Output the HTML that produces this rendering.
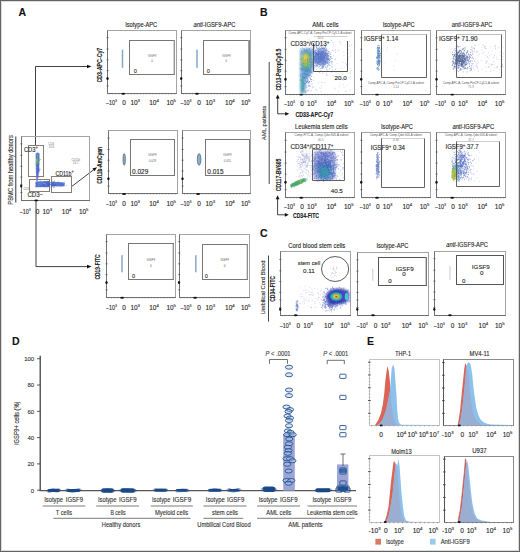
<!DOCTYPE html>
<html><head><meta charset="utf-8"><style>
html,body{margin:0;padding:0;background:#fff;}
svg{display:block;font-family:"Liberation Sans", sans-serif;}
text{stroke:#333;stroke-width:0.12px;}
text.t{stroke:none;}
</style></head><body>
<svg width="520" height="552" viewBox="0 0 520 552">
<defs><filter id="b1" x="-20%" y="-20%" width="140%" height="140%"><feGaussianBlur stdDeviation="0.9"/></filter>
<filter id="b2" x="-20%" y="-20%" width="140%" height="140%"><feGaussianBlur stdDeviation="0.5"/></filter></defs>
<rect x="1.5" y="1.5" width="517" height="549" fill="none" stroke="#dcdcdc" stroke-width="1"/>
<rect x="0.5" y="0.5" width="519" height="551" fill="none" stroke="#646464" stroke-width="1"/>
<text x="18.4" y="15.6" font-size="10.5" text-anchor="start" font-weight="bold" fill="#111">A</text>
<rect x="107.5" y="30.5" width="69.0" height="63.0" stroke="#a4a4a4" stroke-width="1.0" fill="none"/>
<line x1="107.5" y1="30.5" x2="107.5" y2="94.0" stroke="#707070" stroke-width="1.0"/>
<line x1="107.0" y1="93.5" x2="177.0" y2="93.5" stroke="#707070" stroke-width="1.0"/>
<line x1="106.5" y1="37.62" x2="108.7" y2="37.62" stroke="#444" stroke-width="0.6"/>
<line x1="106.5" y1="49.05" x2="108.7" y2="49.05" stroke="#444" stroke-width="0.6"/>
<line x1="106.5" y1="59.845" x2="108.7" y2="59.845" stroke="#444" stroke-width="0.6"/>
<line x1="106.5" y1="70.64" x2="108.7" y2="70.64" stroke="#444" stroke-width="0.6"/>
<line x1="106.5" y1="78.25999999999999" x2="108.7" y2="78.25999999999999" stroke="#444" stroke-width="0.6"/>
<line x1="106.5" y1="85.88" x2="108.7" y2="85.88" stroke="#444" stroke-width="0.6"/>
<line x1="109.5" y1="93.5" x2="109.5" y2="94.5" stroke="#555" stroke-width="0.4"/>
<line x1="112.6" y1="93.5" x2="112.6" y2="94.5" stroke="#555" stroke-width="0.4"/>
<line x1="115.7" y1="93.5" x2="115.7" y2="94.5" stroke="#555" stroke-width="0.4"/>
<line x1="118.8" y1="93.5" x2="118.8" y2="94.5" stroke="#555" stroke-width="0.4"/>
<line x1="121.9" y1="93.5" x2="121.9" y2="94.5" stroke="#555" stroke-width="0.4"/>
<line x1="125.0" y1="93.5" x2="125.0" y2="94.5" stroke="#555" stroke-width="0.4"/>
<line x1="128.1" y1="93.5" x2="128.1" y2="94.5" stroke="#555" stroke-width="0.4"/>
<line x1="131.2" y1="93.5" x2="131.2" y2="94.5" stroke="#555" stroke-width="0.4"/>
<line x1="134.3" y1="93.5" x2="134.3" y2="94.5" stroke="#555" stroke-width="0.4"/>
<line x1="137.4" y1="93.5" x2="137.4" y2="94.5" stroke="#555" stroke-width="0.4"/>
<line x1="140.5" y1="93.5" x2="140.5" y2="94.5" stroke="#555" stroke-width="0.4"/>
<line x1="143.6" y1="93.5" x2="143.6" y2="94.5" stroke="#555" stroke-width="0.4"/>
<line x1="146.7" y1="93.5" x2="146.7" y2="94.5" stroke="#555" stroke-width="0.4"/>
<line x1="149.8" y1="93.5" x2="149.8" y2="94.5" stroke="#555" stroke-width="0.4"/>
<line x1="152.89999999999998" y1="93.5" x2="152.89999999999998" y2="94.5" stroke="#555" stroke-width="0.4"/>
<line x1="156.0" y1="93.5" x2="156.0" y2="94.5" stroke="#555" stroke-width="0.4"/>
<line x1="159.1" y1="93.5" x2="159.1" y2="94.5" stroke="#555" stroke-width="0.4"/>
<line x1="162.2" y1="93.5" x2="162.2" y2="94.5" stroke="#555" stroke-width="0.4"/>
<line x1="165.3" y1="93.5" x2="165.3" y2="94.5" stroke="#555" stroke-width="0.4"/>
<line x1="168.39999999999998" y1="93.5" x2="168.39999999999998" y2="94.5" stroke="#555" stroke-width="0.4"/>
<line x1="171.5" y1="93.5" x2="171.5" y2="94.5" stroke="#555" stroke-width="0.4"/>
<line x1="174.6" y1="93.5" x2="174.6" y2="94.5" stroke="#555" stroke-width="0.4"/>
<ellipse cx="107.50" cy="78.51" rx="1.1" ry="1.5" fill="#111"/>
<ellipse cx="123.25" cy="93.80" rx="1.9" ry="0.95" fill="#111"/>
<text x="111.60" y="105.0" font-size="6.5" text-anchor="middle" fill="#222" textLength="11" lengthAdjust="spacingAndGlyphs">–10<tspan font-size="4.29" baseline-shift="2.73">3</tspan></text>
<text x="124.00" y="105.0" font-size="6.5" text-anchor="middle" font-weight="normal" fill="#222">0</text>
<text x="135.20" y="105.0" font-size="6.5" text-anchor="middle" fill="#222">10<tspan font-size="4.29" baseline-shift="2.73">3</tspan></text>
<text x="154.00" y="105.0" font-size="6.5" text-anchor="middle" fill="#222">10<tspan font-size="4.29" baseline-shift="2.73">4</tspan></text>
<text x="171.20" y="105.0" font-size="6.5" text-anchor="middle" fill="#222">10<tspan font-size="4.29" baseline-shift="2.73">5</tspan></text>
<rect x="181.5" y="30.5" width="69.0" height="63.0" stroke="#a4a4a4" stroke-width="1.0" fill="none"/>
<line x1="181.5" y1="30.5" x2="181.5" y2="94.0" stroke="#707070" stroke-width="1.0"/>
<line x1="181.0" y1="93.5" x2="251.0" y2="93.5" stroke="#707070" stroke-width="1.0"/>
<line x1="180.2" y1="37.62" x2="182.39999999999998" y2="37.62" stroke="#444" stroke-width="0.6"/>
<line x1="180.2" y1="49.05" x2="182.39999999999998" y2="49.05" stroke="#444" stroke-width="0.6"/>
<line x1="180.2" y1="59.845" x2="182.39999999999998" y2="59.845" stroke="#444" stroke-width="0.6"/>
<line x1="180.2" y1="70.64" x2="182.39999999999998" y2="70.64" stroke="#444" stroke-width="0.6"/>
<line x1="180.2" y1="78.25999999999999" x2="182.39999999999998" y2="78.25999999999999" stroke="#444" stroke-width="0.6"/>
<line x1="180.2" y1="85.88" x2="182.39999999999998" y2="85.88" stroke="#444" stroke-width="0.6"/>
<line x1="183.2" y1="93.5" x2="183.2" y2="94.5" stroke="#555" stroke-width="0.4"/>
<line x1="186.3047619047619" y1="93.5" x2="186.3047619047619" y2="94.5" stroke="#555" stroke-width="0.4"/>
<line x1="189.4095238095238" y1="93.5" x2="189.4095238095238" y2="94.5" stroke="#555" stroke-width="0.4"/>
<line x1="192.5142857142857" y1="93.5" x2="192.5142857142857" y2="94.5" stroke="#555" stroke-width="0.4"/>
<line x1="195.61904761904762" y1="93.5" x2="195.61904761904762" y2="94.5" stroke="#555" stroke-width="0.4"/>
<line x1="198.7238095238095" y1="93.5" x2="198.7238095238095" y2="94.5" stroke="#555" stroke-width="0.4"/>
<line x1="201.82857142857142" y1="93.5" x2="201.82857142857142" y2="94.5" stroke="#555" stroke-width="0.4"/>
<line x1="204.93333333333334" y1="93.5" x2="204.93333333333334" y2="94.5" stroke="#555" stroke-width="0.4"/>
<line x1="208.03809523809522" y1="93.5" x2="208.03809523809522" y2="94.5" stroke="#555" stroke-width="0.4"/>
<line x1="211.14285714285714" y1="93.5" x2="211.14285714285714" y2="94.5" stroke="#555" stroke-width="0.4"/>
<line x1="214.24761904761905" y1="93.5" x2="214.24761904761905" y2="94.5" stroke="#555" stroke-width="0.4"/>
<line x1="217.35238095238094" y1="93.5" x2="217.35238095238094" y2="94.5" stroke="#555" stroke-width="0.4"/>
<line x1="220.45714285714286" y1="93.5" x2="220.45714285714286" y2="94.5" stroke="#555" stroke-width="0.4"/>
<line x1="223.56190476190477" y1="93.5" x2="223.56190476190477" y2="94.5" stroke="#555" stroke-width="0.4"/>
<line x1="226.66666666666666" y1="93.5" x2="226.66666666666666" y2="94.5" stroke="#555" stroke-width="0.4"/>
<line x1="229.77142857142857" y1="93.5" x2="229.77142857142857" y2="94.5" stroke="#555" stroke-width="0.4"/>
<line x1="232.8761904761905" y1="93.5" x2="232.8761904761905" y2="94.5" stroke="#555" stroke-width="0.4"/>
<line x1="235.98095238095237" y1="93.5" x2="235.98095238095237" y2="94.5" stroke="#555" stroke-width="0.4"/>
<line x1="239.0857142857143" y1="93.5" x2="239.0857142857143" y2="94.5" stroke="#555" stroke-width="0.4"/>
<line x1="242.1904761904762" y1="93.5" x2="242.1904761904762" y2="94.5" stroke="#555" stroke-width="0.4"/>
<line x1="245.29523809523812" y1="93.5" x2="245.29523809523812" y2="94.5" stroke="#555" stroke-width="0.4"/>
<line x1="248.4" y1="93.5" x2="248.4" y2="94.5" stroke="#555" stroke-width="0.4"/>
<ellipse cx="181.20" cy="78.51" rx="1.1" ry="1.5" fill="#111"/>
<ellipse cx="196.98" cy="93.80" rx="1.9" ry="0.95" fill="#111"/>
<text x="185.90" y="105.0" font-size="6.5" text-anchor="middle" fill="#222" textLength="11" lengthAdjust="spacingAndGlyphs">–10<tspan font-size="4.29" baseline-shift="2.73">3</tspan></text>
<text x="199.00" y="105.0" font-size="6.5" text-anchor="middle" font-weight="normal" fill="#222">0</text>
<text x="210.30" y="105.0" font-size="6.5" text-anchor="middle" fill="#222">10<tspan font-size="4.29" baseline-shift="2.73">3</tspan></text>
<text x="229.90" y="105.0" font-size="6.5" text-anchor="middle" fill="#222">10<tspan font-size="4.29" baseline-shift="2.73">4</tspan></text>
<text x="245.70" y="105.0" font-size="6.5" text-anchor="middle" fill="#222">10<tspan font-size="4.29" baseline-shift="2.73">5</tspan></text>
<rect x="108.5" y="130.5" width="69.0" height="63.0" stroke="#a4a4a4" stroke-width="1.0" fill="none"/>
<line x1="108.5" y1="130.5" x2="108.5" y2="194.0" stroke="#707070" stroke-width="1.0"/>
<line x1="108.0" y1="193.5" x2="178.0" y2="193.5" stroke="#707070" stroke-width="1.0"/>
<line x1="107.4" y1="138.084" x2="109.60000000000001" y2="138.084" stroke="#444" stroke-width="0.6"/>
<line x1="107.4" y1="149.46" x2="109.60000000000001" y2="149.46" stroke="#444" stroke-width="0.6"/>
<line x1="107.4" y1="160.204" x2="109.60000000000001" y2="160.204" stroke="#444" stroke-width="0.6"/>
<line x1="107.4" y1="170.94799999999998" x2="109.60000000000001" y2="170.94799999999998" stroke="#444" stroke-width="0.6"/>
<line x1="107.4" y1="178.53199999999998" x2="109.60000000000001" y2="178.53199999999998" stroke="#444" stroke-width="0.6"/>
<line x1="107.4" y1="186.11599999999999" x2="109.60000000000001" y2="186.11599999999999" stroke="#444" stroke-width="0.6"/>
<line x1="110.4" y1="193.7" x2="110.4" y2="194.7" stroke="#555" stroke-width="0.4"/>
<line x1="113.47619047619048" y1="193.7" x2="113.47619047619048" y2="194.7" stroke="#555" stroke-width="0.4"/>
<line x1="116.55238095238096" y1="193.7" x2="116.55238095238096" y2="194.7" stroke="#555" stroke-width="0.4"/>
<line x1="119.62857142857143" y1="193.7" x2="119.62857142857143" y2="194.7" stroke="#555" stroke-width="0.4"/>
<line x1="122.70476190476191" y1="193.7" x2="122.70476190476191" y2="194.7" stroke="#555" stroke-width="0.4"/>
<line x1="125.78095238095239" y1="193.7" x2="125.78095238095239" y2="194.7" stroke="#555" stroke-width="0.4"/>
<line x1="128.85714285714286" y1="193.7" x2="128.85714285714286" y2="194.7" stroke="#555" stroke-width="0.4"/>
<line x1="131.93333333333334" y1="193.7" x2="131.93333333333334" y2="194.7" stroke="#555" stroke-width="0.4"/>
<line x1="135.0095238095238" y1="193.7" x2="135.0095238095238" y2="194.7" stroke="#555" stroke-width="0.4"/>
<line x1="138.0857142857143" y1="193.7" x2="138.0857142857143" y2="194.7" stroke="#555" stroke-width="0.4"/>
<line x1="141.16190476190476" y1="193.7" x2="141.16190476190476" y2="194.7" stroke="#555" stroke-width="0.4"/>
<line x1="144.23809523809524" y1="193.7" x2="144.23809523809524" y2="194.7" stroke="#555" stroke-width="0.4"/>
<line x1="147.31428571428572" y1="193.7" x2="147.31428571428572" y2="194.7" stroke="#555" stroke-width="0.4"/>
<line x1="150.3904761904762" y1="193.7" x2="150.3904761904762" y2="194.7" stroke="#555" stroke-width="0.4"/>
<line x1="153.46666666666667" y1="193.7" x2="153.46666666666667" y2="194.7" stroke="#555" stroke-width="0.4"/>
<line x1="156.54285714285714" y1="193.7" x2="156.54285714285714" y2="194.7" stroke="#555" stroke-width="0.4"/>
<line x1="159.61904761904762" y1="193.7" x2="159.61904761904762" y2="194.7" stroke="#555" stroke-width="0.4"/>
<line x1="162.6952380952381" y1="193.7" x2="162.6952380952381" y2="194.7" stroke="#555" stroke-width="0.4"/>
<line x1="165.77142857142857" y1="193.7" x2="165.77142857142857" y2="194.7" stroke="#555" stroke-width="0.4"/>
<line x1="168.84761904761905" y1="193.7" x2="168.84761904761905" y2="194.7" stroke="#555" stroke-width="0.4"/>
<line x1="171.92380952380952" y1="193.7" x2="171.92380952380952" y2="194.7" stroke="#555" stroke-width="0.4"/>
<line x1="175.0" y1="193.7" x2="175.0" y2="194.7" stroke="#555" stroke-width="0.4"/>
<ellipse cx="108.40" cy="178.78" rx="1.1" ry="1.5" fill="#111"/>
<ellipse cx="124.04" cy="194.00" rx="1.9" ry="0.95" fill="#111"/>
<text x="111.60" y="205.5" font-size="6.5" text-anchor="middle" fill="#222" textLength="11" lengthAdjust="spacingAndGlyphs">–10<tspan font-size="4.29" baseline-shift="2.73">3</tspan></text>
<text x="124.00" y="205.5" font-size="6.5" text-anchor="middle" font-weight="normal" fill="#222">0</text>
<text x="135.20" y="205.5" font-size="6.5" text-anchor="middle" fill="#222">10<tspan font-size="4.29" baseline-shift="2.73">3</tspan></text>
<text x="154.00" y="205.5" font-size="6.5" text-anchor="middle" fill="#222">10<tspan font-size="4.29" baseline-shift="2.73">4</tspan></text>
<text x="171.20" y="205.5" font-size="6.5" text-anchor="middle" fill="#222">10<tspan font-size="4.29" baseline-shift="2.73">5</tspan></text>
<rect x="182.5" y="130.5" width="68.0" height="63.0" stroke="#a4a4a4" stroke-width="1.0" fill="none"/>
<line x1="182.5" y1="130.5" x2="182.5" y2="194.0" stroke="#707070" stroke-width="1.0"/>
<line x1="182.0" y1="193.5" x2="251.0" y2="193.5" stroke="#707070" stroke-width="1.0"/>
<line x1="181.5" y1="138.084" x2="183.7" y2="138.084" stroke="#444" stroke-width="0.6"/>
<line x1="181.5" y1="149.46" x2="183.7" y2="149.46" stroke="#444" stroke-width="0.6"/>
<line x1="181.5" y1="160.204" x2="183.7" y2="160.204" stroke="#444" stroke-width="0.6"/>
<line x1="181.5" y1="170.94799999999998" x2="183.7" y2="170.94799999999998" stroke="#444" stroke-width="0.6"/>
<line x1="181.5" y1="178.53199999999998" x2="183.7" y2="178.53199999999998" stroke="#444" stroke-width="0.6"/>
<line x1="181.5" y1="186.11599999999999" x2="183.7" y2="186.11599999999999" stroke="#444" stroke-width="0.6"/>
<line x1="184.5" y1="193.7" x2="184.5" y2="194.7" stroke="#555" stroke-width="0.4"/>
<line x1="187.56190476190477" y1="193.7" x2="187.56190476190477" y2="194.7" stroke="#555" stroke-width="0.4"/>
<line x1="190.6238095238095" y1="193.7" x2="190.6238095238095" y2="194.7" stroke="#555" stroke-width="0.4"/>
<line x1="193.68571428571428" y1="193.7" x2="193.68571428571428" y2="194.7" stroke="#555" stroke-width="0.4"/>
<line x1="196.74761904761905" y1="193.7" x2="196.74761904761905" y2="194.7" stroke="#555" stroke-width="0.4"/>
<line x1="199.80952380952382" y1="193.7" x2="199.80952380952382" y2="194.7" stroke="#555" stroke-width="0.4"/>
<line x1="202.87142857142857" y1="193.7" x2="202.87142857142857" y2="194.7" stroke="#555" stroke-width="0.4"/>
<line x1="205.93333333333334" y1="193.7" x2="205.93333333333334" y2="194.7" stroke="#555" stroke-width="0.4"/>
<line x1="208.9952380952381" y1="193.7" x2="208.9952380952381" y2="194.7" stroke="#555" stroke-width="0.4"/>
<line x1="212.05714285714285" y1="193.7" x2="212.05714285714285" y2="194.7" stroke="#555" stroke-width="0.4"/>
<line x1="215.11904761904762" y1="193.7" x2="215.11904761904762" y2="194.7" stroke="#555" stroke-width="0.4"/>
<line x1="218.1809523809524" y1="193.7" x2="218.1809523809524" y2="194.7" stroke="#555" stroke-width="0.4"/>
<line x1="221.24285714285713" y1="193.7" x2="221.24285714285713" y2="194.7" stroke="#555" stroke-width="0.4"/>
<line x1="224.3047619047619" y1="193.7" x2="224.3047619047619" y2="194.7" stroke="#555" stroke-width="0.4"/>
<line x1="227.36666666666667" y1="193.7" x2="227.36666666666667" y2="194.7" stroke="#555" stroke-width="0.4"/>
<line x1="230.42857142857144" y1="193.7" x2="230.42857142857144" y2="194.7" stroke="#555" stroke-width="0.4"/>
<line x1="233.49047619047622" y1="193.7" x2="233.49047619047622" y2="194.7" stroke="#555" stroke-width="0.4"/>
<line x1="236.55238095238096" y1="193.7" x2="236.55238095238096" y2="194.7" stroke="#555" stroke-width="0.4"/>
<line x1="239.61428571428573" y1="193.7" x2="239.61428571428573" y2="194.7" stroke="#555" stroke-width="0.4"/>
<line x1="242.6761904761905" y1="193.7" x2="242.6761904761905" y2="194.7" stroke="#555" stroke-width="0.4"/>
<line x1="245.73809523809524" y1="193.7" x2="245.73809523809524" y2="194.7" stroke="#555" stroke-width="0.4"/>
<line x1="248.8" y1="193.7" x2="248.8" y2="194.7" stroke="#555" stroke-width="0.4"/>
<ellipse cx="182.50" cy="178.78" rx="1.1" ry="1.5" fill="#111"/>
<ellipse cx="198.07" cy="194.00" rx="1.9" ry="0.95" fill="#111"/>
<text x="185.90" y="205.5" font-size="6.5" text-anchor="middle" fill="#222" textLength="11" lengthAdjust="spacingAndGlyphs">–10<tspan font-size="4.29" baseline-shift="2.73">3</tspan></text>
<text x="199.00" y="205.5" font-size="6.5" text-anchor="middle" font-weight="normal" fill="#222">0</text>
<text x="210.30" y="205.5" font-size="6.5" text-anchor="middle" fill="#222">10<tspan font-size="4.29" baseline-shift="2.73">3</tspan></text>
<text x="229.90" y="205.5" font-size="6.5" text-anchor="middle" fill="#222">10<tspan font-size="4.29" baseline-shift="2.73">4</tspan></text>
<text x="245.70" y="205.5" font-size="6.5" text-anchor="middle" fill="#222">10<tspan font-size="4.29" baseline-shift="2.73">5</tspan></text>
<rect x="106.5" y="234.5" width="69.0" height="63.0" stroke="#a4a4a4" stroke-width="1.0" fill="none"/>
<line x1="106.5" y1="234.5" x2="106.5" y2="298.0" stroke="#707070" stroke-width="1.0"/>
<line x1="106.0" y1="297.5" x2="176.0" y2="297.5" stroke="#707070" stroke-width="1.0"/>
<line x1="105.5" y1="241.62" x2="107.7" y2="241.62" stroke="#444" stroke-width="0.6"/>
<line x1="105.5" y1="253.05" x2="107.7" y2="253.05" stroke="#444" stroke-width="0.6"/>
<line x1="105.5" y1="263.845" x2="107.7" y2="263.845" stroke="#444" stroke-width="0.6"/>
<line x1="105.5" y1="274.64" x2="107.7" y2="274.64" stroke="#444" stroke-width="0.6"/>
<line x1="105.5" y1="282.26" x2="107.7" y2="282.26" stroke="#444" stroke-width="0.6"/>
<line x1="105.5" y1="289.88" x2="107.7" y2="289.88" stroke="#444" stroke-width="0.6"/>
<line x1="108.5" y1="297.5" x2="108.5" y2="298.5" stroke="#555" stroke-width="0.4"/>
<line x1="111.57142857142857" y1="297.5" x2="111.57142857142857" y2="298.5" stroke="#555" stroke-width="0.4"/>
<line x1="114.64285714285714" y1="297.5" x2="114.64285714285714" y2="298.5" stroke="#555" stroke-width="0.4"/>
<line x1="117.71428571428571" y1="297.5" x2="117.71428571428571" y2="298.5" stroke="#555" stroke-width="0.4"/>
<line x1="120.78571428571429" y1="297.5" x2="120.78571428571429" y2="298.5" stroke="#555" stroke-width="0.4"/>
<line x1="123.85714285714286" y1="297.5" x2="123.85714285714286" y2="298.5" stroke="#555" stroke-width="0.4"/>
<line x1="126.92857142857143" y1="297.5" x2="126.92857142857143" y2="298.5" stroke="#555" stroke-width="0.4"/>
<line x1="130.0" y1="297.5" x2="130.0" y2="298.5" stroke="#555" stroke-width="0.4"/>
<line x1="133.07142857142858" y1="297.5" x2="133.07142857142858" y2="298.5" stroke="#555" stroke-width="0.4"/>
<line x1="136.14285714285714" y1="297.5" x2="136.14285714285714" y2="298.5" stroke="#555" stroke-width="0.4"/>
<line x1="139.21428571428572" y1="297.5" x2="139.21428571428572" y2="298.5" stroke="#555" stroke-width="0.4"/>
<line x1="142.28571428571428" y1="297.5" x2="142.28571428571428" y2="298.5" stroke="#555" stroke-width="0.4"/>
<line x1="145.35714285714286" y1="297.5" x2="145.35714285714286" y2="298.5" stroke="#555" stroke-width="0.4"/>
<line x1="148.42857142857144" y1="297.5" x2="148.42857142857144" y2="298.5" stroke="#555" stroke-width="0.4"/>
<line x1="151.5" y1="297.5" x2="151.5" y2="298.5" stroke="#555" stroke-width="0.4"/>
<line x1="154.57142857142856" y1="297.5" x2="154.57142857142856" y2="298.5" stroke="#555" stroke-width="0.4"/>
<line x1="157.64285714285714" y1="297.5" x2="157.64285714285714" y2="298.5" stroke="#555" stroke-width="0.4"/>
<line x1="160.71428571428572" y1="297.5" x2="160.71428571428572" y2="298.5" stroke="#555" stroke-width="0.4"/>
<line x1="163.78571428571428" y1="297.5" x2="163.78571428571428" y2="298.5" stroke="#555" stroke-width="0.4"/>
<line x1="166.85714285714286" y1="297.5" x2="166.85714285714286" y2="298.5" stroke="#555" stroke-width="0.4"/>
<line x1="169.92857142857144" y1="297.5" x2="169.92857142857144" y2="298.5" stroke="#555" stroke-width="0.4"/>
<line x1="173.0" y1="297.5" x2="173.0" y2="298.5" stroke="#555" stroke-width="0.4"/>
<ellipse cx="106.50" cy="282.51" rx="1.1" ry="1.5" fill="#111"/>
<ellipse cx="122.12" cy="297.80" rx="1.9" ry="0.95" fill="#111"/>
<text x="111.60" y="310.1" font-size="6.5" text-anchor="middle" fill="#222" textLength="11" lengthAdjust="spacingAndGlyphs">–10<tspan font-size="4.29" baseline-shift="2.73">3</tspan></text>
<text x="124.00" y="310.1" font-size="6.5" text-anchor="middle" font-weight="normal" fill="#222">0</text>
<text x="135.20" y="310.1" font-size="6.5" text-anchor="middle" fill="#222">10<tspan font-size="4.29" baseline-shift="2.73">3</tspan></text>
<text x="154.00" y="310.1" font-size="6.5" text-anchor="middle" fill="#222">10<tspan font-size="4.29" baseline-shift="2.73">4</tspan></text>
<text x="171.20" y="310.1" font-size="6.5" text-anchor="middle" fill="#222">10<tspan font-size="4.29" baseline-shift="2.73">5</tspan></text>
<rect x="179.5" y="234.5" width="70.0" height="63.0" stroke="#a4a4a4" stroke-width="1.0" fill="none"/>
<line x1="179.5" y1="234.5" x2="179.5" y2="298.0" stroke="#707070" stroke-width="1.0"/>
<line x1="179.0" y1="297.5" x2="250.0" y2="297.5" stroke="#707070" stroke-width="1.0"/>
<line x1="178.0" y1="241.62" x2="180.2" y2="241.62" stroke="#444" stroke-width="0.6"/>
<line x1="178.0" y1="253.05" x2="180.2" y2="253.05" stroke="#444" stroke-width="0.6"/>
<line x1="178.0" y1="263.845" x2="180.2" y2="263.845" stroke="#444" stroke-width="0.6"/>
<line x1="178.0" y1="274.64" x2="180.2" y2="274.64" stroke="#444" stroke-width="0.6"/>
<line x1="178.0" y1="282.26" x2="180.2" y2="282.26" stroke="#444" stroke-width="0.6"/>
<line x1="178.0" y1="289.88" x2="180.2" y2="289.88" stroke="#444" stroke-width="0.6"/>
<line x1="181.0" y1="297.5" x2="181.0" y2="298.5" stroke="#555" stroke-width="0.4"/>
<line x1="184.17142857142858" y1="297.5" x2="184.17142857142858" y2="298.5" stroke="#555" stroke-width="0.4"/>
<line x1="187.34285714285716" y1="297.5" x2="187.34285714285716" y2="298.5" stroke="#555" stroke-width="0.4"/>
<line x1="190.5142857142857" y1="297.5" x2="190.5142857142857" y2="298.5" stroke="#555" stroke-width="0.4"/>
<line x1="193.68571428571428" y1="297.5" x2="193.68571428571428" y2="298.5" stroke="#555" stroke-width="0.4"/>
<line x1="196.85714285714286" y1="297.5" x2="196.85714285714286" y2="298.5" stroke="#555" stroke-width="0.4"/>
<line x1="200.02857142857144" y1="297.5" x2="200.02857142857144" y2="298.5" stroke="#555" stroke-width="0.4"/>
<line x1="203.2" y1="297.5" x2="203.2" y2="298.5" stroke="#555" stroke-width="0.4"/>
<line x1="206.37142857142857" y1="297.5" x2="206.37142857142857" y2="298.5" stroke="#555" stroke-width="0.4"/>
<line x1="209.54285714285714" y1="297.5" x2="209.54285714285714" y2="298.5" stroke="#555" stroke-width="0.4"/>
<line x1="212.71428571428572" y1="297.5" x2="212.71428571428572" y2="298.5" stroke="#555" stroke-width="0.4"/>
<line x1="215.88571428571427" y1="297.5" x2="215.88571428571427" y2="298.5" stroke="#555" stroke-width="0.4"/>
<line x1="219.05714285714285" y1="297.5" x2="219.05714285714285" y2="298.5" stroke="#555" stroke-width="0.4"/>
<line x1="222.22857142857143" y1="297.5" x2="222.22857142857143" y2="298.5" stroke="#555" stroke-width="0.4"/>
<line x1="225.39999999999998" y1="297.5" x2="225.39999999999998" y2="298.5" stroke="#555" stroke-width="0.4"/>
<line x1="228.57142857142856" y1="297.5" x2="228.57142857142856" y2="298.5" stroke="#555" stroke-width="0.4"/>
<line x1="231.74285714285713" y1="297.5" x2="231.74285714285713" y2="298.5" stroke="#555" stroke-width="0.4"/>
<line x1="234.9142857142857" y1="297.5" x2="234.9142857142857" y2="298.5" stroke="#555" stroke-width="0.4"/>
<line x1="238.0857142857143" y1="297.5" x2="238.0857142857143" y2="298.5" stroke="#555" stroke-width="0.4"/>
<line x1="241.25714285714287" y1="297.5" x2="241.25714285714287" y2="298.5" stroke="#555" stroke-width="0.4"/>
<line x1="244.42857142857144" y1="297.5" x2="244.42857142857144" y2="298.5" stroke="#555" stroke-width="0.4"/>
<line x1="247.6" y1="297.5" x2="247.6" y2="298.5" stroke="#555" stroke-width="0.4"/>
<ellipse cx="179.00" cy="282.51" rx="1.1" ry="1.5" fill="#111"/>
<ellipse cx="195.10" cy="297.80" rx="1.9" ry="0.95" fill="#111"/>
<text x="185.90" y="310.1" font-size="6.5" text-anchor="middle" fill="#222" textLength="11" lengthAdjust="spacingAndGlyphs">–10<tspan font-size="4.29" baseline-shift="2.73">3</tspan></text>
<text x="199.00" y="310.1" font-size="6.5" text-anchor="middle" font-weight="normal" fill="#222">0</text>
<text x="210.30" y="310.1" font-size="6.5" text-anchor="middle" fill="#222">10<tspan font-size="4.29" baseline-shift="2.73">3</tspan></text>
<text x="229.90" y="310.1" font-size="6.5" text-anchor="middle" fill="#222">10<tspan font-size="4.29" baseline-shift="2.73">4</tspan></text>
<text x="245.70" y="310.1" font-size="6.5" text-anchor="middle" fill="#222">10<tspan font-size="4.29" baseline-shift="2.73">5</tspan></text>
<text x="141.2" y="26.8" font-size="6.3" text-anchor="middle" font-weight="normal" fill="#222" textLength="32" lengthAdjust="spacingAndGlyphs">Isotype-APC</text>
<text x="214.5" y="26.8" font-size="6.3" text-anchor="middle" fill="#222" textLength="42" lengthAdjust="spacingAndGlyphs"><tspan font-style="italic">anti</tspan>-IGSF9-APC</text>
<rect x="129.5" y="40.5" width="45.0" height="34.0" stroke="#777" stroke-width="1.0" fill="none"/>
<line x1="174.2" y1="40" x2="174.2" y2="74.5" stroke="#999" stroke-width="1.2"/>
<line x1="122.5" y1="49.5" x2="122.5" y2="68" stroke="#bcd6f0" stroke-width="2.0"/>
<line x1="122.5" y1="50" x2="122.5" y2="67.5" stroke="#7c98b0" stroke-width="0.8"/>
<text x="135.4" y="73.2" font-size="5.6" text-anchor="middle" font-weight="normal" fill="#333">0</text>
<text x="152.15" y="56.5" font-size="2.9" text-anchor="middle" font-weight="normal" fill="#666" class="t">IGSF9</text>
<text x="152.15" y="62" font-size="2.9" text-anchor="middle" font-weight="normal" fill="#666" class="t">0</text>
<rect x="203.5" y="40.5" width="46.0" height="34.0" stroke="#777" stroke-width="1.0" fill="none"/>
<line x1="248.7" y1="40" x2="248.7" y2="74.5" stroke="#999" stroke-width="1.2"/>
<line x1="197" y1="49.5" x2="197" y2="68" stroke="#bcd6f0" stroke-width="2.0"/>
<line x1="197" y1="50" x2="197" y2="67.5" stroke="#7c98b0" stroke-width="0.8"/>
<text x="208.3" y="73.2" font-size="5.6" text-anchor="middle" font-weight="normal" fill="#333">0</text>
<text x="226.35" y="56.5" font-size="2.9" text-anchor="middle" font-weight="normal" fill="#666" class="t">IGSF9</text>
<text x="226.35" y="62" font-size="2.9" text-anchor="middle" font-weight="normal" fill="#666" class="t">0</text>
<rect x="130.5" y="139.5" width="44.0" height="36.0" stroke="#777" stroke-width="1.0" fill="none"/>
<ellipse cx="124.2" cy="159.4" rx="1.2" ry="5.8" fill="#8fb0c4" stroke="#3d5f7a" stroke-width="0.7"/>
<text x="132.05" y="173.8" font-size="6.3" text-anchor="start" font-weight="normal" fill="#222" textLength="16.2" lengthAdjust="spacingAndGlyphs">0.029</text>
<text x="152.5" y="155.8" font-size="2.9" text-anchor="middle" font-weight="normal" fill="#666" class="t">IGSF9</text>
<text x="152.5" y="161.5" font-size="2.9" text-anchor="middle" font-weight="normal" fill="#666" class="t">0.029</text>
<rect x="205.5" y="139.5" width="44.0" height="36.0" stroke="#777" stroke-width="1.0" fill="none"/>
<ellipse cx="199.1" cy="159.4" rx="1.8" ry="5.8" fill="#8fb0c4" stroke="#3d5f7a" stroke-width="0.7"/>
<text x="207.3" y="173.8" font-size="6.3" text-anchor="start" font-weight="normal" fill="#222" textLength="16.2" lengthAdjust="spacingAndGlyphs">0.015</text>
<text x="227.35" y="155.8" font-size="2.9" text-anchor="middle" font-weight="normal" fill="#666" class="t">IGSF9</text>
<text x="227.35" y="161.5" font-size="2.9" text-anchor="middle" font-weight="normal" fill="#666" class="t">0.015</text>
<rect x="128.5" y="243.5" width="45.0" height="36.0" stroke="#777" stroke-width="1.0" fill="none"/>
<line x1="173.2" y1="243.8" x2="173.2" y2="279.2" stroke="#999" stroke-width="1.1"/>
<line x1="122" y1="255" x2="122" y2="272.5" stroke="#bcd6f0" stroke-width="1.8"/>
<line x1="122" y1="255.5" x2="122" y2="272" stroke="#7c98ac" stroke-width="0.9"/>
<text x="133.5" y="278.4" font-size="5.6" text-anchor="middle" font-weight="normal" fill="#333">0</text>
<text x="150.85" y="260.5" font-size="2.9" text-anchor="middle" font-weight="normal" fill="#555" class="t">IGSF9</text>
<text x="150.85" y="266.8" font-size="3.2" text-anchor="middle" font-weight="normal" fill="#555" class="t">0</text>
<rect x="202.5" y="244.5" width="45.0" height="35.0" stroke="#777" stroke-width="1.0" fill="none"/>
<line x1="247.2" y1="244.2" x2="247.2" y2="279.5" stroke="#999" stroke-width="1.1"/>
<line x1="195.8" y1="255" x2="195.8" y2="272.5" stroke="#bcd6f0" stroke-width="1.8"/>
<line x1="195.8" y1="255.5" x2="195.8" y2="272" stroke="#7c98ac" stroke-width="0.9"/>
<text x="206.3" y="278.4" font-size="5.6" text-anchor="middle" font-weight="normal" fill="#333">0</text>
<text x="224.75" y="260.5" font-size="2.9" text-anchor="middle" font-weight="normal" fill="#555" class="t">IGSF9</text>
<text x="224.75" y="266.8" font-size="3.2" text-anchor="middle" font-weight="normal" fill="#555" class="t">0</text>
<text x="99.6" y="65.1" font-size="7.2" font-weight="bold" text-anchor="middle" fill="#111" textLength="34.8" lengthAdjust="spacingAndGlyphs" transform="rotate(-90 99.6 65.1)" dy="2.52">CD3-APC-Cy7</text>
<text x="99.2" y="165.4" font-size="7.2" font-weight="bold" text-anchor="middle" fill="#111" textLength="36.8" lengthAdjust="spacingAndGlyphs" transform="rotate(-90 99.2 165.4)" dy="2.52">CD11b-AmCyan</text>
<text x="97.4" y="267" font-size="7.2" font-weight="bold" text-anchor="middle" fill="#111" textLength="25.2" lengthAdjust="spacingAndGlyphs" transform="rotate(-90 97.4 267)" dy="2.52">CD19-FITC</text>
<text x="10.6" y="169.9" font-size="7.0" font-weight="normal" text-anchor="middle" fill="#333" textLength="69.5" lengthAdjust="spacingAndGlyphs" transform="rotate(-90 10.6 169.9)" dy="2.45">PBMC from healthy donors</text>
<line x1="15.8" y1="136.5" x2="15.8" y2="202.5" stroke="#333" stroke-width="1.0"/>
<polyline points="35.5,145.3 35.5,66.5 87.5,66.5" fill="none" stroke="#111" stroke-width="0.8"/>
<polygon points="91.5,66.5 87.00,68.30 87.00,64.70" fill="#111"/>
<polyline points="36,200 36,266.6 87.5,266.6" fill="none" stroke="#111" stroke-width="0.8"/>
<polygon points="91.5,266.6 87.00,268.40 87.00,264.80" fill="#111"/>
<line x1="71.7" y1="186.5" x2="93.5" y2="169.9" stroke="#111" stroke-width="0.8"/>
<polygon points="97,167.2 94.52,171.37 92.33,168.51" fill="#111"/>
<rect x="21.5" y="136.5" width="68.0" height="64.0" stroke="#a4a4a4" stroke-width="1.0" fill="none"/>
<line x1="21.5" y1="136.5" x2="21.5" y2="201.0" stroke="#707070" stroke-width="1.0"/>
<line x1="21.0" y1="200.5" x2="90.0" y2="200.5" stroke="#707070" stroke-width="1.0"/>
<line x1="20.2" y1="143.868" x2="22.4" y2="143.868" stroke="#444" stroke-width="0.6"/>
<line x1="20.2" y1="155.37" x2="22.4" y2="155.37" stroke="#444" stroke-width="0.6"/>
<line x1="20.2" y1="166.233" x2="22.4" y2="166.233" stroke="#444" stroke-width="0.6"/>
<line x1="20.2" y1="177.096" x2="22.4" y2="177.096" stroke="#444" stroke-width="0.6"/>
<line x1="20.2" y1="184.764" x2="22.4" y2="184.764" stroke="#444" stroke-width="0.6"/>
<line x1="20.2" y1="192.432" x2="22.4" y2="192.432" stroke="#444" stroke-width="0.6"/>
<line x1="23.2" y1="200.1" x2="23.2" y2="201.1" stroke="#555" stroke-width="0.4"/>
<line x1="26.26190476190476" y1="200.1" x2="26.26190476190476" y2="201.1" stroke="#555" stroke-width="0.4"/>
<line x1="29.323809523809523" y1="200.1" x2="29.323809523809523" y2="201.1" stroke="#555" stroke-width="0.4"/>
<line x1="32.385714285714286" y1="200.1" x2="32.385714285714286" y2="201.1" stroke="#555" stroke-width="0.4"/>
<line x1="35.44761904761904" y1="200.1" x2="35.44761904761904" y2="201.1" stroke="#555" stroke-width="0.4"/>
<line x1="38.50952380952381" y1="200.1" x2="38.50952380952381" y2="201.1" stroke="#555" stroke-width="0.4"/>
<line x1="41.57142857142857" y1="200.1" x2="41.57142857142857" y2="201.1" stroke="#555" stroke-width="0.4"/>
<line x1="44.633333333333326" y1="200.1" x2="44.633333333333326" y2="201.1" stroke="#555" stroke-width="0.4"/>
<line x1="47.695238095238096" y1="200.1" x2="47.695238095238096" y2="201.1" stroke="#555" stroke-width="0.4"/>
<line x1="50.75714285714285" y1="200.1" x2="50.75714285714285" y2="201.1" stroke="#555" stroke-width="0.4"/>
<line x1="53.81904761904762" y1="200.1" x2="53.81904761904762" y2="201.1" stroke="#555" stroke-width="0.4"/>
<line x1="56.88095238095238" y1="200.1" x2="56.88095238095238" y2="201.1" stroke="#555" stroke-width="0.4"/>
<line x1="59.942857142857136" y1="200.1" x2="59.942857142857136" y2="201.1" stroke="#555" stroke-width="0.4"/>
<line x1="63.00476190476191" y1="200.1" x2="63.00476190476191" y2="201.1" stroke="#555" stroke-width="0.4"/>
<line x1="66.06666666666666" y1="200.1" x2="66.06666666666666" y2="201.1" stroke="#555" stroke-width="0.4"/>
<line x1="69.12857142857143" y1="200.1" x2="69.12857142857143" y2="201.1" stroke="#555" stroke-width="0.4"/>
<line x1="72.19047619047619" y1="200.1" x2="72.19047619047619" y2="201.1" stroke="#555" stroke-width="0.4"/>
<line x1="75.25238095238095" y1="200.1" x2="75.25238095238095" y2="201.1" stroke="#555" stroke-width="0.4"/>
<line x1="78.3142857142857" y1="200.1" x2="78.3142857142857" y2="201.1" stroke="#555" stroke-width="0.4"/>
<line x1="81.37619047619047" y1="200.1" x2="81.37619047619047" y2="201.1" stroke="#555" stroke-width="0.4"/>
<line x1="84.43809523809524" y1="200.1" x2="84.43809523809524" y2="201.1" stroke="#555" stroke-width="0.4"/>
<line x1="87.5" y1="200.1" x2="87.5" y2="201.1" stroke="#555" stroke-width="0.4"/>
<ellipse cx="21.20" cy="186.04" rx="1.1" ry="1.5" fill="#111"/>
<ellipse cx="36.23" cy="200.40" rx="1.9" ry="0.95" fill="#111"/>
<text x="25.16" y="213.8" font-size="6.5" text-anchor="middle" fill="#222" textLength="11" lengthAdjust="spacingAndGlyphs">–10<tspan font-size="4.29" baseline-shift="2.73">3</tspan></text>
<text x="37.59" y="213.8" font-size="6.5" text-anchor="middle" font-weight="normal" fill="#222">0</text>
<text x="47.29" y="213.8" font-size="6.5" text-anchor="middle" fill="#222">10<tspan font-size="4.29" baseline-shift="2.73">3</tspan></text>
<text x="66.62" y="213.8" font-size="6.5" text-anchor="middle" fill="#222">10<tspan font-size="4.29" baseline-shift="2.73">4</tspan></text>
<text x="83.69" y="213.8" font-size="6.5" text-anchor="middle" fill="#222">10<tspan font-size="4.29" baseline-shift="2.73">5</tspan></text>
<rect x="28.5" y="145.5" width="15.0" height="31.0" stroke="#8a7d78" stroke-width="1.0" fill="none"/>
<rect x="29.5" y="179.5" width="20.0" height="12.0" stroke="#8a7d78" stroke-width="1.0" fill="none"/>
<rect x="51.5" y="176.5" width="20.0" height="16.0" stroke="#8a7d78" stroke-width="1.0" fill="none"/>
<g filter="url(#b2)">
<path d="M35.6,153.5 Q37.5,151.5 39.6,154 L39.2,166 L38.2,176 L37.6,181 L36.4,181 L35.8,170 Z" fill="#5a6ad0" fill-opacity="0.85"/>
<ellipse cx="37.6" cy="161.5" rx="1.6" ry="6.5" fill="#4aa89a"/>
<ellipse cx="37.5" cy="161" rx="0.9" ry="3.5" fill="#98c050"/>
<path d="M35.5,181.5 L49.5,181 L49.5,187 L35.5,187.3 Z" fill="#3f5cc8" fill-opacity="0.85"/>
<path d="M51.5,181.5 L64.5,182.5 L64.5,186.3 L51.5,186.5 Z" fill="#3f5cc8" fill-opacity="0.8"/>
<ellipse cx="42" cy="184" rx="4.5" ry="1.3" fill="#7ea0e0"/>
<ellipse cx="56" cy="184.2" rx="3.5" ry="1.0" fill="#6e90d8"/>
</g>
<path d="M37.4 170.3h0.8M37.4 165.0h0.8M36.8 165.6h0.8M38.6 169.8h0.8M38.5 168.6h0.8M38.0 168.2h0.8M36.1 172.6h0.8M38.1 170.2h0.8M36.1 155.7h0.8M36.8 164.0h0.8M37.9 166.7h0.8M38.1 162.8h0.8M37.9 169.6h0.8M37.0 178.2h0.8M38.1 174.8h0.8M37.0 162.2h0.8M37.3 166.3h0.8M38.2 168.6h0.8M37.2 160.8h0.8M37.1 174.9h0.8M36.9 168.6h0.8M38.0 157.3h0.8M37.6 175.5h0.8M35.8 164.9h0.8M37.5 161.7h0.8M38.0 166.6h0.8M36.3 172.4h0.8M38.2 173.1h0.8M38.9 169.4h0.8M37.7 158.6h0.8M38.2 163.0h0.8M37.2 158.8h0.8M36.7 163.5h0.8M38.8 153.8h0.8M36.3 168.6h0.8M38.9 170.8h0.8M37.9 162.2h0.8M36.6 173.4h0.8M38.6 168.0h0.8M37.8 169.8h0.8M39.0 171.0h0.8M38.1 170.6h0.8M36.2 175.3h0.8M38.5 170.4h0.8M35.8 162.9h0.8M38.4 155.2h0.8M37.4 173.6h0.8M36.4 177.5h0.8M38.1 166.0h0.8M37.9 171.2h0.8M37.7 174.4h0.8M37.0 164.3h0.8M38.5 167.2h0.8M36.8 173.2h0.8M38.9 164.1h0.8M36.4 166.1h0.8M37.5 165.1h0.8M38.9 160.3h0.8M38.7 158.8h0.8M36.9 171.1h0.8M38.6 172.6h0.8M37.9 167.9h0.8M37.7 170.7h0.8M37.4 168.8h0.8M38.1 167.0h0.8M38.3 170.7h0.8M39.4 169.1h0.8M37.2 164.6h0.8M37.6 173.0h0.8M37.3 169.5h0.8M36.6 168.6h0.8M38.0 168.6h0.8M37.2 171.3h0.8M37.9 163.6h0.8M39.8 169.3h0.8M37.1 166.4h0.8M37.4 166.6h0.8M38.5 159.4h0.8M37.5 173.2h0.8M38.4 176.7h0.8M36.1 164.7h0.8M37.3 171.1h0.8M38.6 157.6h0.8M38.2 157.3h0.8M37.8 174.8h0.8M37.5 168.2h0.8M38.3 167.9h0.8M37.5 177.0h0.8M38.5 165.1h0.8M40.1 159.5h0.8M38.4 165.3h0.8M37.7 171.6h0.8M37.8 171.2h0.8M36.2 157.2h0.8M38.2 160.7h0.8M36.7 157.4h0.8M38.7 171.9h0.8M38.9 160.9h0.8M37.6 159.6h0.8M38.3 177.3h0.8" stroke="#4a5fc0" stroke-width="0.8" stroke-opacity="0.6" fill="none"/>
<path d="M41.9 186.3h0.8M56.9 184.1h0.8M48.2 183.5h0.8M52.2 184.8h0.8M61.0 183.0h0.8M58.1 186.2h0.8M60.6 184.1h0.8M43.0 185.6h0.8M49.9 184.5h0.8M60.4 184.0h0.8M51.5 183.5h0.8M48.9 185.4h0.8M49.6 186.0h0.8M48.5 185.7h0.8M60.9 186.4h0.8M43.6 185.4h0.8M39.1 184.3h0.8M47.5 184.3h0.8M44.3 184.6h0.8M63.3 184.4h0.8M53.2 185.6h0.8M47.4 182.7h0.8M44.6 185.7h0.8M35.8 183.5h0.8M57.1 185.3h0.8M49.1 185.3h0.8M50.3 182.8h0.8M36.5 183.5h0.8M56.4 183.6h0.8M41.8 183.3h0.8M36.7 184.1h0.8M39.6 184.8h0.8M43.9 181.8h0.8M54.8 183.9h0.8M51.3 183.7h0.8M55.2 185.3h0.8M54.3 184.7h0.8M59.7 185.2h0.8M52.6 181.6h0.8M56.2 186.0h0.8M46.6 183.7h0.8M64.5 182.0h0.8M52.8 187.5h0.8M41.6 185.2h0.8M64.1 184.1h0.8M53.5 185.5h0.8M41.8 184.2h0.8M51.3 185.4h0.8M48.7 184.0h0.8M40.9 183.8h0.8M56.1 184.4h0.8M42.2 183.2h0.8M54.1 180.9h0.8M54.0 184.9h0.8M62.5 184.9h0.8M48.5 185.0h0.8M51.6 183.4h0.8M59.6 186.7h0.8M37.8 183.4h0.8M51.3 184.5h0.8M45.8 183.0h0.8M66.0 185.6h0.8M39.4 182.6h0.8M62.6 185.6h0.8M63.6 185.4h0.8M42.0 184.6h0.8M48.5 185.0h0.8M43.2 184.1h0.8M52.7 184.8h0.8M54.1 184.6h0.8M46.4 185.3h0.8M49.4 183.2h0.8M44.0 184.3h0.8M48.1 184.5h0.8M49.0 184.5h0.8M47.9 182.7h0.8M52.4 185.7h0.8M52.5 184.1h0.8M52.6 183.0h0.8M41.6 185.3h0.8M40.3 180.9h0.8M40.7 186.4h0.8M45.9 182.5h0.8M42.9 185.0h0.8M53.0 184.5h0.8M60.9 185.2h0.8M48.8 185.1h0.8M62.2 185.6h0.8M57.2 182.9h0.8M47.8 185.2h0.8M46.6 185.7h0.8M53.8 185.5h0.8M47.3 187.6h0.8M58.9 184.0h0.8M49.7 187.7h0.8M46.3 185.4h0.8M56.8 184.3h0.8M39.7 184.5h0.8M51.9 185.8h0.8M55.3 184.3h0.8M55.8 185.0h0.8M50.6 184.4h0.8M47.1 185.2h0.8M40.6 183.5h0.8M49.0 182.4h0.8M45.5 181.7h0.8M43.5 185.0h0.8M53.5 184.2h0.8M47.1 182.5h0.8M63.6 185.0h0.8M57.7 183.2h0.8M47.5 181.9h0.8M55.2 185.5h0.8M54.0 182.0h0.8M44.0 182.5h0.8M49.3 184.6h0.8M54.1 185.2h0.8M61.0 185.8h0.8M38.5 183.6h0.8M40.5 182.9h0.8M48.3 184.3h0.8M52.9 182.2h0.8M39.1 184.3h0.8M47.4 183.9h0.8M48.5 183.3h0.8M54.6 184.8h0.8M48.3 183.4h0.8M47.6 180.8h0.8M41.1 184.3h0.8M37.0 184.6h0.8M50.2 182.5h0.8M47.0 183.9h0.8M52.7 185.1h0.8M48.7 183.2h0.8M47.8 184.2h0.8M54.9 184.7h0.8M43.2 182.5h0.8M46.0 183.3h0.8M40.1 184.1h0.8M45.1 184.4h0.8M53.2 183.8h0.8M57.8 184.5h0.8M57.9 181.2h0.8M43.0 184.6h0.8M53.8 187.3h0.8M51.6 186.0h0.8M55.1 185.5h0.8M53.1 184.1h0.8M53.1 182.9h0.8M58.5 183.0h0.8M51.0 187.1h0.8M47.2 184.3h0.8M58.3 184.3h0.8M42.5 184.6h0.8M53.7 185.2h0.8M42.8 186.6h0.8M62.3 184.3h0.8M51.1 183.7h0.8M60.3 183.4h0.8M54.4 183.7h0.8M43.4 185.2h0.8M59.7 184.3h0.8M43.6 185.4h0.8M48.6 184.7h0.8M61.2 185.8h0.8M44.8 187.3h0.8M49.0 185.3h0.8M43.8 184.2h0.8M35.0 186.6h0.8M59.9 182.7h0.8M37.0 182.2h0.8M58.4 183.7h0.8M48.5 183.9h0.8M48.0 182.9h0.8M49.2 182.4h0.8M48.4 184.7h0.8M52.7 184.0h0.8M41.8 184.5h0.8M45.1 186.3h0.8M55.1 184.2h0.8M45.2 183.4h0.8M41.5 183.8h0.8M51.4 185.0h0.8M53.6 187.0h0.8M43.4 184.3h0.8M44.8 184.5h0.8M50.2 184.8h0.8M47.1 184.8h0.8M49.4 185.3h0.8M49.0 183.0h0.8M40.6 185.1h0.8M43.8 185.1h0.8M55.0 184.7h0.8M53.1 184.2h0.8M37.7 184.3h0.8M52.6 183.6h0.8M48.2 185.3h0.8M42.0 185.1h0.8M63.9 183.6h0.8M50.2 184.1h0.8" stroke="#3f62c8" stroke-width="0.8" stroke-opacity="0.6" fill="none"/>
<text x="23.9" y="151.6" font-size="6.8" text-anchor="start" font-weight="normal" fill="#222" textLength="14" lengthAdjust="spacingAndGlyphs">CD3<tspan font-size="4.90" baseline-shift="2.58">+</tspan></text>
<text x="55.6" y="176.2" font-size="6.8" text-anchor="start" font-weight="normal" fill="#222" textLength="18" lengthAdjust="spacingAndGlyphs">CD11b<tspan font-size="4.90" baseline-shift="2.58">+</tspan></text>
<text x="27.4" y="197.2" font-size="6.8" text-anchor="start" font-weight="normal" fill="#222" textLength="15.8" lengthAdjust="spacingAndGlyphs">CD3−</text>
<text x="24" y="198" font-size="3" text-anchor="start" font-weight="normal" fill="#555" class="t">⁺⁺</text>
<text x="23.5" y="189.6" font-size="2.9" text-anchor="start" font-weight="normal" fill="#666" class="t">CD3-</text>
<text x="51.2" y="144.6" font-size="2.9" text-anchor="middle" font-weight="normal" fill="#777" class="t">CD4</text>
<text x="51.2" y="147.8" font-size="2.9" text-anchor="middle" font-weight="normal" fill="#777" class="t">13.6</text>
<text x="75.8" y="161" font-size="2.9" text-anchor="middle" font-weight="normal" fill="#777" class="t">CD11b</text>
<text x="75.8" y="164.2" font-size="2.9" text-anchor="middle" font-weight="normal" fill="#777" class="t">13.7</text>
<text x="260.1" y="15.6" font-size="10.5" text-anchor="start" font-weight="bold" fill="#111">B</text>
<rect x="285.5" y="30.5" width="69.0" height="64.0" stroke="#a4a4a4" stroke-width="1.0" fill="none"/>
<line x1="285.5" y1="30.5" x2="285.5" y2="95.0" stroke="#707070" stroke-width="1.0"/>
<line x1="285.0" y1="94.5" x2="355.0" y2="94.5" stroke="#707070" stroke-width="1.0"/>
<line x1="284.5" y1="37.716" x2="286.7" y2="37.716" stroke="#444" stroke-width="0.6"/>
<line x1="284.5" y1="49.29" x2="286.7" y2="49.29" stroke="#444" stroke-width="0.6"/>
<line x1="284.5" y1="60.221" x2="286.7" y2="60.221" stroke="#444" stroke-width="0.6"/>
<line x1="284.5" y1="71.152" x2="286.7" y2="71.152" stroke="#444" stroke-width="0.6"/>
<line x1="284.5" y1="78.868" x2="286.7" y2="78.868" stroke="#444" stroke-width="0.6"/>
<line x1="284.5" y1="86.584" x2="286.7" y2="86.584" stroke="#444" stroke-width="0.6"/>
<line x1="287.5" y1="94.3" x2="287.5" y2="95.3" stroke="#555" stroke-width="0.4"/>
<line x1="290.6" y1="94.3" x2="290.6" y2="95.3" stroke="#555" stroke-width="0.4"/>
<line x1="293.7" y1="94.3" x2="293.7" y2="95.3" stroke="#555" stroke-width="0.4"/>
<line x1="296.8" y1="94.3" x2="296.8" y2="95.3" stroke="#555" stroke-width="0.4"/>
<line x1="299.9" y1="94.3" x2="299.9" y2="95.3" stroke="#555" stroke-width="0.4"/>
<line x1="303.0" y1="94.3" x2="303.0" y2="95.3" stroke="#555" stroke-width="0.4"/>
<line x1="306.1" y1="94.3" x2="306.1" y2="95.3" stroke="#555" stroke-width="0.4"/>
<line x1="309.2" y1="94.3" x2="309.2" y2="95.3" stroke="#555" stroke-width="0.4"/>
<line x1="312.3" y1="94.3" x2="312.3" y2="95.3" stroke="#555" stroke-width="0.4"/>
<line x1="315.40000000000003" y1="94.3" x2="315.40000000000003" y2="95.3" stroke="#555" stroke-width="0.4"/>
<line x1="318.5" y1="94.3" x2="318.5" y2="95.3" stroke="#555" stroke-width="0.4"/>
<line x1="321.6" y1="94.3" x2="321.6" y2="95.3" stroke="#555" stroke-width="0.4"/>
<line x1="324.7" y1="94.3" x2="324.7" y2="95.3" stroke="#555" stroke-width="0.4"/>
<line x1="327.8" y1="94.3" x2="327.8" y2="95.3" stroke="#555" stroke-width="0.4"/>
<line x1="330.90000000000003" y1="94.3" x2="330.90000000000003" y2="95.3" stroke="#555" stroke-width="0.4"/>
<line x1="334.0" y1="94.3" x2="334.0" y2="95.3" stroke="#555" stroke-width="0.4"/>
<line x1="337.1" y1="94.3" x2="337.1" y2="95.3" stroke="#555" stroke-width="0.4"/>
<line x1="340.2" y1="94.3" x2="340.2" y2="95.3" stroke="#555" stroke-width="0.4"/>
<line x1="343.3" y1="94.3" x2="343.3" y2="95.3" stroke="#555" stroke-width="0.4"/>
<line x1="346.40000000000003" y1="94.3" x2="346.40000000000003" y2="95.3" stroke="#555" stroke-width="0.4"/>
<line x1="349.5" y1="94.3" x2="349.5" y2="95.3" stroke="#555" stroke-width="0.4"/>
<line x1="352.6" y1="94.3" x2="352.6" y2="95.3" stroke="#555" stroke-width="0.4"/>
<ellipse cx="285.50" cy="79.13" rx="1.1" ry="1.5" fill="#111"/>
<ellipse cx="301.25" cy="94.60" rx="1.9" ry="0.95" fill="#111"/>
<text x="289.51" y="106.1" font-size="6.5" text-anchor="middle" fill="#222" textLength="11" lengthAdjust="spacingAndGlyphs">–10<tspan font-size="4.29" baseline-shift="2.73">3</tspan></text>
<text x="302.08" y="106.1" font-size="6.5" text-anchor="middle" font-weight="normal" fill="#222">0</text>
<text x="311.90" y="106.1" font-size="6.5" text-anchor="middle" fill="#222">10<tspan font-size="4.29" baseline-shift="2.73">3</tspan></text>
<text x="331.45" y="106.1" font-size="6.5" text-anchor="middle" fill="#222">10<tspan font-size="4.29" baseline-shift="2.73">4</tspan></text>
<text x="348.73" y="106.1" font-size="6.5" text-anchor="middle" fill="#222">10<tspan font-size="4.29" baseline-shift="2.73">5</tspan></text>
<rect x="361.5" y="30.5" width="69.0" height="64.0" stroke="#a4a4a4" stroke-width="1.0" fill="none"/>
<line x1="361.5" y1="30.5" x2="361.5" y2="95.0" stroke="#707070" stroke-width="1.0"/>
<line x1="361.0" y1="94.5" x2="431.0" y2="94.5" stroke="#707070" stroke-width="1.0"/>
<line x1="360.2" y1="37.716" x2="362.4" y2="37.716" stroke="#444" stroke-width="0.6"/>
<line x1="360.2" y1="49.29" x2="362.4" y2="49.29" stroke="#444" stroke-width="0.6"/>
<line x1="360.2" y1="60.221" x2="362.4" y2="60.221" stroke="#444" stroke-width="0.6"/>
<line x1="360.2" y1="71.152" x2="362.4" y2="71.152" stroke="#444" stroke-width="0.6"/>
<line x1="360.2" y1="78.868" x2="362.4" y2="78.868" stroke="#444" stroke-width="0.6"/>
<line x1="360.2" y1="86.584" x2="362.4" y2="86.584" stroke="#444" stroke-width="0.6"/>
<line x1="363.2" y1="94.3" x2="363.2" y2="95.3" stroke="#555" stroke-width="0.4"/>
<line x1="366.3095238095238" y1="94.3" x2="366.3095238095238" y2="95.3" stroke="#555" stroke-width="0.4"/>
<line x1="369.4190476190476" y1="94.3" x2="369.4190476190476" y2="95.3" stroke="#555" stroke-width="0.4"/>
<line x1="372.5285714285714" y1="94.3" x2="372.5285714285714" y2="95.3" stroke="#555" stroke-width="0.4"/>
<line x1="375.6380952380952" y1="94.3" x2="375.6380952380952" y2="95.3" stroke="#555" stroke-width="0.4"/>
<line x1="378.747619047619" y1="94.3" x2="378.747619047619" y2="95.3" stroke="#555" stroke-width="0.4"/>
<line x1="381.85714285714283" y1="94.3" x2="381.85714285714283" y2="95.3" stroke="#555" stroke-width="0.4"/>
<line x1="384.96666666666664" y1="94.3" x2="384.96666666666664" y2="95.3" stroke="#555" stroke-width="0.4"/>
<line x1="388.07619047619045" y1="94.3" x2="388.07619047619045" y2="95.3" stroke="#555" stroke-width="0.4"/>
<line x1="391.18571428571425" y1="94.3" x2="391.18571428571425" y2="95.3" stroke="#555" stroke-width="0.4"/>
<line x1="394.2952380952381" y1="94.3" x2="394.2952380952381" y2="95.3" stroke="#555" stroke-width="0.4"/>
<line x1="397.4047619047619" y1="94.3" x2="397.4047619047619" y2="95.3" stroke="#555" stroke-width="0.4"/>
<line x1="400.51428571428573" y1="94.3" x2="400.51428571428573" y2="95.3" stroke="#555" stroke-width="0.4"/>
<line x1="403.62380952380954" y1="94.3" x2="403.62380952380954" y2="95.3" stroke="#555" stroke-width="0.4"/>
<line x1="406.73333333333335" y1="94.3" x2="406.73333333333335" y2="95.3" stroke="#555" stroke-width="0.4"/>
<line x1="409.84285714285716" y1="94.3" x2="409.84285714285716" y2="95.3" stroke="#555" stroke-width="0.4"/>
<line x1="412.95238095238096" y1="94.3" x2="412.95238095238096" y2="95.3" stroke="#555" stroke-width="0.4"/>
<line x1="416.06190476190477" y1="94.3" x2="416.06190476190477" y2="95.3" stroke="#555" stroke-width="0.4"/>
<line x1="419.1714285714286" y1="94.3" x2="419.1714285714286" y2="95.3" stroke="#555" stroke-width="0.4"/>
<line x1="422.2809523809524" y1="94.3" x2="422.2809523809524" y2="95.3" stroke="#555" stroke-width="0.4"/>
<line x1="425.3904761904762" y1="94.3" x2="425.3904761904762" y2="95.3" stroke="#555" stroke-width="0.4"/>
<line x1="428.5" y1="94.3" x2="428.5" y2="95.3" stroke="#555" stroke-width="0.4"/>
<ellipse cx="361.20" cy="79.13" rx="1.1" ry="1.5" fill="#111"/>
<ellipse cx="377.00" cy="94.60" rx="1.9" ry="0.95" fill="#111"/>
<text x="365.22" y="106.1" font-size="6.5" text-anchor="middle" fill="#222" textLength="11" lengthAdjust="spacingAndGlyphs">–10<tspan font-size="4.29" baseline-shift="2.73">3</tspan></text>
<text x="377.83" y="106.1" font-size="6.5" text-anchor="middle" font-weight="normal" fill="#222">0</text>
<text x="387.67" y="106.1" font-size="6.5" text-anchor="middle" fill="#222">10<tspan font-size="4.29" baseline-shift="2.73">3</tspan></text>
<text x="407.28" y="106.1" font-size="6.5" text-anchor="middle" fill="#222">10<tspan font-size="4.29" baseline-shift="2.73">4</tspan></text>
<text x="424.61" y="106.1" font-size="6.5" text-anchor="middle" fill="#222">10<tspan font-size="4.29" baseline-shift="2.73">5</tspan></text>
<rect x="436.5" y="30.5" width="69.0" height="64.0" stroke="#a4a4a4" stroke-width="1.0" fill="none"/>
<line x1="436.5" y1="30.5" x2="436.5" y2="95.0" stroke="#707070" stroke-width="1.0"/>
<line x1="436.0" y1="94.5" x2="506.0" y2="94.5" stroke="#707070" stroke-width="1.0"/>
<line x1="435.5" y1="37.716" x2="437.7" y2="37.716" stroke="#444" stroke-width="0.6"/>
<line x1="435.5" y1="49.29" x2="437.7" y2="49.29" stroke="#444" stroke-width="0.6"/>
<line x1="435.5" y1="60.221" x2="437.7" y2="60.221" stroke="#444" stroke-width="0.6"/>
<line x1="435.5" y1="71.152" x2="437.7" y2="71.152" stroke="#444" stroke-width="0.6"/>
<line x1="435.5" y1="78.868" x2="437.7" y2="78.868" stroke="#444" stroke-width="0.6"/>
<line x1="435.5" y1="86.584" x2="437.7" y2="86.584" stroke="#444" stroke-width="0.6"/>
<line x1="438.5" y1="94.3" x2="438.5" y2="95.3" stroke="#555" stroke-width="0.4"/>
<line x1="441.5952380952381" y1="94.3" x2="441.5952380952381" y2="95.3" stroke="#555" stroke-width="0.4"/>
<line x1="444.6904761904762" y1="94.3" x2="444.6904761904762" y2="95.3" stroke="#555" stroke-width="0.4"/>
<line x1="447.7857142857143" y1="94.3" x2="447.7857142857143" y2="95.3" stroke="#555" stroke-width="0.4"/>
<line x1="450.8809523809524" y1="94.3" x2="450.8809523809524" y2="95.3" stroke="#555" stroke-width="0.4"/>
<line x1="453.9761904761905" y1="94.3" x2="453.9761904761905" y2="95.3" stroke="#555" stroke-width="0.4"/>
<line x1="457.07142857142856" y1="94.3" x2="457.07142857142856" y2="95.3" stroke="#555" stroke-width="0.4"/>
<line x1="460.1666666666667" y1="94.3" x2="460.1666666666667" y2="95.3" stroke="#555" stroke-width="0.4"/>
<line x1="463.26190476190476" y1="94.3" x2="463.26190476190476" y2="95.3" stroke="#555" stroke-width="0.4"/>
<line x1="466.35714285714283" y1="94.3" x2="466.35714285714283" y2="95.3" stroke="#555" stroke-width="0.4"/>
<line x1="469.45238095238096" y1="94.3" x2="469.45238095238096" y2="95.3" stroke="#555" stroke-width="0.4"/>
<line x1="472.54761904761904" y1="94.3" x2="472.54761904761904" y2="95.3" stroke="#555" stroke-width="0.4"/>
<line x1="475.64285714285717" y1="94.3" x2="475.64285714285717" y2="95.3" stroke="#555" stroke-width="0.4"/>
<line x1="478.73809523809524" y1="94.3" x2="478.73809523809524" y2="95.3" stroke="#555" stroke-width="0.4"/>
<line x1="481.8333333333333" y1="94.3" x2="481.8333333333333" y2="95.3" stroke="#555" stroke-width="0.4"/>
<line x1="484.92857142857144" y1="94.3" x2="484.92857142857144" y2="95.3" stroke="#555" stroke-width="0.4"/>
<line x1="488.0238095238095" y1="94.3" x2="488.0238095238095" y2="95.3" stroke="#555" stroke-width="0.4"/>
<line x1="491.1190476190476" y1="94.3" x2="491.1190476190476" y2="95.3" stroke="#555" stroke-width="0.4"/>
<line x1="494.2142857142857" y1="94.3" x2="494.2142857142857" y2="95.3" stroke="#555" stroke-width="0.4"/>
<line x1="497.3095238095238" y1="94.3" x2="497.3095238095238" y2="95.3" stroke="#555" stroke-width="0.4"/>
<line x1="500.4047619047619" y1="94.3" x2="500.4047619047619" y2="95.3" stroke="#555" stroke-width="0.4"/>
<line x1="503.5" y1="94.3" x2="503.5" y2="95.3" stroke="#555" stroke-width="0.4"/>
<ellipse cx="436.50" cy="79.13" rx="1.1" ry="1.5" fill="#111"/>
<ellipse cx="452.23" cy="94.60" rx="1.9" ry="0.95" fill="#111"/>
<text x="440.50" y="106.1" font-size="6.5" text-anchor="middle" fill="#222" textLength="11" lengthAdjust="spacingAndGlyphs">–10<tspan font-size="4.29" baseline-shift="2.73">3</tspan></text>
<text x="453.06" y="106.1" font-size="6.5" text-anchor="middle" font-weight="normal" fill="#222">0</text>
<text x="462.86" y="106.1" font-size="6.5" text-anchor="middle" fill="#222">10<tspan font-size="4.29" baseline-shift="2.73">3</tspan></text>
<text x="482.38" y="106.1" font-size="6.5" text-anchor="middle" fill="#222">10<tspan font-size="4.29" baseline-shift="2.73">4</tspan></text>
<text x="499.63" y="106.1" font-size="6.5" text-anchor="middle" fill="#222">10<tspan font-size="4.29" baseline-shift="2.73">5</tspan></text>
<rect x="285.5" y="132.5" width="69.0" height="65.0" stroke="#a4a4a4" stroke-width="1.0" fill="none"/>
<line x1="285.5" y1="132.5" x2="285.5" y2="198.0" stroke="#707070" stroke-width="1.0"/>
<line x1="285.0" y1="197.5" x2="355.0" y2="197.5" stroke="#707070" stroke-width="1.0"/>
<line x1="284.5" y1="140.3" x2="286.7" y2="140.3" stroke="#444" stroke-width="0.6"/>
<line x1="284.5" y1="152.0" x2="286.7" y2="152.0" stroke="#444" stroke-width="0.6"/>
<line x1="284.5" y1="163.05" x2="286.7" y2="163.05" stroke="#444" stroke-width="0.6"/>
<line x1="284.5" y1="174.1" x2="286.7" y2="174.1" stroke="#444" stroke-width="0.6"/>
<line x1="284.5" y1="181.9" x2="286.7" y2="181.9" stroke="#444" stroke-width="0.6"/>
<line x1="284.5" y1="189.7" x2="286.7" y2="189.7" stroke="#444" stroke-width="0.6"/>
<line x1="287.5" y1="197.5" x2="287.5" y2="198.5" stroke="#555" stroke-width="0.4"/>
<line x1="290.6" y1="197.5" x2="290.6" y2="198.5" stroke="#555" stroke-width="0.4"/>
<line x1="293.7" y1="197.5" x2="293.7" y2="198.5" stroke="#555" stroke-width="0.4"/>
<line x1="296.8" y1="197.5" x2="296.8" y2="198.5" stroke="#555" stroke-width="0.4"/>
<line x1="299.9" y1="197.5" x2="299.9" y2="198.5" stroke="#555" stroke-width="0.4"/>
<line x1="303.0" y1="197.5" x2="303.0" y2="198.5" stroke="#555" stroke-width="0.4"/>
<line x1="306.1" y1="197.5" x2="306.1" y2="198.5" stroke="#555" stroke-width="0.4"/>
<line x1="309.2" y1="197.5" x2="309.2" y2="198.5" stroke="#555" stroke-width="0.4"/>
<line x1="312.3" y1="197.5" x2="312.3" y2="198.5" stroke="#555" stroke-width="0.4"/>
<line x1="315.40000000000003" y1="197.5" x2="315.40000000000003" y2="198.5" stroke="#555" stroke-width="0.4"/>
<line x1="318.5" y1="197.5" x2="318.5" y2="198.5" stroke="#555" stroke-width="0.4"/>
<line x1="321.6" y1="197.5" x2="321.6" y2="198.5" stroke="#555" stroke-width="0.4"/>
<line x1="324.7" y1="197.5" x2="324.7" y2="198.5" stroke="#555" stroke-width="0.4"/>
<line x1="327.8" y1="197.5" x2="327.8" y2="198.5" stroke="#555" stroke-width="0.4"/>
<line x1="330.90000000000003" y1="197.5" x2="330.90000000000003" y2="198.5" stroke="#555" stroke-width="0.4"/>
<line x1="334.0" y1="197.5" x2="334.0" y2="198.5" stroke="#555" stroke-width="0.4"/>
<line x1="337.1" y1="197.5" x2="337.1" y2="198.5" stroke="#555" stroke-width="0.4"/>
<line x1="340.2" y1="197.5" x2="340.2" y2="198.5" stroke="#555" stroke-width="0.4"/>
<line x1="343.3" y1="197.5" x2="343.3" y2="198.5" stroke="#555" stroke-width="0.4"/>
<line x1="346.40000000000003" y1="197.5" x2="346.40000000000003" y2="198.5" stroke="#555" stroke-width="0.4"/>
<line x1="349.5" y1="197.5" x2="349.5" y2="198.5" stroke="#555" stroke-width="0.4"/>
<line x1="352.6" y1="197.5" x2="352.6" y2="198.5" stroke="#555" stroke-width="0.4"/>
<ellipse cx="285.50" cy="182.16" rx="1.1" ry="1.5" fill="#111"/>
<ellipse cx="301.25" cy="197.80" rx="1.9" ry="0.95" fill="#111"/>
<text x="289.51" y="209.3" font-size="6.5" text-anchor="middle" fill="#222" textLength="11" lengthAdjust="spacingAndGlyphs">–10<tspan font-size="4.29" baseline-shift="2.73">3</tspan></text>
<text x="302.08" y="209.3" font-size="6.5" text-anchor="middle" font-weight="normal" fill="#222">0</text>
<text x="311.90" y="209.3" font-size="6.5" text-anchor="middle" fill="#222">10<tspan font-size="4.29" baseline-shift="2.73">3</tspan></text>
<text x="331.45" y="209.3" font-size="6.5" text-anchor="middle" fill="#222">10<tspan font-size="4.29" baseline-shift="2.73">4</tspan></text>
<text x="348.73" y="209.3" font-size="6.5" text-anchor="middle" fill="#222">10<tspan font-size="4.29" baseline-shift="2.73">5</tspan></text>
<rect x="361.5" y="132.5" width="69.0" height="65.0" stroke="#a4a4a4" stroke-width="1.0" fill="none"/>
<line x1="361.5" y1="132.5" x2="361.5" y2="198.0" stroke="#707070" stroke-width="1.0"/>
<line x1="361.0" y1="197.5" x2="431.0" y2="197.5" stroke="#707070" stroke-width="1.0"/>
<line x1="360.2" y1="140.3" x2="362.4" y2="140.3" stroke="#444" stroke-width="0.6"/>
<line x1="360.2" y1="152.0" x2="362.4" y2="152.0" stroke="#444" stroke-width="0.6"/>
<line x1="360.2" y1="163.05" x2="362.4" y2="163.05" stroke="#444" stroke-width="0.6"/>
<line x1="360.2" y1="174.1" x2="362.4" y2="174.1" stroke="#444" stroke-width="0.6"/>
<line x1="360.2" y1="181.9" x2="362.4" y2="181.9" stroke="#444" stroke-width="0.6"/>
<line x1="360.2" y1="189.7" x2="362.4" y2="189.7" stroke="#444" stroke-width="0.6"/>
<line x1="363.2" y1="197.5" x2="363.2" y2="198.5" stroke="#555" stroke-width="0.4"/>
<line x1="366.3047619047619" y1="197.5" x2="366.3047619047619" y2="198.5" stroke="#555" stroke-width="0.4"/>
<line x1="369.4095238095238" y1="197.5" x2="369.4095238095238" y2="198.5" stroke="#555" stroke-width="0.4"/>
<line x1="372.5142857142857" y1="197.5" x2="372.5142857142857" y2="198.5" stroke="#555" stroke-width="0.4"/>
<line x1="375.6190476190476" y1="197.5" x2="375.6190476190476" y2="198.5" stroke="#555" stroke-width="0.4"/>
<line x1="378.7238095238095" y1="197.5" x2="378.7238095238095" y2="198.5" stroke="#555" stroke-width="0.4"/>
<line x1="381.8285714285714" y1="197.5" x2="381.8285714285714" y2="198.5" stroke="#555" stroke-width="0.4"/>
<line x1="384.93333333333334" y1="197.5" x2="384.93333333333334" y2="198.5" stroke="#555" stroke-width="0.4"/>
<line x1="388.03809523809525" y1="197.5" x2="388.03809523809525" y2="198.5" stroke="#555" stroke-width="0.4"/>
<line x1="391.1428571428571" y1="197.5" x2="391.1428571428571" y2="198.5" stroke="#555" stroke-width="0.4"/>
<line x1="394.247619047619" y1="197.5" x2="394.247619047619" y2="198.5" stroke="#555" stroke-width="0.4"/>
<line x1="397.35238095238094" y1="197.5" x2="397.35238095238094" y2="198.5" stroke="#555" stroke-width="0.4"/>
<line x1="400.45714285714286" y1="197.5" x2="400.45714285714286" y2="198.5" stroke="#555" stroke-width="0.4"/>
<line x1="403.56190476190477" y1="197.5" x2="403.56190476190477" y2="198.5" stroke="#555" stroke-width="0.4"/>
<line x1="406.66666666666663" y1="197.5" x2="406.66666666666663" y2="198.5" stroke="#555" stroke-width="0.4"/>
<line x1="409.77142857142854" y1="197.5" x2="409.77142857142854" y2="198.5" stroke="#555" stroke-width="0.4"/>
<line x1="412.87619047619046" y1="197.5" x2="412.87619047619046" y2="198.5" stroke="#555" stroke-width="0.4"/>
<line x1="415.9809523809524" y1="197.5" x2="415.9809523809524" y2="198.5" stroke="#555" stroke-width="0.4"/>
<line x1="419.0857142857143" y1="197.5" x2="419.0857142857143" y2="198.5" stroke="#555" stroke-width="0.4"/>
<line x1="422.19047619047615" y1="197.5" x2="422.19047619047615" y2="198.5" stroke="#555" stroke-width="0.4"/>
<line x1="425.29523809523806" y1="197.5" x2="425.29523809523806" y2="198.5" stroke="#555" stroke-width="0.4"/>
<line x1="428.4" y1="197.5" x2="428.4" y2="198.5" stroke="#555" stroke-width="0.4"/>
<ellipse cx="361.20" cy="182.16" rx="1.1" ry="1.5" fill="#111"/>
<ellipse cx="376.98" cy="197.80" rx="1.9" ry="0.95" fill="#111"/>
<text x="365.21" y="209.3" font-size="6.5" text-anchor="middle" fill="#222" textLength="11" lengthAdjust="spacingAndGlyphs">–10<tspan font-size="4.29" baseline-shift="2.73">3</tspan></text>
<text x="377.81" y="209.3" font-size="6.5" text-anchor="middle" font-weight="normal" fill="#222">0</text>
<text x="387.63" y="209.3" font-size="6.5" text-anchor="middle" fill="#222">10<tspan font-size="4.29" baseline-shift="2.73">3</tspan></text>
<text x="407.22" y="209.3" font-size="6.5" text-anchor="middle" fill="#222">10<tspan font-size="4.29" baseline-shift="2.73">4</tspan></text>
<text x="424.52" y="209.3" font-size="6.5" text-anchor="middle" fill="#222">10<tspan font-size="4.29" baseline-shift="2.73">5</tspan></text>
<rect x="436.5" y="132.5" width="69.0" height="65.0" stroke="#a4a4a4" stroke-width="1.0" fill="none"/>
<line x1="436.5" y1="132.5" x2="436.5" y2="198.0" stroke="#707070" stroke-width="1.0"/>
<line x1="436.0" y1="197.5" x2="506.0" y2="197.5" stroke="#707070" stroke-width="1.0"/>
<line x1="435.5" y1="140.3" x2="437.7" y2="140.3" stroke="#444" stroke-width="0.6"/>
<line x1="435.5" y1="152.0" x2="437.7" y2="152.0" stroke="#444" stroke-width="0.6"/>
<line x1="435.5" y1="163.05" x2="437.7" y2="163.05" stroke="#444" stroke-width="0.6"/>
<line x1="435.5" y1="174.1" x2="437.7" y2="174.1" stroke="#444" stroke-width="0.6"/>
<line x1="435.5" y1="181.9" x2="437.7" y2="181.9" stroke="#444" stroke-width="0.6"/>
<line x1="435.5" y1="189.7" x2="437.7" y2="189.7" stroke="#444" stroke-width="0.6"/>
<line x1="438.5" y1="197.5" x2="438.5" y2="198.5" stroke="#555" stroke-width="0.4"/>
<line x1="441.5952380952381" y1="197.5" x2="441.5952380952381" y2="198.5" stroke="#555" stroke-width="0.4"/>
<line x1="444.6904761904762" y1="197.5" x2="444.6904761904762" y2="198.5" stroke="#555" stroke-width="0.4"/>
<line x1="447.7857142857143" y1="197.5" x2="447.7857142857143" y2="198.5" stroke="#555" stroke-width="0.4"/>
<line x1="450.8809523809524" y1="197.5" x2="450.8809523809524" y2="198.5" stroke="#555" stroke-width="0.4"/>
<line x1="453.9761904761905" y1="197.5" x2="453.9761904761905" y2="198.5" stroke="#555" stroke-width="0.4"/>
<line x1="457.07142857142856" y1="197.5" x2="457.07142857142856" y2="198.5" stroke="#555" stroke-width="0.4"/>
<line x1="460.1666666666667" y1="197.5" x2="460.1666666666667" y2="198.5" stroke="#555" stroke-width="0.4"/>
<line x1="463.26190476190476" y1="197.5" x2="463.26190476190476" y2="198.5" stroke="#555" stroke-width="0.4"/>
<line x1="466.35714285714283" y1="197.5" x2="466.35714285714283" y2="198.5" stroke="#555" stroke-width="0.4"/>
<line x1="469.45238095238096" y1="197.5" x2="469.45238095238096" y2="198.5" stroke="#555" stroke-width="0.4"/>
<line x1="472.54761904761904" y1="197.5" x2="472.54761904761904" y2="198.5" stroke="#555" stroke-width="0.4"/>
<line x1="475.64285714285717" y1="197.5" x2="475.64285714285717" y2="198.5" stroke="#555" stroke-width="0.4"/>
<line x1="478.73809523809524" y1="197.5" x2="478.73809523809524" y2="198.5" stroke="#555" stroke-width="0.4"/>
<line x1="481.8333333333333" y1="197.5" x2="481.8333333333333" y2="198.5" stroke="#555" stroke-width="0.4"/>
<line x1="484.92857142857144" y1="197.5" x2="484.92857142857144" y2="198.5" stroke="#555" stroke-width="0.4"/>
<line x1="488.0238095238095" y1="197.5" x2="488.0238095238095" y2="198.5" stroke="#555" stroke-width="0.4"/>
<line x1="491.1190476190476" y1="197.5" x2="491.1190476190476" y2="198.5" stroke="#555" stroke-width="0.4"/>
<line x1="494.2142857142857" y1="197.5" x2="494.2142857142857" y2="198.5" stroke="#555" stroke-width="0.4"/>
<line x1="497.3095238095238" y1="197.5" x2="497.3095238095238" y2="198.5" stroke="#555" stroke-width="0.4"/>
<line x1="500.4047619047619" y1="197.5" x2="500.4047619047619" y2="198.5" stroke="#555" stroke-width="0.4"/>
<line x1="503.5" y1="197.5" x2="503.5" y2="198.5" stroke="#555" stroke-width="0.4"/>
<ellipse cx="436.50" cy="182.16" rx="1.1" ry="1.5" fill="#111"/>
<ellipse cx="452.23" cy="197.80" rx="1.9" ry="0.95" fill="#111"/>
<text x="440.50" y="209.3" font-size="6.5" text-anchor="middle" fill="#222" textLength="11" lengthAdjust="spacingAndGlyphs">–10<tspan font-size="4.29" baseline-shift="2.73">3</tspan></text>
<text x="453.06" y="209.3" font-size="6.5" text-anchor="middle" font-weight="normal" fill="#222">0</text>
<text x="462.86" y="209.3" font-size="6.5" text-anchor="middle" fill="#222">10<tspan font-size="4.29" baseline-shift="2.73">3</tspan></text>
<text x="482.38" y="209.3" font-size="6.5" text-anchor="middle" fill="#222">10<tspan font-size="4.29" baseline-shift="2.73">4</tspan></text>
<text x="499.63" y="209.3" font-size="6.5" text-anchor="middle" fill="#222">10<tspan font-size="4.29" baseline-shift="2.73">5</tspan></text>
<text x="325.4" y="26.8" font-size="6.3" text-anchor="middle" font-weight="normal" fill="#222" textLength="26.3" lengthAdjust="spacingAndGlyphs">AML cells</text>
<text x="398.7" y="26.8" font-size="6.3" text-anchor="middle" font-weight="normal" fill="#222" textLength="32" lengthAdjust="spacingAndGlyphs">Isotype-APC</text>
<text x="472" y="26.8" font-size="6.3" text-anchor="middle" fill="#222" textLength="40.5" lengthAdjust="spacingAndGlyphs"><tspan font-style="italic">anti</tspan>-IGSF9-APC</text>
<text x="321.3" y="129.3" font-size="6.3" text-anchor="middle" font-weight="normal" fill="#222" textLength="52.5" lengthAdjust="spacingAndGlyphs">Leukemia stem cells</text>
<text x="397" y="129.3" font-size="6.3" text-anchor="middle" font-weight="normal" fill="#222" textLength="32" lengthAdjust="spacingAndGlyphs">Isotype-APC</text>
<text x="473.3" y="129.3" font-size="6.3" text-anchor="middle" fill="#222" textLength="41.7" lengthAdjust="spacingAndGlyphs"><tspan font-style="italic">anti</tspan>-IGSF9-APC</text>
<path d="M301.7 76.9h0.7M346.6 64.6h0.7M330.5 40.0h0.7M320.4 88.2h0.7M342.9 84.5h0.7M350.6 52.9h0.7M305.7 48.0h0.7M327.2 75.5h0.7M349.0 77.5h0.7M333.7 79.8h0.7M323.8 68.7h0.7M302.1 80.7h0.7M312.1 87.8h0.7M333.6 55.8h0.7M306.7 53.1h0.7M333.1 76.3h0.7M305.8 43.7h0.7M327.3 70.3h0.7M320.2 51.6h0.7M331.3 40.5h0.7M315.7 64.0h0.7M349.9 73.5h0.7M346.0 64.7h0.7M312.2 52.8h0.7M350.0 76.6h0.7M316.0 41.1h0.7M325.9 75.1h0.7M321.8 53.4h0.7M334.7 88.1h0.7M311.8 41.8h0.7M317.6 61.9h0.7M335.5 50.3h0.7M341.4 78.4h0.7M326.3 50.7h0.7M350.4 56.2h0.7M342.6 52.0h0.7M311.5 79.5h0.7M315.3 89.5h0.7M325.8 49.7h0.7M311.6 61.7h0.7M334.6 89.3h0.7M307.6 60.5h0.7M311.1 90.7h0.7M307.4 42.7h0.7M303.1 60.5h0.7M346.7 85.9h0.7M338.1 91.9h0.7M348.4 57.1h0.7M309.6 88.7h0.7M338.8 41.7h0.7M334.6 59.7h0.7M319.4 57.2h0.7M308.8 40.1h0.7M314.5 58.3h0.7M349.7 46.4h0.7M350.1 50.8h0.7M318.5 82.7h0.7M342.7 62.5h0.7M302.6 64.6h0.7M319.4 87.8h0.7M310.0 58.9h0.7M346.6 41.6h0.7M321.4 82.2h0.7M339.9 42.1h0.7M301.8 43.3h0.7M347.8 53.4h0.7M338.9 86.7h0.7M317.6 54.2h0.7M349.8 72.1h0.7M313.6 77.3h0.7M316.5 54.3h0.7M300.2 79.3h0.7M347.7 73.0h0.7M349.0 41.3h0.7M312.2 64.7h0.7M349.8 89.6h0.7M320.1 53.1h0.7M322.4 65.7h0.7M348.3 49.5h0.7M341.7 78.4h0.7M342.8 80.2h0.7M331.6 57.0h0.7M316.6 58.8h0.7M340.7 44.1h0.7M310.3 79.2h0.7M312.9 43.4h0.7M301.8 68.7h0.7M316.9 91.0h0.7M345.9 91.4h0.7M313.8 44.4h0.7M305.0 65.9h0.7M336.9 63.2h0.7M312.2 61.7h0.7M332.3 75.1h0.7M338.9 84.0h0.7M334.6 46.3h0.7M343.7 55.3h0.7M329.5 59.4h0.7M338.4 50.4h0.7M312.9 52.8h0.7M308.0 86.0h0.7M330.1 57.0h0.7M320.6 91.6h0.7M326.4 52.0h0.7M342.0 74.0h0.7M351.5 45.3h0.7M324.7 82.6h0.7M343.7 87.5h0.7M302.1 55.3h0.7M306.2 49.9h0.7M350.6 70.3h0.7M348.4 59.4h0.7M345.0 63.4h0.7M313.5 80.4h0.7M349.2 45.5h0.7M331.0 72.2h0.7M311.3 59.2h0.7M307.4 50.6h0.7M313.3 71.2h0.7M333.9 50.6h0.7M300.6 57.0h0.7M335.3 49.6h0.7M316.2 50.6h0.7M341.4 68.5h0.7M303.3 45.3h0.7M320.6 68.6h0.7M333.2 44.7h0.7M308.5 76.2h0.7M321.3 54.7h0.7M316.0 89.6h0.7M316.2 69.5h0.7M318.6 61.7h0.7M344.9 91.8h0.7M318.9 50.3h0.7M337.9 50.6h0.7M300.3 86.9h0.7M322.0 82.7h0.7M321.1 85.9h0.7M324.0 48.5h0.7M300.8 68.7h0.7" stroke="#8a9ad8" stroke-width="0.7" stroke-opacity="0.7" fill="none"/>
<path d="M311.7 47.8h0.8M327.1 62.4h0.8M315.1 63.2h0.8M323.0 61.9h0.8M306.4 56.2h0.8M325.4 62.4h0.8M325.3 43.3h0.8M321.0 61.0h0.8M335.3 52.3h0.8M318.0 58.2h0.8M325.3 55.3h0.8M326.9 53.3h0.8M321.6 54.8h0.8M320.9 53.9h0.8M310.4 64.6h0.8M321.8 54.6h0.8M321.2 63.9h0.8M314.1 57.3h0.8M323.2 61.2h0.8M318.0 45.4h0.8M327.5 60.0h0.8M320.1 56.3h0.8M321.6 55.4h0.8M313.9 53.6h0.8M316.4 54.3h0.8M313.0 61.8h0.8M312.1 62.0h0.8M313.9 60.1h0.8M328.2 59.2h0.8M315.6 58.3h0.8M320.9 47.6h0.8M316.4 59.0h0.8M317.2 58.5h0.8M324.4 62.6h0.8M325.4 61.5h0.8M318.3 57.9h0.8M318.4 56.1h0.8M318.9 47.7h0.8M318.0 57.9h0.8M314.2 57.9h0.8M323.1 57.0h0.8M332.5 42.4h0.8M318.8 47.0h0.8M325.9 73.9h0.8M305.0 58.8h0.8M323.1 56.2h0.8M323.3 44.5h0.8M325.1 60.2h0.8M320.1 54.5h0.8M323.8 55.1h0.8M321.3 54.9h0.8M306.5 57.8h0.8M321.2 62.5h0.8M314.7 57.8h0.8M323.7 58.9h0.8M327.5 69.9h0.8M314.5 46.5h0.8M325.1 67.2h0.8M325.5 62.9h0.8M316.3 53.7h0.8M325.3 52.5h0.8M309.1 52.0h0.8M335.0 69.5h0.8M315.9 53.6h0.8M321.4 53.5h0.8M327.9 57.5h0.8M313.5 65.9h0.8M316.5 59.3h0.8M319.9 56.1h0.8M321.9 53.8h0.8M308.9 44.8h0.8M312.4 53.4h0.8M319.9 58.3h0.8M323.3 58.7h0.8M315.2 53.7h0.8M307.3 57.0h0.8M322.9 61.2h0.8M319.3 57.0h0.8M325.6 58.1h0.8M324.4 61.5h0.8M321.3 65.8h0.8M316.6 55.8h0.8M315.2 53.2h0.8M329.3 68.6h0.8M320.1 61.4h0.8M327.1 62.8h0.8M327.2 50.4h0.8M316.2 60.7h0.8M328.6 58.6h0.8M314.8 55.9h0.8M316.0 52.9h0.8M329.0 54.2h0.8M320.1 71.0h0.8M327.1 60.0h0.8M316.3 60.5h0.8M329.7 61.7h0.8M327.6 58.6h0.8M323.1 56.8h0.8M322.6 65.8h0.8M311.4 57.6h0.8M321.4 54.6h0.8M318.2 62.7h0.8M332.0 61.8h0.8M322.0 48.7h0.8M331.6 58.5h0.8M319.8 51.3h0.8M319.7 51.4h0.8M320.4 60.8h0.8M320.2 59.7h0.8M314.9 66.6h0.8M316.1 47.1h0.8M318.9 53.4h0.8M313.9 55.9h0.8M321.7 50.9h0.8M319.2 66.6h0.8M324.1 57.1h0.8M320.8 57.3h0.8M319.7 62.4h0.8M319.4 43.6h0.8M319.9 52.7h0.8M323.9 54.3h0.8M320.9 71.1h0.8M313.7 51.3h0.8M311.5 43.6h0.8M308.7 60.2h0.8M316.2 46.8h0.8M311.1 61.7h0.8M315.3 55.8h0.8M322.0 66.1h0.8M331.6 64.2h0.8M320.9 59.1h0.8M330.8 66.6h0.8M318.1 60.7h0.8M321.7 58.3h0.8M317.0 50.0h0.8M316.8 48.7h0.8M327.3 61.2h0.8M312.8 66.4h0.8M325.4 46.5h0.8M331.0 62.9h0.8M332.4 50.6h0.8M323.2 60.5h0.8M321.2 59.0h0.8M326.3 49.0h0.8M312.5 49.6h0.8M316.7 54.4h0.8M322.2 59.6h0.8M320.2 53.9h0.8M317.3 63.7h0.8M324.6 58.6h0.8M318.1 67.3h0.8M316.4 61.9h0.8M326.9 56.4h0.8M325.0 51.3h0.8M326.1 59.2h0.8M310.5 62.0h0.8M314.6 65.7h0.8M315.9 57.0h0.8M321.7 56.0h0.8M321.6 54.7h0.8M324.0 58.0h0.8M321.3 41.5h0.8M327.0 58.2h0.8M309.3 58.6h0.8M322.8 64.4h0.8M313.5 67.3h0.8M319.0 72.4h0.8M319.1 62.1h0.8M317.8 51.3h0.8M326.6 63.4h0.8M329.2 63.1h0.8M316.6 48.0h0.8M316.1 53.9h0.8M315.1 61.5h0.8M322.0 56.4h0.8M321.0 57.1h0.8M321.3 62.5h0.8M325.8 53.9h0.8M311.0 66.6h0.8M320.7 64.6h0.8M310.1 56.0h0.8M320.2 49.4h0.8M316.9 62.3h0.8M326.5 67.6h0.8M314.8 49.6h0.8M323.1 63.6h0.8M321.2 50.2h0.8M324.7 62.8h0.8M323.3 55.1h0.8M321.8 62.7h0.8M316.6 46.9h0.8M322.0 60.9h0.8M320.1 63.3h0.8M316.5 57.5h0.8M318.2 61.4h0.8M329.6 56.5h0.8M332.3 67.2h0.8M324.7 61.5h0.8M330.6 56.9h0.8M319.3 51.6h0.8M322.8 66.1h0.8M323.2 60.5h0.8M318.8 59.0h0.8M311.4 64.3h0.8M317.5 51.4h0.8M315.5 53.1h0.8M325.1 64.3h0.8M311.9 63.6h0.8M325.3 54.5h0.8M311.1 53.5h0.8M316.2 60.1h0.8M317.9 45.8h0.8M321.4 48.8h0.8M325.4 50.8h0.8M315.8 52.9h0.8M316.7 65.8h0.8M325.1 61.6h0.8M321.9 48.7h0.8M316.9 54.7h0.8M314.1 61.1h0.8M315.6 53.7h0.8M313.7 45.7h0.8M323.6 66.0h0.8M321.0 52.1h0.8M303.8 59.0h0.8M327.3 59.8h0.8M325.6 66.9h0.8M326.8 55.4h0.8M326.3 62.7h0.8M310.8 55.6h0.8M311.5 57.3h0.8M323.5 51.6h0.8M307.7 65.8h0.8M322.3 66.8h0.8M312.1 64.4h0.8M332.4 70.0h0.8M318.7 59.6h0.8M319.1 64.0h0.8M326.2 58.5h0.8M311.8 62.4h0.8M317.2 61.8h0.8M321.6 67.7h0.8M326.8 55.3h0.8M322.1 68.6h0.8M316.8 60.6h0.8M327.1 65.5h0.8M323.1 50.1h0.8M312.4 59.5h0.8M322.3 73.3h0.8M314.8 64.8h0.8M324.6 48.0h0.8M315.1 59.0h0.8M317.0 57.1h0.8M322.8 53.1h0.8M322.8 54.2h0.8M316.7 61.2h0.8M316.6 59.7h0.8M329.6 58.2h0.8M319.1 62.4h0.8M317.8 64.5h0.8M312.3 61.7h0.8M316.9 53.2h0.8M330.6 52.9h0.8M330.5 61.9h0.8M328.7 52.1h0.8M327.2 66.7h0.8M319.3 57.2h0.8M334.7 59.1h0.8M317.5 54.2h0.8M322.7 60.0h0.8M321.1 68.3h0.8M318.0 60.8h0.8M328.8 52.0h0.8M326.2 69.0h0.8M311.9 51.4h0.8M313.8 46.9h0.8M322.7 46.9h0.8M323.0 66.7h0.8M310.3 56.1h0.8M308.5 62.7h0.8M315.6 56.4h0.8M320.3 61.3h0.8M317.9 58.1h0.8M316.7 58.7h0.8M313.0 58.4h0.8M308.4 55.1h0.8M331.5 58.5h0.8M312.4 59.5h0.8M314.2 48.1h0.8M315.6 62.4h0.8M322.3 57.4h0.8M314.4 51.5h0.8M328.1 59.5h0.8M314.3 45.3h0.8M311.8 72.9h0.8M313.1 57.5h0.8M321.3 57.1h0.8M318.3 49.8h0.8M313.7 68.1h0.8M315.5 63.1h0.8" stroke="#7088d0" stroke-width="0.8" stroke-opacity="0.8" fill="none"/>
<g filter="url(#b1)"><ellipse cx="321" cy="57.5" rx="7.5" ry="8.5" fill="#6078c8" fill-opacity="0.5"/></g>
<path d="M321.2 61.7h0.8M314.9 59.7h0.8M321.7 53.7h0.8M322.1 53.0h0.8M316.4 56.9h0.8M315.5 50.4h0.8M318.1 60.4h0.8M318.2 62.7h0.8M314.8 51.1h0.8M327.0 58.8h0.8M324.3 53.3h0.8M323.6 58.2h0.8M322.9 57.1h0.8M325.4 54.1h0.8M315.7 50.4h0.8M325.2 53.7h0.8M315.3 52.8h0.8M318.0 51.3h0.8M318.7 54.2h0.8M317.5 52.7h0.8M320.2 54.9h0.8M320.5 58.1h0.8M321.5 47.1h0.8M317.6 53.4h0.8M323.5 49.9h0.8M316.8 55.7h0.8M318.5 61.5h0.8M318.0 61.3h0.8M313.4 48.8h0.8M325.5 59.0h0.8M322.2 57.6h0.8M322.2 51.5h0.8M324.3 54.6h0.8M324.4 57.4h0.8M325.1 56.4h0.8M318.2 58.1h0.8M318.1 54.5h0.8M320.5 57.6h0.8M326.8 57.2h0.8M328.5 65.1h0.8M327.7 61.8h0.8M320.6 57.6h0.8M319.4 53.7h0.8M319.7 54.1h0.8M327.4 59.4h0.8M318.0 48.4h0.8M319.8 55.1h0.8M315.1 51.9h0.8M319.7 68.6h0.8M319.9 56.3h0.8M326.5 57.6h0.8M320.8 55.3h0.8M317.3 63.7h0.8M324.5 64.7h0.8M318.4 57.1h0.8M316.0 61.4h0.8M313.7 59.5h0.8M324.9 63.4h0.8M315.8 61.9h0.8M316.8 53.6h0.8M314.0 62.2h0.8M327.4 54.3h0.8M316.6 55.5h0.8M331.3 61.5h0.8M317.6 48.9h0.8M317.0 62.3h0.8M328.4 55.8h0.8M316.9 54.7h0.8M315.1 61.8h0.8M321.3 53.6h0.8M323.5 57.0h0.8M314.7 59.8h0.8M323.8 48.4h0.8M328.2 59.2h0.8M323.4 48.6h0.8M316.8 55.4h0.8M324.8 50.4h0.8M316.0 47.9h0.8M318.9 58.6h0.8M322.3 64.1h0.8M323.0 55.6h0.8M314.7 52.8h0.8M317.0 57.7h0.8M319.8 64.5h0.8M321.3 52.2h0.8M326.9 61.3h0.8M320.5 53.8h0.8M324.1 53.4h0.8M314.1 57.9h0.8M321.1 59.7h0.8M322.9 63.3h0.8M316.2 61.4h0.8M315.6 60.1h0.8M320.8 58.1h0.8M324.4 56.9h0.8M325.0 60.9h0.8M320.6 54.4h0.8M316.6 54.6h0.8M319.1 56.9h0.8M323.5 53.1h0.8M316.8 55.6h0.8M320.9 52.3h0.8M327.3 54.5h0.8M324.9 46.5h0.8M320.0 58.3h0.8M320.9 59.7h0.8M321.3 57.7h0.8M321.4 56.1h0.8M316.3 54.4h0.8M328.3 64.8h0.8M319.7 62.8h0.8M317.8 53.1h0.8M317.5 57.8h0.8M320.2 58.2h0.8M319.8 61.2h0.8M328.0 51.4h0.8M320.7 55.8h0.8M321.6 50.1h0.8M322.4 57.9h0.8M320.3 46.4h0.8M318.3 53.6h0.8M313.6 52.9h0.8M323.1 59.4h0.8M319.9 59.3h0.8M317.3 57.3h0.8M320.2 59.5h0.8M319.7 56.4h0.8M319.4 54.1h0.8M330.1 59.3h0.8M321.9 67.3h0.8M326.3 50.0h0.8M323.1 60.8h0.8M328.5 62.9h0.8M323.5 51.7h0.8M316.1 58.2h0.8M322.3 52.4h0.8M318.3 55.2h0.8M320.3 58.5h0.8M318.7 51.4h0.8M325.6 64.2h0.8M319.5 61.6h0.8M322.0 60.0h0.8M322.2 53.6h0.8M322.6 61.5h0.8M316.0 65.8h0.8M329.4 65.2h0.8M329.0 60.3h0.8M318.5 54.3h0.8M316.3 57.5h0.8M319.9 60.0h0.8M330.2 56.9h0.8M323.0 59.1h0.8M321.2 56.1h0.8M319.4 53.3h0.8M320.8 56.9h0.8M321.4 53.2h0.8M320.2 57.2h0.8M322.7 52.2h0.8M321.9 61.4h0.8M322.7 55.3h0.8M317.8 55.9h0.8M323.3 64.0h0.8M319.3 54.1h0.8M321.7 57.9h0.8M315.9 53.7h0.8M319.5 60.0h0.8M314.6 52.4h0.8M322.2 51.5h0.8M320.5 58.6h0.8M319.5 52.4h0.8M319.7 55.5h0.8M321.5 53.2h0.8M324.9 49.5h0.8M319.2 57.0h0.8M324.3 54.3h0.8M322.5 54.4h0.8M323.3 64.8h0.8M318.2 59.0h0.8M315.8 61.4h0.8M325.4 57.2h0.8M314.9 58.8h0.8M325.2 61.9h0.8M323.7 48.8h0.8M316.9 63.4h0.8M314.5 62.1h0.8M328.5 60.4h0.8M325.0 55.5h0.8M314.5 56.5h0.8M319.1 56.8h0.8M323.1 56.3h0.8M320.9 58.9h0.8M320.0 65.3h0.8M322.0 57.4h0.8M319.1 54.2h0.8M326.0 57.7h0.8M315.1 54.5h0.8M319.4 55.0h0.8M324.9 51.8h0.8M322.2 57.6h0.8M314.7 57.2h0.8M319.6 59.3h0.8M318.0 58.4h0.8M323.5 61.7h0.8M319.9 54.3h0.8M324.9 47.6h0.8M316.4 60.0h0.8M322.9 52.4h0.8M320.7 53.0h0.8M320.2 61.1h0.8M323.3 47.6h0.8M323.5 49.0h0.8M325.1 58.8h0.8M330.1 54.3h0.8M320.0 61.7h0.8M317.1 53.8h0.8M318.3 56.7h0.8M315.1 59.2h0.8M322.4 57.3h0.8M327.7 55.5h0.8M325.9 54.5h0.8M323.4 48.3h0.8M320.9 56.2h0.8M317.8 54.3h0.8M318.4 53.8h0.8M317.5 54.6h0.8M315.2 56.4h0.8M323.5 55.9h0.8M317.8 63.1h0.8M324.4 61.1h0.8M325.2 55.5h0.8M319.4 62.0h0.8M317.5 56.5h0.8M321.7 58.7h0.8M318.8 61.4h0.8M319.2 60.3h0.8M324.8 60.0h0.8M323.3 51.8h0.8M314.1 54.2h0.8M322.1 63.8h0.8M314.5 58.4h0.8M316.2 53.7h0.8M318.8 60.1h0.8M321.0 62.3h0.8M315.6 61.0h0.8M324.2 57.3h0.8M322.1 54.5h0.8M315.1 55.2h0.8M317.8 64.4h0.8M320.9 58.4h0.8M323.3 53.5h0.8M324.1 58.7h0.8M313.2 59.7h0.8M322.5 59.0h0.8M327.1 55.1h0.8M322.3 60.4h0.8M315.9 62.4h0.8M313.5 51.1h0.8M322.4 52.1h0.8M319.5 49.6h0.8M320.3 51.9h0.8M321.5 50.1h0.8M322.0 55.8h0.8M320.3 56.7h0.8M320.6 51.1h0.8M315.8 55.0h0.8M321.9 48.1h0.8M316.6 54.3h0.8M315.2 58.5h0.8M319.4 53.3h0.8M315.6 60.6h0.8M317.0 59.6h0.8M322.0 48.5h0.8M315.1 57.0h0.8M321.5 60.5h0.8M323.6 61.7h0.8M318.3 56.1h0.8M323.5 55.1h0.8M324.8 49.8h0.8M322.9 56.2h0.8M321.4 57.1h0.8M315.2 54.9h0.8M326.8 53.3h0.8M314.6 56.4h0.8M318.2 52.9h0.8M316.2 61.7h0.8M313.5 65.8h0.8M317.6 52.1h0.8M323.5 59.5h0.8M315.3 60.4h0.8M325.1 55.8h0.8M314.1 59.3h0.8M324.1 56.9h0.8M321.9 60.5h0.8M328.3 55.9h0.8M317.8 56.8h0.8M325.4 52.8h0.8M323.6 54.0h0.8M322.1 60.1h0.8M314.7 56.6h0.8M321.1 59.6h0.8M315.8 52.5h0.8M319.1 56.0h0.8M313.3 61.2h0.8M317.6 63.5h0.8M323.8 57.1h0.8M323.3 52.0h0.8M318.5 54.4h0.8M314.3 57.1h0.8M319.3 63.5h0.8M315.9 54.9h0.8M321.9 58.8h0.8M320.1 54.9h0.8M322.2 58.6h0.8M313.8 51.7h0.8M320.7 57.3h0.8M320.5 53.1h0.8M319.1 52.9h0.8M321.7 60.1h0.8M327.9 62.7h0.8M316.4 54.9h0.8M315.8 58.4h0.8M328.9 60.2h0.8M314.2 59.3h0.8M320.0 58.3h0.8M328.0 53.3h0.8M316.2 65.8h0.8M321.5 53.5h0.8M320.2 61.5h0.8M319.4 53.9h0.8M316.7 65.6h0.8M320.1 59.8h0.8M318.2 59.2h0.8M323.7 56.3h0.8M317.9 56.2h0.8M315.7 56.1h0.8M318.6 57.9h0.8M326.0 62.9h0.8M318.0 59.7h0.8M321.3 60.4h0.8M320.1 58.2h0.8M317.9 53.5h0.8M323.9 62.8h0.8M323.0 59.0h0.8M321.2 55.0h0.8M320.9 54.5h0.8M315.7 62.8h0.8M322.9 67.7h0.8M316.8 56.9h0.8M317.7 57.7h0.8M319.1 53.6h0.8M324.8 53.5h0.8M317.7 59.5h0.8M317.6 55.0h0.8M321.6 55.3h0.8M314.4 56.5h0.8M319.0 64.7h0.8M315.1 61.4h0.8M316.5 55.4h0.8M318.5 58.2h0.8M323.9 64.9h0.8M317.1 63.0h0.8M324.5 60.7h0.8M316.6 61.1h0.8M319.5 58.6h0.8M318.8 60.0h0.8M325.0 62.1h0.8M319.1 61.5h0.8M326.5 52.8h0.8M326.6 51.0h0.8M322.4 59.7h0.8M326.7 58.3h0.8M317.8 53.4h0.8M314.4 60.4h0.8M318.9 53.8h0.8M322.4 53.6h0.8M318.0 54.9h0.8M327.4 63.6h0.8M319.3 49.9h0.8M321.2 57.3h0.8M321.6 59.5h0.8M318.6 61.2h0.8M323.8 57.9h0.8M318.2 54.8h0.8M323.1 52.1h0.8M319.3 53.6h0.8M313.7 59.7h0.8M319.9 57.2h0.8M323.9 50.3h0.8M319.7 58.3h0.8M323.7 52.1h0.8M323.2 58.0h0.8M326.1 62.1h0.8M322.5 66.7h0.8M320.0 55.1h0.8M318.5 52.8h0.8M319.9 48.5h0.8M319.6 58.9h0.8M324.5 55.4h0.8M326.2 54.1h0.8M319.4 48.6h0.8M316.6 53.4h0.8M326.6 59.3h0.8M315.1 59.3h0.8M322.1 56.0h0.8M320.1 55.7h0.8M317.6 49.2h0.8M319.6 62.6h0.8M326.3 55.8h0.8M316.7 56.1h0.8M323.9 58.5h0.8M317.4 58.6h0.8M319.1 59.3h0.8M318.2 50.5h0.8M320.3 60.3h0.8M315.1 56.5h0.8M323.9 55.4h0.8M317.1 65.9h0.8M323.6 61.5h0.8M315.9 64.2h0.8M323.2 62.8h0.8M315.9 54.1h0.8M320.9 48.6h0.8M322.8 59.5h0.8M318.0 59.4h0.8M323.4 58.4h0.8M322.3 63.6h0.8M317.9 57.7h0.8M317.7 61.5h0.8M318.2 59.1h0.8M320.6 57.3h0.8M327.5 56.6h0.8M326.2 60.6h0.8M325.8 56.3h0.8M324.0 60.3h0.8M317.3 58.2h0.8M319.4 56.8h0.8M325.7 53.9h0.8M318.0 54.2h0.8M320.1 59.5h0.8M327.6 58.3h0.8M322.0 53.8h0.8M322.5 62.9h0.8M325.8 48.5h0.8M323.9 63.9h0.8M323.6 50.5h0.8M318.7 59.5h0.8M321.8 53.5h0.8M316.1 61.2h0.8M314.2 63.2h0.8M320.1 58.3h0.8" stroke="#5a78c8" stroke-width="0.8" stroke-opacity="0.85" fill="none"/>
<path d="M301.9 59.1h0.9M308.1 49.0h0.9M312.4 49.8h0.9M302.2 66.5h0.9M307.5 74.5h0.9M304.9 63.6h0.9M305.3 59.4h0.9M306.8 67.8h0.9M304.1 68.9h0.9M306.0 65.1h0.9M306.8 53.7h0.9M305.0 83.3h0.9M302.7 64.8h0.9M304.2 76.9h0.9M307.6 61.9h0.9M305.0 78.5h0.9M303.3 61.7h0.9M306.5 70.8h0.9M304.4 77.9h0.9M312.9 61.3h0.9M310.3 62.0h0.9M306.4 62.1h0.9M304.0 51.3h0.9M304.8 80.9h0.9M309.5 62.0h0.9M304.4 57.9h0.9M302.3 86.8h0.9M308.0 67.4h0.9M304.5 54.2h0.9M310.0 75.0h0.9M303.1 77.4h0.9M302.6 73.4h0.9M303.0 61.2h0.9M307.5 71.0h0.9M309.1 56.4h0.9M310.9 81.5h0.9M306.0 71.4h0.9M303.6 64.2h0.9M301.9 67.0h0.9M306.6 81.5h0.9M308.9 75.4h0.9M304.9 63.4h0.9M305.0 68.6h0.9M300.1 74.9h0.9M301.2 60.1h0.9M306.1 60.1h0.9M311.1 64.9h0.9M310.8 79.5h0.9M304.5 70.6h0.9M310.0 62.2h0.9M306.3 59.6h0.9M306.2 61.9h0.9M306.3 77.5h0.9M310.3 67.5h0.9M306.6 75.9h0.9M305.1 53.8h0.9M309.4 55.2h0.9M308.9 54.9h0.9M311.6 54.0h0.9M308.6 83.3h0.9M303.0 83.1h0.9M308.2 74.1h0.9M305.8 62.5h0.9M304.8 62.7h0.9M300.5 59.5h0.9M311.5 83.8h0.9M304.9 57.8h0.9M307.2 78.2h0.9M308.2 52.5h0.9M306.5 67.6h0.9M310.4 79.8h0.9M307.6 80.0h0.9M304.8 83.7h0.9M304.7 70.6h0.9M308.8 55.5h0.9M306.5 65.4h0.9M305.0 71.7h0.9M306.3 62.9h0.9M308.4 86.2h0.9M304.6 55.2h0.9M304.1 67.1h0.9M307.8 56.1h0.9M309.1 54.2h0.9M308.5 70.9h0.9M307.4 90.9h0.9M305.2 64.1h0.9M307.5 75.9h0.9M301.9 69.2h0.9M303.7 73.3h0.9M310.2 66.6h0.9M305.7 68.1h0.9M307.7 67.9h0.9M304.8 57.6h0.9M305.4 80.0h0.9M305.7 81.5h0.9M306.8 65.8h0.9M300.9 58.3h0.9M309.8 51.1h0.9M303.0 53.4h0.9M304.3 73.4h0.9M310.5 59.2h0.9M304.2 85.2h0.9M305.7 51.7h0.9M304.0 57.6h0.9M302.9 62.2h0.9M308.7 70.0h0.9M303.0 67.3h0.9M306.1 74.8h0.9M305.0 71.3h0.9M312.5 67.1h0.9M302.7 69.8h0.9M303.5 61.7h0.9M306.6 69.9h0.9M305.1 75.8h0.9M305.4 51.0h0.9M308.7 61.8h0.9M309.7 58.5h0.9M307.8 69.6h0.9M302.6 82.2h0.9M300.2 76.5h0.9M309.4 71.7h0.9M308.1 60.3h0.9M306.0 68.6h0.9M307.3 74.1h0.9M305.4 57.9h0.9M304.3 70.7h0.9M300.9 51.6h0.9M304.7 59.6h0.9M305.0 63.1h0.9M305.1 71.5h0.9M307.5 79.8h0.9M309.2 53.9h0.9M308.0 62.1h0.9M303.5 83.7h0.9M304.1 56.2h0.9M304.7 56.2h0.9M309.1 70.4h0.9M310.3 70.7h0.9M304.1 78.1h0.9M304.0 60.7h0.9M305.5 66.5h0.9M309.7 59.0h0.9M307.1 65.7h0.9M302.1 53.4h0.9M305.3 70.7h0.9M307.0 71.5h0.9M306.1 60.8h0.9M307.3 54.4h0.9M301.9 62.2h0.9M301.6 60.1h0.9M303.7 59.6h0.9M305.9 56.7h0.9M306.4 55.8h0.9M303.5 68.8h0.9M306.3 67.2h0.9M301.4 68.7h0.9M306.5 54.7h0.9M308.3 65.4h0.9M306.1 60.8h0.9M307.7 67.1h0.9M309.5 71.2h0.9M304.1 63.4h0.9M308.8 61.8h0.9M307.2 72.0h0.9M306.4 68.5h0.9M306.4 57.2h0.9M309.7 64.4h0.9M304.1 57.7h0.9M307.1 53.3h0.9M302.9 89.2h0.9M310.1 78.2h0.9M310.2 72.9h0.9M300.8 79.9h0.9M309.8 71.7h0.9M299.9 80.4h0.9M310.2 60.3h0.9M306.4 75.0h0.9M305.7 78.8h0.9M306.3 74.0h0.9M306.3 48.8h0.9M306.9 81.2h0.9M309.5 85.9h0.9M307.7 59.1h0.9M305.4 76.5h0.9M308.6 81.5h0.9M303.1 58.4h0.9M300.2 54.1h0.9M307.7 90.1h0.9M302.4 82.1h0.9M307.3 60.2h0.9M305.8 68.6h0.9M312.6 86.9h0.9M313.0 67.6h0.9M309.0 81.9h0.9M307.6 70.2h0.9M305.4 61.2h0.9M302.2 88.7h0.9M306.8 65.6h0.9M306.5 87.2h0.9M305.7 62.9h0.9M303.7 65.7h0.9M304.6 68.4h0.9M303.3 88.5h0.9M308.7 75.5h0.9M308.2 75.6h0.9M308.1 82.5h0.9M309.1 81.7h0.9M304.4 66.0h0.9M303.7 77.2h0.9M308.6 60.6h0.9M309.9 53.0h0.9M305.7 73.4h0.9M305.9 70.5h0.9M309.7 69.8h0.9M302.6 74.4h0.9M305.7 67.3h0.9M304.2 49.8h0.9M302.1 61.9h0.9M309.6 52.4h0.9M303.7 72.2h0.9M303.6 73.7h0.9M304.5 69.6h0.9M306.3 66.0h0.9M300.3 48.8h0.9M305.9 82.5h0.9M304.3 72.2h0.9M306.5 71.7h0.9M309.1 48.5h0.9M306.9 63.9h0.9M305.0 56.0h0.9M303.5 54.0h0.9M311.3 66.1h0.9M308.3 54.6h0.9M306.4 82.8h0.9M305.9 54.3h0.9M305.2 54.3h0.9M301.7 63.3h0.9M304.8 56.5h0.9M303.2 55.1h0.9M306.7 82.3h0.9M305.3 92.1h0.9M301.0 69.2h0.9M302.4 64.1h0.9M306.3 72.5h0.9M309.5 59.5h0.9M302.1 63.8h0.9M306.9 57.8h0.9M308.8 85.7h0.9M301.6 70.2h0.9M306.6 63.4h0.9M301.6 81.4h0.9M306.7 60.4h0.9M307.4 73.5h0.9M308.4 72.8h0.9M307.3 52.2h0.9M304.7 67.5h0.9M304.8 53.7h0.9M300.3 68.9h0.9M306.1 59.2h0.9M304.7 55.6h0.9M303.7 64.9h0.9M304.0 73.9h0.9M305.6 67.5h0.9M307.3 80.9h0.9M307.9 68.7h0.9M305.5 56.6h0.9M304.9 74.0h0.9M306.7 61.5h0.9M301.8 48.1h0.9M307.0 78.0h0.9M307.2 49.9h0.9M305.3 68.6h0.9M303.1 70.1h0.9M305.4 56.2h0.9M302.1 75.5h0.9M307.1 55.6h0.9M302.8 76.4h0.9M307.9 62.4h0.9M311.0 62.6h0.9M302.7 78.8h0.9M305.4 70.0h0.9M306.1 54.3h0.9M302.3 63.7h0.9M310.4 54.3h0.9M310.2 68.6h0.9M302.5 69.1h0.9M307.8 55.5h0.9M302.5 71.1h0.9M300.0 64.3h0.9M303.5 48.7h0.9M305.2 68.0h0.9M304.3 52.2h0.9M307.7 71.7h0.9M311.2 76.3h0.9M307.1 69.1h0.9M306.1 50.5h0.9M310.6 72.1h0.9M305.1 52.6h0.9M310.6 72.2h0.9M302.3 73.8h0.9" stroke="#5070cc" stroke-width="0.9" stroke-opacity="0.7" fill="none"/>
<g filter="url(#b1)">
<path d="M300,50 Q306,47 313.5,49 L313.5,70 Q310,76 306,80 L305.5,93.5 L300,93.5 Z" fill="#4a8cc0" fill-opacity="0.7"/>
<ellipse cx="306" cy="61" rx="5" ry="9" fill="#50b08c" fill-opacity="0.85"/>
<ellipse cx="305.5" cy="59.5" rx="3.8" ry="6.5" fill="#a8c840"/>
<ellipse cx="305.3" cy="59" rx="2.4" ry="4.2" fill="#dcd040"/>
<ellipse cx="302.5" cy="84" rx="1.6" ry="8" fill="#40a8a0" fill-opacity="0.8"/>
</g>
<path d="M311.9 65.7h0.8M307.2 61.2h0.8M304.0 78.5h0.8M305.6 75.2h0.8M305.1 74.5h0.8M308.6 54.2h0.8M302.7 65.1h0.8M308.6 69.2h0.8M309.9 50.0h0.8M307.5 58.7h0.8M306.3 69.7h0.8M303.0 63.3h0.8M302.4 69.1h0.8M303.4 60.2h0.8M306.7 58.4h0.8M309.6 58.6h0.8M308.6 69.3h0.8M302.8 63.5h0.8M303.4 61.8h0.8M305.2 87.2h0.8M304.7 84.3h0.8M307.4 50.8h0.8M299.8 74.4h0.8M309.2 70.5h0.8M305.4 63.1h0.8M306.8 62.5h0.8M304.3 61.7h0.8M309.6 58.8h0.8M307.2 52.6h0.8M303.8 50.0h0.8M305.4 73.9h0.8M306.9 60.3h0.8M307.9 62.0h0.8M307.2 69.2h0.8M302.0 75.0h0.8M305.7 92.1h0.8M305.3 59.6h0.8M310.6 72.5h0.8M311.9 71.9h0.8M305.4 74.4h0.8M303.6 60.8h0.8M304.3 63.4h0.8M308.4 60.4h0.8M307.0 60.2h0.8M305.4 68.0h0.8M302.7 77.8h0.8M306.7 80.9h0.8M309.0 73.4h0.8M305.5 53.4h0.8M305.3 60.7h0.8M306.8 60.6h0.8M309.6 60.6h0.8M305.3 76.7h0.8M306.0 51.9h0.8M307.3 63.7h0.8M299.6 68.3h0.8M302.7 57.4h0.8M307.5 69.5h0.8M305.1 91.1h0.8M307.3 58.9h0.8M306.7 64.6h0.8M301.7 89.9h0.8M305.4 62.8h0.8M304.3 77.4h0.8M306.1 85.8h0.8M308.4 85.1h0.8M305.6 70.3h0.8M304.7 64.0h0.8M300.7 59.3h0.8M303.1 58.5h0.8M309.8 69.0h0.8M309.8 75.9h0.8M308.8 77.6h0.8M304.1 75.3h0.8M305.0 59.9h0.8M309.7 91.0h0.8M303.0 86.1h0.8M308.6 56.2h0.8M306.8 70.3h0.8M307.2 61.9h0.8" stroke="#5070cc" stroke-width="0.8" stroke-opacity="0.5" fill="none"/>
<polyline points="313.5,43 313.5,71.5 347.5,71.5 347.5,41" fill="none" stroke="#555" stroke-width="1"/>
<line x1="313.5" y1="36.5" x2="347.5" y2="36.5" stroke="#c4c4c4" stroke-width="0.8"/>
<text x="290.4" y="45.8" font-size="6.3" text-anchor="start" font-weight="normal" fill="#222" textLength="39" lengthAdjust="spacingAndGlyphs">CD33<tspan font-size="4.54" baseline-shift="2.39">+</tspan>/CD13<tspan font-size="4.54" baseline-shift="2.39">+</tspan></text>
<text x="340.6" y="79.9" font-size="6.2" text-anchor="middle" font-weight="normal" fill="#222">20.0</text>
<text x="320" y="34.3" font-size="2.9" text-anchor="middle" font-weight="normal" fill="#555" textLength="63" lengthAdjust="spacingAndGlyphs" class="t">Comp-APC-Cy7-A, Comp-PerCP-Cy5-5-A subset</text>
<text x="320.3" y="39" font-size="2.9" text-anchor="middle" font-weight="normal" fill="#777" class="t">20.0</text>
<line x1="381.5" y1="34.5" x2="426.5" y2="34.5" stroke="#b0b0b0" stroke-width="0.8"/>
<polyline points="381.5,34.5 381.5,77.5 426.5,77.5 426.5,34.5" fill="none" stroke="#505050" stroke-width="0.9"/>
<path d="M377.1 57.7h0.8M378.9 62.4h0.8M378.8 64.4h0.8M377.3 57.2h0.8M378.5 63.8h0.8M378.3 60.7h0.8M376.3 57.3h0.8M380.3 59.0h0.8M376.6 58.3h0.8M377.0 53.2h0.8M378.4 68.2h0.8M378.6 61.7h0.8M379.1 58.8h0.8M377.5 56.9h0.8M378.5 55.8h0.8M377.6 55.3h0.8M376.9 51.1h0.8M378.1 55.2h0.8M378.2 66.3h0.8M378.5 57.3h0.8M377.2 50.8h0.8M378.5 52.0h0.8M378.6 50.8h0.8M378.3 57.0h0.8M379.1 55.0h0.8M377.9 59.0h0.8M378.2 68.1h0.8M378.0 54.1h0.8M377.9 60.5h0.8M378.4 61.8h0.8M379.8 57.3h0.8M377.2 58.5h0.8M378.2 48.3h0.8M378.6 66.1h0.8M379.1 48.1h0.8M379.4 63.2h0.8M377.9 60.6h0.8M379.5 55.4h0.8M378.2 54.0h0.8M379.4 51.4h0.8M379.0 47.3h0.8M377.4 53.8h0.8M378.9 47.4h0.8M378.7 53.5h0.8M379.3 55.6h0.8M378.6 56.4h0.8M379.8 55.2h0.8M378.2 69.9h0.8M378.3 61.8h0.8M377.6 58.7h0.8M376.2 58.2h0.8M377.6 48.1h0.8M377.0 64.6h0.8M378.6 48.0h0.8M379.8 53.1h0.8M377.9 59.0h0.8M377.2 47.4h0.8M377.6 64.9h0.8M379.0 47.6h0.8M379.2 57.7h0.8M378.6 57.8h0.8M378.6 51.2h0.8M377.4 53.1h0.8M377.9 61.4h0.8M377.1 67.5h0.8M377.7 53.8h0.8M378.8 60.2h0.8M377.9 50.8h0.8M377.3 47.5h0.8M379.2 64.3h0.8M379.8 60.6h0.8M378.5 62.2h0.8M379.0 55.9h0.8M376.7 48.7h0.8M377.4 62.2h0.8M379.2 55.4h0.8M378.8 57.2h0.8M378.5 54.1h0.8M378.2 57.5h0.8M376.6 60.8h0.8M378.2 63.6h0.8M379.1 62.4h0.8M378.9 51.6h0.8M376.7 67.9h0.8M379.2 51.5h0.8M379.3 61.7h0.8M376.1 63.1h0.8M377.3 64.8h0.8M377.6 52.8h0.8M376.9 56.1h0.8M379.1 53.3h0.8M379.8 61.8h0.8M377.7 49.9h0.8M376.8 61.0h0.8M379.3 50.9h0.8M378.2 55.8h0.8M378.0 60.6h0.8M380.0 53.5h0.8M378.9 64.3h0.8M378.0 56.6h0.8M377.0 64.3h0.8M377.7 53.4h0.8M378.3 52.1h0.8M377.3 55.6h0.8M379.5 56.2h0.8M378.7 48.3h0.8M376.5 68.9h0.8M377.9 47.9h0.8M378.1 61.3h0.8M376.7 52.0h0.8M378.4 51.7h0.8M378.9 63.5h0.8M378.6 54.8h0.8M378.2 53.5h0.8M378.1 59.5h0.8M377.9 63.6h0.8M380.5 54.1h0.8M378.5 62.7h0.8M378.8 56.0h0.8M377.8 63.8h0.8M378.7 60.7h0.8M377.5 61.5h0.8M378.9 56.3h0.8M376.6 61.3h0.8M377.2 48.9h0.8M378.0 60.9h0.8M378.2 50.2h0.8M376.9 54.0h0.8M378.2 52.3h0.8M376.9 68.5h0.8M377.5 56.5h0.8M377.7 53.8h0.8M378.2 55.6h0.8M378.7 50.1h0.8M376.9 69.8h0.8M378.1 62.3h0.8M379.2 61.0h0.8M378.2 47.7h0.8M376.8 63.7h0.8M378.8 61.1h0.8M377.3 50.1h0.8M378.3 51.1h0.8M379.6 53.6h0.8M377.7 62.9h0.8M378.5 51.8h0.8M378.9 69.6h0.8M377.1 55.9h0.8M377.3 45.3h0.8M378.7 61.9h0.8M379.1 60.2h0.8M376.4 57.3h0.8M377.6 50.1h0.8M377.2 62.3h0.8M377.9 69.9h0.8M378.6 45.5h0.8M379.0 65.4h0.8M378.2 49.8h0.8M379.7 49.2h0.8M378.1 45.5h0.8M377.1 46.8h0.8" stroke="#5e8cc4" stroke-width="0.8" stroke-opacity="1.0" fill="none"/>
<path d="M384.4 62.9h0.7M394.7 60.7h0.7M387.0 47.6h0.7M392.9 65.8h0.7M386.9 51.1h0.7M386.0 48.3h0.7M394.2 69.4h0.7M396.4 54.6h0.7M394.6 47.7h0.7M397.1 53.8h0.7" stroke="#c8cce8" stroke-width="0.7" stroke-opacity="1.0" fill="none"/>
<text x="364" y="41" font-size="6.3" fill="#222" textLength="34.3" lengthAdjust="spacingAndGlyphs">IGSF9<tspan font-size="4.6" baseline-shift="2.3">+</tspan><tspan> 1.14</tspan></text>
<text x="396" y="83.5" font-size="2.9" text-anchor="middle" font-weight="normal" fill="#555" textLength="56" lengthAdjust="spacingAndGlyphs" class="t">Comp-APC-A, Comp-PerCP-Cy5-5-A subset</text>
<text x="396" y="87.8" font-size="2.9" text-anchor="middle" font-weight="normal" fill="#777" class="t">1.14</text>
<line x1="456.5" y1="34.5" x2="501.5" y2="34.5" stroke="#b0b0b0" stroke-width="0.8"/>
<polyline points="456.5,34.5 456.5,77.5 501.5,77.5 501.5,34.5" fill="none" stroke="#505050" stroke-width="0.9"/>
<path d="M470.1 62.0h0.7M474.6 52.4h0.7M472.0 57.0h0.7M488.3 66.8h0.7M471.3 67.3h0.7M473.6 51.1h0.7M490.8 54.2h0.7M480.9 60.3h0.7M477.2 66.4h0.7M476.9 67.7h0.7M496.7 59.5h0.7M471.0 66.0h0.7M470.9 58.6h0.7M484.0 46.7h0.7M490.8 64.6h0.7M489.3 55.8h0.7M486.9 60.9h0.7M477.5 68.4h0.7M502.9 66.7h0.7M501.7 53.9h0.7M502.5 46.9h0.7M485.8 48.6h0.7M485.0 63.4h0.7M493.4 57.3h0.7M481.3 50.1h0.7M483.3 52.6h0.7M476.4 64.9h0.7M487.0 56.8h0.7M476.5 64.0h0.7M476.5 52.2h0.7M488.5 63.9h0.7M502.1 65.2h0.7M501.3 69.8h0.7M493.8 64.4h0.7M472.1 50.6h0.7M470.4 68.3h0.7M493.8 62.0h0.7M478.7 54.6h0.7M475.4 62.1h0.7M502.7 53.3h0.7M471.5 49.7h0.7M481.7 69.3h0.7M496.5 57.3h0.7M473.4 47.9h0.7M475.1 66.0h0.7M485.6 71.7h0.7M500.1 66.5h0.7M485.7 67.2h0.7M474.2 47.9h0.7M488.6 58.7h0.7M476.9 51.8h0.7M470.7 69.5h0.7M493.4 70.5h0.7M502.4 56.8h0.7M494.2 55.4h0.7M496.8 67.7h0.7M474.4 45.3h0.7M477.1 60.8h0.7M482.5 45.2h0.7M497.4 66.2h0.7M485.3 46.2h0.7M499.3 59.4h0.7M472.3 53.7h0.7M490.6 68.9h0.7M486.0 62.3h0.7M476.8 51.6h0.7M499.9 55.3h0.7M473.4 61.0h0.7M474.2 50.4h0.7M485.1 60.8h0.7M491.0 64.1h0.7M484.5 46.8h0.7M493.9 46.5h0.7M485.5 55.8h0.7M492.2 64.3h0.7M477.9 62.5h0.7M492.8 57.7h0.7M474.7 69.5h0.7M489.8 46.7h0.7M477.9 71.6h0.7M477.5 55.6h0.7M496.0 67.2h0.7M490.9 65.0h0.7M471.3 47.5h0.7M502.2 66.7h0.7M471.3 46.3h0.7M477.9 70.1h0.7M477.2 63.1h0.7M500.7 62.2h0.7M500.3 52.1h0.7M475.1 45.5h0.7M495.0 47.8h0.7M502.1 64.2h0.7M476.2 66.8h0.7M475.4 58.8h0.7M473.5 66.2h0.7M499.4 69.7h0.7M470.1 68.0h0.7M488.3 67.2h0.7M486.6 61.7h0.7M489.6 66.6h0.7M472.6 46.5h0.7M488.0 52.9h0.7M483.1 45.2h0.7M494.6 45.6h0.7M497.4 66.9h0.7M485.1 48.3h0.7M491.5 50.6h0.7M484.2 48.0h0.7M502.2 59.7h0.7M481.6 47.5h0.7M494.1 67.9h0.7M498.0 47.7h0.7M482.1 53.2h0.7M495.2 49.0h0.7M490.0 71.4h0.7M495.4 45.2h0.7M472.5 48.1h0.7M492.9 61.2h0.7M487.2 57.3h0.7" stroke="#9aa2d8" stroke-width="0.7" stroke-opacity="0.8" fill="none"/>
<path d="M454.7 64.2h0.8M453.7 50.2h0.8M459.9 50.2h0.8M469.9 54.5h0.8M460.7 58.7h0.8M456.5 50.3h0.8M466.6 71.9h0.8M453.0 63.1h0.8M460.9 64.6h0.8M458.2 64.0h0.8M465.9 63.3h0.8M469.0 59.0h0.8M469.5 56.1h0.8M461.1 55.6h0.8M461.0 65.7h0.8M464.9 60.5h0.8M470.4 51.9h0.8M456.5 68.3h0.8M462.8 48.6h0.8M462.9 53.5h0.8M469.1 66.3h0.8M458.0 67.1h0.8M456.4 65.1h0.8M464.2 59.3h0.8M453.2 58.5h0.8M455.7 46.6h0.8M464.2 62.0h0.8M458.2 71.6h0.8M465.3 60.4h0.8M463.6 65.3h0.8M457.7 52.2h0.8M460.8 50.8h0.8M461.0 64.2h0.8M469.3 61.5h0.8M462.1 64.1h0.8M468.7 58.2h0.8M454.2 55.6h0.8M454.1 55.1h0.8M460.3 61.9h0.8M461.9 60.4h0.8M459.0 62.3h0.8M465.9 64.2h0.8M469.2 58.4h0.8M459.6 69.3h0.8M462.1 62.3h0.8M459.2 65.3h0.8M458.8 54.5h0.8M460.7 57.6h0.8M465.6 57.9h0.8M461.7 58.8h0.8M462.9 56.5h0.8M467.1 52.2h0.8M458.9 56.1h0.8M464.6 60.2h0.8M463.7 58.2h0.8M457.1 53.8h0.8M459.2 57.1h0.8M462.5 62.0h0.8M466.4 59.4h0.8M456.9 54.2h0.8M461.3 62.0h0.8M471.7 61.0h0.8M470.7 70.3h0.8M455.2 66.7h0.8M467.3 67.4h0.8M460.9 65.3h0.8M458.4 59.6h0.8M461.1 69.8h0.8M459.8 65.3h0.8M461.4 56.1h0.8M462.3 63.6h0.8M457.1 63.5h0.8M457.1 55.2h0.8M462.2 58.7h0.8M455.6 51.0h0.8M461.1 61.3h0.8M458.5 61.0h0.8M452.6 62.2h0.8M463.3 61.5h0.8M457.6 60.4h0.8M461.7 65.9h0.8M462.5 61.4h0.8M457.0 64.7h0.8M467.4 57.3h0.8M464.5 61.7h0.8M460.7 52.9h0.8M470.7 49.7h0.8M462.7 57.9h0.8M467.3 57.7h0.8M461.2 63.4h0.8M463.5 57.1h0.8M464.7 62.2h0.8M466.4 57.2h0.8M460.7 57.9h0.8M456.4 61.4h0.8M463.2 67.8h0.8M459.2 62.1h0.8M467.3 59.4h0.8M461.3 60.7h0.8M457.2 54.6h0.8M467.1 60.9h0.8M460.6 53.2h0.8M461.6 66.4h0.8M454.7 55.1h0.8M467.1 67.8h0.8M469.5 57.0h0.8M464.3 55.9h0.8M463.9 58.0h0.8M462.1 67.3h0.8M462.9 58.7h0.8M461.3 61.5h0.8M458.2 61.1h0.8M464.3 68.5h0.8M454.2 64.8h0.8M474.3 61.1h0.8M461.7 66.2h0.8M458.2 57.3h0.8M462.9 56.8h0.8M467.1 60.0h0.8M458.5 65.1h0.8M456.5 66.8h0.8M466.3 60.8h0.8M466.4 68.8h0.8M468.5 60.0h0.8M460.7 66.0h0.8M453.0 56.7h0.8M463.6 63.1h0.8M471.2 69.6h0.8M462.8 62.4h0.8M453.8 59.0h0.8M462.4 58.8h0.8M461.3 63.3h0.8M455.8 56.9h0.8M455.3 50.7h0.8M465.2 58.8h0.8M466.3 58.0h0.8M472.6 63.9h0.8M461.8 60.6h0.8M459.9 64.4h0.8M471.9 57.7h0.8M455.1 63.2h0.8M466.8 51.9h0.8M457.2 54.6h0.8M464.1 62.7h0.8M457.0 53.9h0.8M464.7 48.8h0.8M464.5 59.2h0.8M471.4 65.4h0.8M457.9 58.5h0.8M459.5 56.1h0.8M461.4 65.2h0.8M452.8 58.8h0.8M469.1 64.0h0.8M456.6 55.6h0.8M456.4 51.3h0.8M467.2 60.4h0.8M457.2 52.2h0.8M458.9 57.2h0.8M470.3 57.5h0.8M461.6 65.8h0.8M464.6 59.0h0.8M464.2 57.7h0.8M460.5 54.8h0.8M456.1 52.0h0.8M463.7 62.8h0.8M461.9 64.2h0.8M463.9 60.7h0.8M456.2 63.2h0.8M467.4 63.4h0.8M467.7 57.4h0.8M455.7 66.8h0.8M457.8 61.3h0.8M460.0 60.1h0.8M459.5 57.1h0.8M462.1 49.6h0.8M456.1 53.9h0.8M457.0 46.2h0.8M464.1 68.8h0.8M459.7 64.0h0.8M464.2 53.3h0.8M467.6 50.9h0.8M457.9 58.1h0.8M467.8 60.6h0.8M460.3 55.7h0.8M461.5 60.2h0.8M464.9 67.5h0.8M465.0 60.1h0.8M460.2 68.6h0.8M462.1 59.9h0.8M470.7 68.4h0.8M464.1 59.4h0.8M457.6 65.7h0.8M458.6 65.2h0.8M456.8 60.6h0.8M463.2 60.8h0.8M462.3 62.1h0.8M455.0 54.0h0.8M460.2 69.7h0.8M460.3 55.0h0.8M457.5 60.2h0.8M467.4 57.0h0.8M464.0 61.0h0.8M459.1 54.9h0.8M460.2 56.1h0.8M463.9 50.5h0.8M467.1 64.1h0.8M464.1 68.0h0.8M464.2 50.8h0.8M461.3 62.4h0.8M457.3 53.9h0.8M463.3 62.7h0.8M458.7 58.7h0.8M458.3 57.0h0.8M460.7 65.8h0.8M452.4 58.2h0.8M469.7 61.7h0.8M461.8 64.5h0.8M455.6 53.5h0.8M452.1 52.2h0.8M462.3 64.6h0.8M458.8 56.4h0.8M463.2 63.3h0.8M462.4 49.8h0.8M458.1 46.4h0.8M462.3 55.4h0.8M457.5 68.1h0.8M468.1 62.6h0.8M462.5 60.9h0.8M457.9 59.7h0.8M471.2 55.3h0.8M457.5 60.9h0.8M465.8 64.5h0.8M455.8 59.3h0.8M459.6 53.4h0.8M461.4 57.4h0.8M465.9 62.3h0.8M456.8 60.4h0.8M459.1 56.6h0.8M458.4 65.7h0.8M458.8 50.8h0.8M456.9 64.3h0.8M472.5 54.4h0.8M459.1 58.2h0.8M453.5 62.1h0.8M460.7 61.5h0.8M473.0 58.6h0.8M465.2 64.5h0.8M457.6 56.8h0.8M469.3 63.8h0.8M461.8 54.2h0.8M465.7 62.8h0.8M472.8 67.9h0.8M465.3 61.4h0.8M461.3 57.1h0.8M462.7 61.3h0.8M464.5 65.8h0.8M462.7 57.1h0.8M465.3 68.3h0.8M456.5 62.2h0.8M463.9 62.9h0.8M463.7 59.5h0.8M460.5 69.0h0.8M470.3 52.5h0.8M457.4 57.2h0.8M452.5 61.9h0.8M460.7 57.1h0.8M468.9 66.3h0.8M458.8 63.5h0.8M460.8 66.2h0.8M464.1 59.8h0.8M464.0 56.2h0.8M465.2 68.0h0.8M459.1 63.0h0.8M452.1 65.0h0.8M465.7 54.5h0.8M470.3 60.6h0.8M465.7 58.5h0.8M466.9 51.7h0.8M460.5 65.2h0.8M457.4 63.6h0.8M459.1 61.8h0.8M462.7 71.9h0.8M454.4 64.2h0.8M468.0 54.0h0.8M459.7 50.9h0.8M462.6 56.1h0.8M458.0 55.5h0.8M462.6 57.5h0.8M456.2 58.8h0.8M463.2 55.4h0.8M466.9 51.1h0.8M463.2 57.9h0.8M469.4 56.6h0.8M457.5 52.8h0.8M471.6 63.3h0.8M455.2 58.2h0.8M455.9 68.1h0.8M463.2 49.1h0.8M462.1 64.9h0.8M461.0 62.5h0.8M460.4 61.1h0.8M462.1 56.2h0.8M462.9 60.9h0.8M460.8 56.3h0.8M455.6 61.3h0.8M465.4 47.1h0.8M458.1 67.2h0.8M465.9 56.2h0.8M468.2 54.7h0.8M456.8 70.4h0.8M458.7 58.8h0.8M452.2 54.6h0.8M454.7 59.3h0.8M459.1 56.8h0.8M457.6 64.0h0.8M469.2 57.8h0.8M469.6 68.6h0.8M468.2 61.6h0.8M453.0 63.6h0.8M458.8 61.0h0.8M462.2 55.0h0.8M462.6 69.0h0.8M462.2 56.3h0.8M473.8 48.5h0.8M456.1 62.2h0.8M457.8 47.7h0.8M462.4 64.4h0.8M456.7 67.8h0.8M463.7 66.4h0.8M452.8 60.0h0.8M469.6 70.8h0.8M468.1 60.0h0.8M462.0 56.6h0.8M466.9 56.3h0.8M461.7 48.9h0.8M452.9 69.5h0.8M461.3 61.2h0.8M472.1 52.0h0.8M458.2 58.9h0.8M454.3 52.7h0.8M454.4 63.4h0.8M460.7 64.4h0.8M455.2 63.2h0.8M458.6 60.5h0.8M466.0 60.2h0.8M459.1 51.1h0.8M461.3 64.2h0.8M457.6 59.6h0.8M463.2 67.0h0.8M459.3 51.0h0.8M459.0 51.6h0.8M459.5 70.4h0.8M462.6 59.2h0.8M466.6 58.0h0.8M462.8 61.1h0.8M463.4 52.1h0.8M464.8 64.8h0.8M456.2 68.0h0.8M461.1 63.7h0.8M464.0 64.8h0.8M457.6 56.8h0.8M463.0 63.3h0.8M464.1 61.8h0.8M458.4 66.0h0.8M463.5 65.7h0.8M457.4 60.7h0.8M458.4 58.3h0.8M462.0 61.9h0.8M456.7 46.3h0.8M456.8 62.9h0.8M456.4 62.3h0.8M459.0 54.9h0.8M467.3 69.0h0.8M460.4 59.7h0.8M466.2 52.8h0.8M456.3 66.1h0.8M465.9 57.3h0.8M456.8 61.9h0.8M453.4 57.3h0.8M459.7 46.6h0.8" stroke="#6478b8" stroke-width="0.8" stroke-opacity="0.85" fill="none"/>
<path d="M461.0 62.4h0.8M462.7 52.6h0.8M454.6 55.4h0.8M454.5 68.1h0.8M455.6 57.6h0.8M459.7 61.0h0.8M464.0 54.1h0.8M462.0 59.7h0.8M454.9 59.7h0.8M454.1 66.2h0.8M456.5 63.5h0.8M463.5 56.2h0.8M455.9 59.6h0.8M455.4 63.0h0.8M459.6 55.6h0.8M456.6 62.2h0.8M454.0 66.5h0.8M456.3 58.1h0.8M455.8 66.3h0.8M461.9 64.8h0.8M461.3 59.4h0.8M464.9 62.0h0.8M460.5 61.6h0.8M461.6 60.2h0.8M458.4 51.9h0.8M466.2 53.2h0.8M465.7 64.5h0.8M456.9 60.2h0.8M458.9 50.1h0.8M457.8 60.3h0.8M463.1 53.6h0.8M460.2 59.4h0.8M459.5 59.7h0.8M457.7 52.9h0.8M460.6 60.7h0.8M461.0 64.6h0.8M454.7 48.5h0.8M452.8 68.6h0.8M455.8 60.8h0.8M458.9 62.3h0.8M458.4 56.3h0.8M459.9 61.3h0.8M455.6 64.9h0.8M463.0 61.0h0.8M458.6 57.9h0.8M453.2 62.0h0.8M455.6 56.7h0.8M462.5 54.9h0.8M457.2 62.9h0.8M465.5 55.9h0.8M462.9 56.1h0.8M460.4 61.2h0.8M455.0 63.6h0.8M465.3 59.2h0.8M459.9 53.7h0.8M465.3 59.3h0.8M454.5 62.4h0.8M453.9 55.9h0.8M466.7 56.1h0.8M456.7 56.4h0.8M457.0 61.5h0.8M464.1 54.5h0.8M460.5 50.9h0.8M464.3 58.6h0.8M456.5 65.9h0.8M458.6 65.2h0.8M462.8 66.5h0.8M456.2 59.3h0.8M460.3 58.1h0.8M464.3 55.8h0.8M462.5 65.1h0.8M452.2 54.6h0.8M455.8 56.5h0.8M460.4 58.2h0.8M459.3 56.9h0.8M458.7 61.2h0.8M461.6 55.5h0.8M458.6 55.6h0.8M458.4 52.5h0.8M462.3 62.0h0.8M458.6 55.9h0.8M457.4 56.0h0.8M453.6 66.3h0.8M454.9 61.6h0.8M461.1 51.9h0.8M452.3 61.4h0.8M452.0 65.4h0.8M457.3 59.4h0.8M459.0 56.5h0.8M458.5 57.7h0.8M463.4 58.6h0.8M458.9 56.6h0.8M456.8 55.7h0.8M459.0 67.3h0.8M462.9 60.1h0.8M464.8 63.6h0.8M459.7 58.3h0.8M455.2 60.1h0.8M457.9 51.9h0.8M454.5 67.7h0.8M459.8 61.2h0.8M459.7 56.9h0.8M460.6 63.9h0.8M457.9 61.3h0.8M462.6 56.8h0.8M459.6 55.7h0.8M461.1 57.3h0.8M463.0 55.6h0.8M464.9 57.6h0.8M456.1 54.9h0.8M461.3 55.1h0.8M465.3 64.8h0.8M460.8 52.6h0.8M458.9 55.7h0.8M452.7 60.9h0.8M466.7 56.6h0.8M461.8 64.8h0.8M455.6 57.5h0.8M459.9 61.1h0.8M455.0 60.0h0.8M458.6 63.3h0.8M453.4 56.5h0.8M457.2 57.6h0.8M461.5 56.2h0.8M468.6 55.8h0.8M461.9 63.6h0.8M462.4 58.1h0.8M456.1 57.9h0.8M461.3 59.5h0.8M461.0 61.6h0.8M455.9 54.8h0.8M464.0 56.8h0.8M453.5 67.4h0.8M456.1 54.8h0.8M462.4 53.9h0.8M456.0 63.7h0.8M456.1 70.3h0.8M459.5 59.2h0.8M456.8 58.0h0.8M457.2 58.9h0.8M461.7 53.3h0.8M455.8 49.6h0.8M464.3 58.7h0.8M459.0 58.7h0.8M462.5 60.4h0.8M462.0 58.2h0.8M458.6 58.7h0.8M452.5 63.9h0.8M453.5 54.5h0.8M461.3 59.2h0.8M461.8 66.7h0.8M465.5 65.2h0.8M458.2 68.2h0.8M455.9 58.6h0.8M462.5 58.0h0.8M458.6 57.4h0.8M463.8 47.9h0.8M463.5 63.8h0.8M458.7 61.5h0.8M455.6 64.0h0.8M469.7 54.9h0.8M463.9 58.7h0.8M457.8 56.8h0.8M458.3 53.4h0.8M454.2 66.5h0.8M458.9 61.5h0.8M460.1 61.1h0.8M453.7 54.7h0.8M461.2 63.5h0.8M455.0 56.4h0.8M455.3 61.9h0.8M460.2 59.1h0.8M456.7 60.5h0.8M459.1 55.7h0.8M460.2 56.0h0.8M462.3 61.8h0.8M456.6 61.6h0.8M459.2 55.8h0.8M455.8 51.5h0.8M455.0 60.6h0.8M463.2 56.2h0.8M459.6 60.5h0.8M461.7 61.0h0.8M463.3 62.4h0.8M456.3 60.8h0.8M459.1 61.6h0.8M457.9 62.7h0.8M463.6 55.2h0.8M457.1 60.2h0.8M460.7 59.6h0.8M461.9 53.7h0.8M461.7 64.2h0.8M462.9 60.9h0.8M458.2 60.8h0.8M458.7 51.9h0.8M456.9 58.8h0.8M457.2 54.8h0.8M458.2 57.3h0.8M459.2 58.8h0.8M459.6 63.5h0.8M459.5 60.8h0.8M457.6 62.0h0.8M457.8 56.2h0.8M454.7 63.0h0.8M457.2 60.1h0.8M463.0 61.4h0.8M466.9 58.4h0.8M462.3 62.1h0.8M456.7 59.2h0.8M457.0 54.4h0.8M460.0 55.5h0.8M464.9 55.7h0.8M457.1 59.4h0.8M457.2 59.2h0.8M456.9 52.6h0.8M464.3 61.0h0.8M459.5 56.9h0.8M458.5 60.3h0.8M454.1 55.4h0.8M455.9 64.7h0.8" stroke="#55688e" stroke-width="0.8" stroke-opacity="0.85" fill="none"/>
<text x="439" y="41" font-size="6.3" fill="#222" textLength="38.4" lengthAdjust="spacingAndGlyphs">IGSF9<tspan font-size="4.6" baseline-shift="2.3">+</tspan><tspan> 71.90</tspan></text>
<text x="471" y="83.5" font-size="2.9" text-anchor="middle" font-weight="normal" fill="#555" textLength="56" lengthAdjust="spacingAndGlyphs" class="t">Comp-APC-A, Comp-PerCP-Cy5-5-A subset</text>
<text x="471" y="87.8" font-size="2.9" text-anchor="middle" font-weight="normal" fill="#777" class="t">71.9</text>
<path d="M301.9 171.4h0.7M300.4 179.3h0.7M303.0 150.1h0.7M297.5 171.8h0.7M309.8 169.1h0.7M298.5 176.2h0.7M307.5 153.5h0.7M302.1 170.1h0.7M296.1 151.3h0.7M301.7 176.2h0.7M311.9 159.5h0.7M310.5 173.6h0.7M309.8 167.6h0.7M311.5 169.3h0.7M311.2 167.0h0.7M299.1 165.6h0.7M303.7 160.1h0.7M302.0 165.3h0.7M305.4 156.7h0.7M300.4 165.1h0.7M304.1 162.6h0.7M306.6 155.6h0.7M304.5 158.3h0.7M308.3 171.1h0.7M308.5 165.5h0.7M300.0 177.8h0.7M304.2 161.3h0.7M300.6 162.1h0.7M307.3 174.6h0.7M303.7 171.9h0.7M299.4 163.6h0.7M301.7 159.2h0.7M301.8 172.6h0.7M307.7 156.2h0.7M299.7 173.5h0.7M306.5 170.3h0.7M306.2 170.8h0.7M300.4 151.8h0.7M301.8 151.0h0.7M311.4 165.7h0.7M306.7 179.0h0.7M308.9 156.9h0.7M301.4 153.3h0.7M308.7 172.1h0.7M303.8 161.1h0.7M300.3 164.6h0.7M307.4 176.9h0.7M309.6 176.0h0.7M303.0 162.6h0.7M301.0 179.2h0.7M298.9 154.7h0.7M300.5 177.7h0.7M309.6 159.9h0.7M309.6 176.7h0.7M302.8 155.8h0.7M308.4 161.2h0.7M297.9 177.1h0.7M303.0 161.9h0.7M305.5 157.7h0.7M296.3 161.7h0.7M302.1 150.3h0.7M301.9 172.8h0.7M301.3 170.4h0.7M306.0 155.7h0.7M296.3 170.2h0.7M305.8 158.8h0.7M299.2 175.7h0.7M310.5 157.0h0.7M305.4 167.2h0.7M301.2 151.1h0.7M301.2 169.3h0.7M305.6 165.3h0.7M298.0 156.4h0.7M301.0 162.5h0.7M301.8 177.1h0.7M297.9 179.6h0.7M299.8 175.7h0.7M299.9 167.6h0.7M302.0 151.1h0.7M308.7 174.3h0.7M300.3 173.3h0.7M303.7 179.6h0.7M296.9 161.4h0.7M299.6 168.7h0.7M308.4 175.3h0.7M304.8 161.6h0.7M308.8 153.1h0.7M300.2 172.6h0.7M303.0 179.8h0.7M297.5 163.9h0.7M299.4 150.1h0.7M297.5 152.7h0.7M301.9 163.0h0.7M304.1 158.7h0.7M307.2 165.5h0.7M311.7 155.1h0.7M304.2 164.8h0.7M301.9 175.8h0.7M299.4 176.3h0.7M301.7 160.1h0.7M305.8 166.9h0.7M300.5 152.5h0.7M311.3 161.1h0.7M297.8 169.7h0.7M304.5 159.8h0.7M301.3 175.4h0.7M301.4 162.5h0.7M311.3 160.8h0.7M302.4 154.9h0.7M306.6 169.9h0.7M303.1 162.2h0.7M299.7 173.7h0.7M303.3 175.0h0.7M302.0 172.0h0.7M296.5 156.6h0.7M311.4 170.5h0.7M306.8 164.9h0.7M303.6 155.9h0.7M298.8 169.4h0.7M307.1 157.8h0.7M306.3 154.1h0.7M305.8 155.1h0.7M304.2 159.4h0.7M304.8 154.0h0.7M303.7 168.5h0.7M298.2 159.3h0.7M306.9 166.4h0.7M305.9 173.4h0.7M305.1 156.7h0.7M303.1 174.9h0.7M305.1 172.6h0.7M301.8 163.5h0.7M311.5 174.7h0.7M306.4 153.2h0.7M305.8 151.0h0.7M310.9 179.2h0.7M307.6 158.0h0.7M309.5 155.3h0.7M309.2 165.6h0.7M296.3 176.7h0.7" stroke="#a8acd8" stroke-width="0.7" stroke-opacity="0.8" fill="none"/>
<path d="M298.0 163.5h0.7M303.1 154.3h0.7M306.7 157.4h0.7M307.9 157.3h0.7M308.6 160.7h0.7M306.4 160.8h0.7M303.6 158.2h0.7M306.8 163.5h0.7M303.4 171.1h0.7M311.7 154.3h0.7M309.3 159.7h0.7M305.9 156.1h0.7M311.5 155.9h0.7M304.7 156.4h0.7M312.6 166.2h0.7M299.8 157.8h0.7M306.4 157.9h0.7M303.6 154.7h0.7M306.0 154.6h0.7M308.3 171.8h0.7M303.7 168.1h0.7M306.5 156.7h0.7M303.6 155.3h0.7M305.5 163.5h0.7M308.7 158.6h0.7M300.3 159.6h0.7M311.6 161.4h0.7M304.8 149.8h0.7M303.3 162.7h0.7M301.3 166.6h0.7M302.8 155.7h0.7M302.7 159.6h0.7M308.9 157.2h0.7M298.0 159.6h0.7M307.1 167.6h0.7M300.6 167.3h0.7M307.7 162.2h0.7M302.0 155.7h0.7M301.2 164.6h0.7M305.9 165.3h0.7M312.2 160.1h0.7M304.8 169.4h0.7M299.9 157.8h0.7M303.5 158.2h0.7M305.6 155.9h0.7M309.6 153.3h0.7M301.8 151.7h0.7M299.5 162.9h0.7M307.5 159.1h0.7M308.3 163.0h0.7M302.7 159.8h0.7M306.4 169.9h0.7M303.3 161.8h0.7M307.1 166.0h0.7M306.7 165.3h0.7M300.8 158.7h0.7M297.4 159.8h0.7M305.4 161.3h0.7M305.6 153.5h0.7M302.3 159.2h0.7M305.7 155.8h0.7M304.6 156.4h0.7M299.8 156.8h0.7M301.8 164.1h0.7M310.3 162.9h0.7M304.2 157.3h0.7M298.8 157.5h0.7M311.2 165.7h0.7M305.9 158.8h0.7M305.0 162.1h0.7M305.0 162.1h0.7M302.0 160.3h0.7M303.6 165.3h0.7M300.1 166.4h0.7M304.7 157.6h0.7M305.1 160.6h0.7M304.1 162.1h0.7M302.7 151.8h0.7M307.7 159.9h0.7M311.5 161.9h0.7M297.1 166.1h0.7M302.3 162.7h0.7M300.7 159.6h0.7M298.7 163.3h0.7M307.2 155.0h0.7M306.8 164.6h0.7M308.2 156.8h0.7M302.3 154.6h0.7M299.9 161.6h0.7M305.2 166.4h0.7M306.1 158.5h0.7M299.4 167.6h0.7M305.6 159.9h0.7M301.1 154.9h0.7M307.5 155.3h0.7M307.3 163.1h0.7M303.5 152.1h0.7M306.6 166.9h0.7M301.8 153.9h0.7M309.3 160.7h0.7M302.6 166.0h0.7M303.9 162.2h0.7M303.4 156.4h0.7M305.9 155.9h0.7M298.0 157.4h0.7M309.8 165.4h0.7M311.3 161.3h0.7M303.3 162.3h0.7M301.3 163.6h0.7M303.2 161.3h0.7M301.7 159.4h0.7M308.8 159.0h0.7M302.4 161.4h0.7M308.5 159.1h0.7M300.4 152.5h0.7M299.7 165.2h0.7M304.7 162.4h0.7M309.2 161.4h0.7M306.9 157.6h0.7M298.7 163.1h0.7" stroke="#9aa0d0" stroke-width="0.7" stroke-opacity="0.8" fill="none"/>
<g filter="url(#b1)"><rect x="313.5" y="151" width="22" height="29" rx="4" fill="#5868c0" fill-opacity="0.55"/>
<ellipse cx="324" cy="172" rx="5.5" ry="6" fill="#3a90b0" fill-opacity="0.6"/></g>
<path d="M323.4 170.5h0.8M317.7 165.0h0.8M335.9 159.6h0.8M324.6 176.2h0.8M322.6 167.1h0.8M321.4 176.0h0.8M323.5 163.2h0.8M326.6 164.2h0.8M321.0 178.0h0.8M329.8 166.9h0.8M328.8 172.5h0.8M327.4 166.5h0.8M324.4 169.2h0.8M327.3 168.8h0.8M320.8 165.5h0.8M326.7 158.5h0.8M323.9 171.9h0.8M325.0 163.9h0.8M323.9 162.4h0.8M329.8 163.2h0.8M314.2 156.8h0.8M325.8 167.7h0.8M321.2 156.0h0.8M323.1 159.7h0.8M320.1 166.1h0.8M319.5 168.5h0.8M319.7 162.5h0.8M322.7 177.3h0.8M333.3 173.4h0.8M319.7 166.2h0.8M329.4 172.3h0.8M314.4 165.7h0.8M319.7 171.9h0.8M327.7 162.0h0.8M336.6 164.0h0.8M323.5 180.7h0.8M320.9 162.5h0.8M332.7 165.8h0.8M326.8 156.5h0.8M334.5 173.6h0.8M326.1 171.5h0.8M321.1 162.5h0.8M314.8 168.9h0.8M331.3 172.7h0.8M329.4 171.5h0.8M318.6 156.2h0.8M327.8 167.4h0.8M329.8 164.0h0.8M318.8 169.5h0.8M320.7 153.6h0.8M320.4 159.4h0.8M317.5 161.9h0.8M334.1 163.0h0.8M330.7 165.6h0.8M326.4 161.0h0.8M323.6 153.3h0.8M334.5 160.3h0.8M327.4 161.7h0.8M325.6 157.2h0.8M321.8 173.1h0.8M327.5 151.3h0.8M329.0 156.1h0.8M325.7 170.1h0.8M320.2 163.7h0.8M322.6 169.2h0.8M329.4 176.5h0.8M318.4 179.7h0.8M322.5 172.0h0.8M323.3 166.8h0.8M318.6 169.1h0.8M335.9 167.3h0.8M323.9 166.2h0.8M328.2 164.6h0.8M324.0 167.8h0.8M331.7 173.4h0.8M317.8 161.3h0.8M324.1 172.6h0.8M329.7 164.6h0.8M336.5 164.9h0.8M332.3 177.0h0.8M333.4 167.7h0.8M327.4 154.5h0.8M313.5 161.5h0.8M328.2 174.2h0.8M323.4 174.0h0.8M327.4 177.7h0.8M314.7 159.8h0.8M318.4 158.2h0.8M333.7 159.1h0.8M319.1 163.1h0.8M329.2 162.6h0.8M328.3 170.3h0.8M318.6 156.7h0.8M333.6 160.7h0.8M317.7 169.0h0.8M324.3 159.0h0.8M330.4 173.1h0.8M325.6 160.4h0.8M318.9 150.5h0.8M326.3 169.1h0.8M318.6 166.3h0.8M314.0 170.8h0.8M321.5 162.4h0.8M327.7 165.1h0.8M329.8 170.0h0.8M330.8 167.0h0.8M314.0 174.0h0.8M325.5 155.6h0.8M324.4 172.8h0.8M318.0 166.4h0.8M319.7 158.5h0.8M320.4 175.8h0.8M328.0 165.9h0.8M323.5 167.1h0.8M325.7 167.5h0.8M313.9 173.1h0.8M328.1 156.9h0.8M323.2 165.4h0.8M320.5 170.2h0.8M322.4 164.0h0.8M318.4 164.0h0.8M317.9 166.4h0.8M331.8 173.8h0.8M326.5 155.7h0.8M330.1 173.2h0.8M324.1 163.6h0.8M330.4 157.8h0.8M329.9 150.9h0.8M324.1 176.5h0.8M320.4 170.6h0.8M324.6 155.0h0.8M320.3 174.7h0.8M331.0 161.5h0.8M330.6 160.7h0.8M325.5 165.9h0.8M316.6 168.5h0.8M319.1 159.6h0.8M319.1 158.6h0.8M329.3 166.6h0.8M325.5 164.0h0.8M324.4 164.1h0.8M317.6 154.5h0.8M324.4 173.8h0.8M325.4 178.4h0.8M315.9 164.0h0.8M320.4 175.5h0.8M334.0 162.1h0.8M328.3 164.2h0.8M318.1 165.2h0.8M317.9 177.9h0.8M327.5 175.1h0.8M328.7 166.7h0.8M330.0 179.1h0.8M318.0 172.1h0.8M326.0 164.7h0.8M322.3 170.1h0.8M327.4 171.1h0.8M321.6 156.0h0.8M331.8 176.0h0.8M320.7 165.8h0.8M328.8 152.6h0.8M325.6 160.6h0.8M336.1 166.1h0.8M325.3 162.8h0.8M325.1 152.3h0.8M316.4 154.7h0.8M329.3 165.3h0.8M330.8 150.4h0.8M320.5 177.2h0.8M319.3 151.8h0.8M319.6 163.4h0.8M323.9 176.0h0.8M331.8 177.9h0.8M327.4 162.2h0.8M321.1 154.7h0.8M331.5 175.6h0.8M324.5 159.2h0.8M328.0 169.8h0.8M324.9 157.1h0.8M325.4 161.7h0.8M328.4 170.6h0.8M326.6 162.7h0.8M333.0 172.0h0.8M331.5 172.4h0.8M327.9 169.0h0.8M317.7 152.1h0.8M318.5 170.7h0.8M329.4 167.4h0.8M324.5 180.1h0.8M321.7 152.3h0.8M314.9 163.5h0.8M328.1 171.7h0.8M322.7 172.3h0.8M323.7 160.5h0.8M321.8 171.8h0.8M329.6 157.4h0.8M318.2 166.9h0.8M336.5 157.0h0.8M316.6 169.2h0.8M327.0 161.3h0.8M323.8 169.7h0.8M313.7 165.8h0.8M327.5 173.1h0.8M330.9 165.5h0.8M315.5 176.3h0.8M328.5 161.1h0.8M330.1 174.0h0.8M321.2 160.2h0.8M319.1 165.4h0.8M317.6 169.0h0.8M335.1 156.9h0.8M330.1 161.9h0.8M327.2 165.0h0.8M331.5 160.6h0.8M328.3 160.1h0.8M325.3 165.9h0.8M330.4 153.9h0.8M316.1 176.7h0.8M326.3 179.0h0.8M317.9 167.6h0.8M327.5 179.6h0.8M323.7 162.6h0.8M328.2 165.2h0.8M319.6 171.8h0.8M312.8 158.2h0.8M332.0 162.2h0.8M322.1 168.9h0.8M330.6 170.1h0.8M318.3 161.6h0.8M330.2 165.1h0.8M320.3 172.7h0.8M317.7 160.6h0.8M319.9 168.7h0.8M321.2 174.6h0.8M320.2 163.9h0.8M327.3 167.6h0.8M318.1 177.5h0.8M327.4 162.2h0.8M325.2 157.5h0.8M316.8 163.7h0.8M326.1 166.8h0.8M319.5 155.4h0.8M314.2 178.3h0.8M326.2 159.9h0.8M331.0 170.1h0.8M321.6 161.3h0.8M330.7 168.5h0.8M333.6 168.8h0.8M320.6 161.4h0.8M319.9 167.9h0.8M325.5 170.7h0.8M326.6 157.9h0.8M322.8 158.8h0.8M326.8 155.9h0.8M320.6 159.4h0.8M320.4 164.0h0.8M332.8 164.0h0.8M315.6 163.7h0.8M328.4 170.2h0.8M330.5 166.7h0.8M331.1 155.7h0.8M323.0 159.4h0.8M325.0 178.4h0.8M321.1 178.2h0.8M318.0 176.9h0.8M314.1 159.5h0.8M329.8 165.3h0.8M324.8 165.9h0.8M325.1 164.6h0.8M318.3 163.8h0.8M324.6 159.1h0.8M326.7 179.5h0.8M314.4 161.8h0.8M322.4 166.1h0.8M324.6 160.4h0.8M323.8 166.0h0.8M323.5 177.8h0.8M324.8 154.7h0.8M314.9 170.5h0.8M322.0 161.3h0.8M316.1 163.6h0.8M323.5 160.7h0.8M322.0 172.8h0.8M328.6 170.2h0.8M323.0 155.6h0.8M328.5 177.5h0.8M331.4 174.9h0.8M325.6 168.9h0.8M323.9 175.6h0.8M328.5 163.5h0.8M324.0 153.7h0.8M319.7 163.7h0.8M329.4 166.6h0.8M322.3 170.8h0.8M335.3 168.3h0.8M323.6 167.2h0.8M327.9 162.2h0.8M324.7 169.9h0.8M322.0 169.0h0.8M325.9 171.5h0.8M318.3 161.9h0.8M321.5 175.2h0.8M325.5 153.3h0.8M316.6 180.9h0.8M326.0 156.1h0.8M318.7 167.1h0.8M332.3 178.4h0.8M321.9 163.7h0.8M335.2 158.5h0.8M333.1 168.6h0.8M324.6 175.9h0.8M326.8 159.6h0.8M315.1 166.1h0.8M327.0 176.5h0.8M327.6 177.7h0.8M328.6 167.6h0.8M326.5 169.1h0.8M320.3 165.1h0.8M324.7 162.5h0.8M315.5 154.9h0.8M326.9 170.0h0.8M324.6 157.0h0.8M329.0 163.0h0.8M327.1 162.6h0.8M332.6 176.5h0.8M325.5 152.8h0.8M321.8 163.8h0.8M326.7 165.0h0.8M326.0 153.5h0.8M320.3 177.1h0.8M315.5 173.1h0.8M315.9 175.6h0.8M313.2 168.6h0.8M321.6 175.5h0.8M330.9 167.5h0.8M334.4 173.6h0.8M321.2 158.4h0.8M326.4 165.1h0.8M321.2 153.6h0.8M323.2 165.1h0.8M329.7 162.0h0.8M314.9 157.7h0.8M323.8 167.9h0.8M328.2 163.1h0.8M327.1 167.1h0.8M333.8 165.6h0.8M324.8 170.4h0.8M331.1 158.9h0.8M321.2 163.9h0.8M330.3 166.2h0.8M335.8 178.1h0.8M329.3 155.1h0.8M332.9 169.2h0.8M317.0 166.4h0.8M328.4 173.6h0.8M325.0 162.0h0.8M328.5 160.1h0.8M323.6 171.9h0.8M315.6 168.9h0.8M316.8 165.3h0.8M328.2 165.6h0.8M329.3 166.7h0.8M322.8 169.8h0.8M322.6 167.0h0.8M330.1 161.6h0.8M330.7 157.5h0.8M322.7 152.6h0.8M320.9 178.3h0.8M326.1 175.8h0.8M315.4 158.2h0.8M326.7 172.4h0.8M328.9 153.1h0.8M327.0 165.4h0.8M324.7 169.7h0.8M322.4 152.9h0.8M317.8 154.8h0.8M316.3 165.0h0.8M331.6 160.5h0.8M319.5 157.1h0.8M313.9 166.5h0.8M321.2 164.1h0.8M318.4 169.8h0.8M317.0 170.2h0.8M320.1 172.1h0.8M318.8 169.4h0.8M326.6 165.4h0.8M333.5 167.4h0.8M318.8 171.3h0.8M319.2 161.8h0.8M324.1 167.4h0.8M334.0 152.5h0.8M322.5 174.7h0.8M323.1 168.5h0.8M332.9 156.5h0.8M324.3 172.1h0.8M320.6 152.5h0.8M318.2 167.5h0.8M325.1 180.2h0.8M331.8 154.0h0.8M330.1 173.1h0.8M333.5 164.8h0.8M320.7 167.1h0.8M333.0 170.8h0.8M333.9 172.1h0.8M320.6 158.2h0.8M334.8 154.3h0.8M322.0 163.5h0.8M318.7 161.6h0.8M323.6 162.0h0.8M324.7 173.3h0.8M319.2 162.9h0.8M313.8 171.4h0.8M328.0 177.6h0.8M329.1 163.9h0.8M321.7 163.6h0.8M316.9 172.0h0.8M320.4 160.4h0.8M327.0 166.9h0.8M320.6 164.2h0.8M321.1 176.4h0.8M329.9 160.4h0.8M323.8 176.6h0.8M322.3 179.8h0.8M326.6 171.2h0.8M326.0 170.5h0.8M326.8 170.1h0.8M321.0 173.0h0.8M324.4 157.9h0.8M318.0 167.3h0.8M315.0 164.1h0.8M320.5 170.3h0.8M332.2 178.5h0.8M318.1 175.6h0.8M316.9 168.4h0.8M325.0 170.8h0.8M319.3 176.4h0.8M323.6 165.9h0.8M322.4 157.7h0.8M328.2 168.6h0.8M326.7 180.5h0.8M318.9 163.8h0.8M324.0 172.6h0.8M323.0 173.2h0.8M326.7 152.4h0.8M320.0 150.2h0.8M322.3 162.8h0.8M327.5 167.3h0.8M323.6 175.8h0.8M327.5 156.4h0.8M320.0 168.5h0.8M334.0 164.5h0.8M323.0 168.1h0.8M328.6 165.3h0.8M325.7 162.7h0.8M320.8 159.8h0.8M327.9 161.7h0.8M327.2 169.2h0.8M318.3 156.5h0.8M323.0 172.3h0.8M332.0 169.0h0.8M321.7 170.2h0.8M324.1 170.8h0.8M318.0 157.5h0.8M320.2 165.7h0.8M326.0 163.2h0.8M326.0 171.3h0.8M317.2 165.2h0.8M314.9 161.7h0.8M329.3 160.4h0.8M334.9 169.9h0.8M329.2 166.8h0.8M329.1 174.5h0.8M324.6 161.9h0.8M322.9 162.4h0.8M319.9 152.9h0.8M321.1 168.5h0.8M321.2 160.1h0.8M326.4 169.6h0.8M321.4 168.4h0.8M318.3 172.7h0.8M318.2 163.4h0.8M324.8 162.7h0.8M332.9 152.4h0.8M324.7 156.1h0.8M325.8 155.9h0.8M327.4 170.1h0.8M334.0 175.4h0.8M321.3 173.4h0.8M321.3 165.1h0.8M321.1 152.3h0.8M327.5 150.2h0.8M322.6 170.1h0.8M324.7 153.7h0.8M320.2 171.3h0.8M330.4 178.4h0.8M313.4 169.6h0.8M321.2 172.0h0.8M314.1 164.9h0.8M328.1 161.0h0.8M321.9 158.4h0.8M330.5 155.7h0.8M318.6 163.4h0.8M325.6 159.5h0.8M327.4 168.7h0.8M325.7 165.5h0.8M326.7 156.9h0.8M317.0 162.7h0.8M317.5 171.5h0.8M335.4 175.6h0.8M326.6 168.6h0.8M320.0 155.9h0.8M327.2 154.5h0.8M325.8 164.9h0.8M328.4 166.4h0.8M324.6 161.5h0.8M313.9 163.3h0.8M328.1 174.1h0.8M332.1 158.2h0.8M318.5 171.5h0.8M325.8 154.2h0.8M320.7 178.2h0.8M313.3 167.2h0.8M315.9 178.5h0.8M321.4 158.0h0.8M314.0 160.4h0.8M336.8 166.8h0.8M322.4 157.0h0.8M326.0 162.3h0.8M319.0 176.8h0.8M326.6 159.1h0.8M332.7 165.6h0.8M327.0 167.2h0.8M330.9 170.8h0.8M322.0 171.6h0.8M321.7 167.0h0.8M333.6 157.7h0.8M317.9 162.9h0.8M321.1 176.1h0.8M333.3 162.5h0.8M325.1 163.2h0.8M327.9 171.2h0.8M328.4 172.0h0.8M335.3 164.7h0.8M328.1 164.5h0.8M324.2 167.7h0.8M323.7 168.7h0.8M319.0 164.8h0.8M320.5 156.9h0.8M319.9 162.1h0.8M323.1 153.8h0.8M322.5 157.2h0.8M319.2 167.5h0.8M330.5 168.2h0.8M321.1 162.6h0.8M331.9 153.3h0.8M330.7 154.3h0.8M320.3 166.4h0.8M322.7 179.0h0.8M326.9 165.6h0.8M329.6 166.3h0.8M319.3 174.8h0.8M332.8 176.0h0.8M317.1 180.9h0.8M321.6 172.0h0.8M314.5 158.0h0.8M330.9 169.9h0.8M326.6 164.5h0.8M324.0 167.8h0.8M328.4 163.9h0.8M318.7 163.2h0.8M335.6 160.6h0.8M323.5 180.8h0.8M330.2 167.0h0.8M328.3 163.9h0.8M318.7 173.8h0.8M324.8 178.5h0.8M322.5 163.1h0.8M326.0 164.5h0.8M322.2 159.0h0.8M325.5 168.5h0.8M334.8 165.8h0.8M313.7 169.6h0.8M319.3 164.7h0.8M322.9 154.2h0.8M327.4 159.2h0.8M313.1 160.4h0.8M331.4 167.5h0.8M321.0 164.0h0.8M329.7 161.9h0.8M326.5 173.6h0.8M318.7 161.4h0.8M326.6 166.1h0.8M323.3 161.9h0.8M323.6 180.5h0.8M332.0 153.4h0.8M324.3 166.7h0.8M324.2 155.2h0.8M323.2 167.2h0.8M320.0 168.5h0.8M324.6 169.1h0.8M323.0 162.4h0.8M325.1 174.5h0.8M329.3 165.4h0.8M321.3 174.3h0.8M327.2 172.9h0.8M322.4 159.3h0.8M325.1 161.1h0.8M330.8 172.7h0.8M331.8 174.1h0.8M321.2 159.3h0.8M329.7 173.9h0.8M324.4 157.0h0.8M315.0 168.1h0.8M319.1 160.7h0.8M326.6 174.2h0.8M331.7 165.7h0.8M322.0 171.0h0.8M317.3 156.4h0.8M324.1 178.2h0.8M330.0 166.0h0.8M330.0 162.8h0.8M317.1 152.9h0.8M325.6 173.1h0.8M326.2 165.7h0.8M321.6 174.5h0.8M323.7 154.7h0.8M332.1 160.9h0.8M326.3 166.0h0.8M330.2 167.9h0.8M331.2 167.7h0.8M321.3 162.0h0.8M327.8 159.5h0.8M329.5 164.1h0.8M318.5 159.2h0.8M323.1 179.9h0.8M328.5 166.2h0.8M318.7 180.9h0.8M322.4 166.0h0.8M321.5 176.5h0.8M325.0 162.4h0.8M325.1 158.2h0.8M317.8 164.7h0.8M335.7 157.3h0.8M323.2 153.6h0.8M325.0 167.7h0.8M328.4 155.5h0.8M320.5 160.9h0.8M322.8 165.7h0.8M321.0 172.2h0.8M333.0 157.6h0.8M330.2 166.2h0.8M331.4 174.3h0.8M327.9 152.9h0.8M324.8 162.1h0.8M326.6 166.3h0.8M330.2 153.4h0.8M319.6 165.4h0.8M325.9 162.8h0.8M323.8 166.4h0.8M330.2 165.1h0.8M325.4 151.7h0.8M326.4 165.2h0.8M324.0 160.3h0.8M321.5 172.5h0.8M326.1 165.8h0.8M321.1 167.7h0.8M331.0 165.8h0.8M321.8 156.7h0.8M324.6 158.8h0.8M315.5 172.8h0.8M320.3 150.0h0.8M319.8 180.5h0.8M323.4 155.6h0.8M317.5 171.6h0.8M326.4 167.7h0.8M322.8 169.8h0.8M333.1 169.8h0.8M323.0 155.0h0.8M326.6 178.3h0.8M327.8 156.1h0.8M325.1 176.2h0.8M320.3 169.9h0.8M331.1 178.9h0.8M314.6 152.3h0.8M326.2 171.5h0.8M321.9 165.8h0.8M321.6 175.4h0.8M316.4 160.7h0.8M314.9 158.8h0.8M323.9 166.2h0.8M334.6 164.3h0.8M326.0 168.8h0.8M325.5 177.5h0.8M324.8 167.2h0.8M323.3 166.0h0.8M323.7 173.8h0.8M324.1 166.5h0.8M323.7 172.0h0.8M321.2 173.4h0.8M320.6 171.5h0.8M335.4 167.8h0.8M323.5 156.7h0.8M328.4 166.1h0.8M329.4 160.8h0.8M327.1 180.2h0.8M326.4 163.4h0.8M316.3 165.9h0.8M327.9 170.7h0.8M317.4 157.9h0.8M318.2 158.0h0.8M322.4 168.1h0.8M335.4 167.5h0.8M332.6 153.0h0.8M333.1 172.3h0.8M326.6 172.5h0.8M328.8 152.3h0.8M313.7 178.7h0.8M323.5 176.4h0.8M322.0 160.8h0.8M322.0 168.5h0.8M325.1 161.1h0.8M327.2 170.9h0.8M318.6 157.2h0.8M324.1 160.5h0.8M320.4 164.9h0.8M324.2 170.5h0.8M328.9 169.5h0.8M330.6 158.4h0.8M327.6 168.9h0.8M317.8 160.7h0.8M326.6 166.6h0.8M316.6 161.6h0.8M333.0 172.7h0.8M324.5 176.7h0.8M318.6 164.6h0.8M329.7 163.3h0.8M317.4 170.6h0.8M324.9 156.1h0.8M322.2 154.8h0.8M324.3 160.4h0.8M318.1 162.4h0.8M325.2 179.9h0.8M325.7 178.4h0.8M317.7 166.6h0.8M321.4 153.6h0.8M325.4 160.0h0.8M320.6 157.8h0.8M330.1 162.8h0.8M323.1 167.4h0.8M316.7 167.8h0.8" stroke="#4a5ec0" stroke-width="0.8" stroke-opacity="0.75" fill="none"/>
<path d="M323.2 173.2h0.8M322.3 171.2h0.8M326.3 175.8h0.8M320.9 175.8h0.8M319.6 170.1h0.8M324.6 171.7h0.8M323.2 175.6h0.8M320.9 178.5h0.8M316.0 171.4h0.8M326.4 171.1h0.8M325.2 175.6h0.8M320.4 173.9h0.8M328.7 169.8h0.8M313.7 165.1h0.8M320.2 165.8h0.8M325.9 167.0h0.8M335.0 173.8h0.8M318.2 169.6h0.8M330.8 174.4h0.8M319.5 176.1h0.8M321.5 173.9h0.8M326.5 168.8h0.8M323.3 176.7h0.8M326.2 170.7h0.8M326.0 179.6h0.8M328.1 173.4h0.8M325.5 163.3h0.8M324.6 168.6h0.8M327.3 168.0h0.8M326.0 165.8h0.8M328.0 167.4h0.8M323.9 173.9h0.8M322.6 171.0h0.8M328.7 179.7h0.8M316.0 166.5h0.8M327.0 175.6h0.8M321.9 171.5h0.8M323.1 165.1h0.8M317.1 164.7h0.8M329.8 169.1h0.8M332.7 174.2h0.8M325.7 174.2h0.8M327.5 175.5h0.8M319.7 168.2h0.8M321.6 171.5h0.8M322.9 164.9h0.8M320.9 179.8h0.8M333.4 166.8h0.8M325.7 170.8h0.8M320.2 174.5h0.8M323.7 179.2h0.8M326.0 169.5h0.8M327.8 167.5h0.8M327.9 174.4h0.8M316.1 170.0h0.8M325.4 174.7h0.8M324.7 170.9h0.8M322.5 169.6h0.8M324.0 165.8h0.8M326.9 169.4h0.8M326.3 168.5h0.8M325.8 171.6h0.8M328.0 173.3h0.8M328.1 170.2h0.8M323.8 169.7h0.8M318.4 170.4h0.8M328.8 174.8h0.8M320.2 172.5h0.8M327.3 164.3h0.8M325.6 172.6h0.8M327.3 172.3h0.8M316.3 161.1h0.8M332.8 169.1h0.8M329.7 177.2h0.8M324.4 165.4h0.8M330.1 170.8h0.8M326.3 173.4h0.8M328.2 176.0h0.8M317.7 164.1h0.8M324.6 171.0h0.8M327.5 170.3h0.8M323.2 181.0h0.8M330.1 176.7h0.8M328.6 167.1h0.8M323.6 170.7h0.8M319.1 166.7h0.8M324.7 165.0h0.8M326.4 173.3h0.8M323.0 169.3h0.8M326.7 173.4h0.8M325.6 165.0h0.8M321.1 169.2h0.8M315.9 167.1h0.8M320.7 174.9h0.8M322.2 168.6h0.8M320.6 168.8h0.8M317.0 172.3h0.8M329.3 171.8h0.8M321.6 177.2h0.8M326.2 165.9h0.8M321.5 168.0h0.8M323.8 177.0h0.8M320.9 170.3h0.8M324.5 165.1h0.8M321.9 174.0h0.8M329.0 161.8h0.8M327.1 169.6h0.8M329.7 174.1h0.8M332.8 172.5h0.8M322.2 166.9h0.8M317.6 173.7h0.8M326.3 175.0h0.8M325.6 163.6h0.8M322.2 169.8h0.8M324.7 174.8h0.8M330.3 172.4h0.8M314.8 166.0h0.8M314.5 167.2h0.8M318.7 172.2h0.8M323.0 176.5h0.8M328.8 168.8h0.8M328.2 171.1h0.8M326.0 177.6h0.8M318.9 170.7h0.8M330.8 167.3h0.8M325.0 171.7h0.8M322.2 164.6h0.8M320.9 166.2h0.8M328.8 172.2h0.8M327.1 165.2h0.8M326.2 171.7h0.8M328.7 167.5h0.8M327.6 177.7h0.8M332.0 166.4h0.8M319.0 163.8h0.8M328.3 173.9h0.8M325.5 166.8h0.8M329.6 178.9h0.8M323.8 170.4h0.8M329.3 173.5h0.8M330.0 169.0h0.8M325.5 169.3h0.8M321.5 169.5h0.8M322.7 173.5h0.8M322.7 171.3h0.8M320.4 165.0h0.8M330.4 166.2h0.8M332.1 175.6h0.8M313.8 167.9h0.8M322.1 171.1h0.8M323.2 168.0h0.8M329.6 170.4h0.8M328.3 167.6h0.8M320.9 177.5h0.8M322.8 165.6h0.8M323.2 176.2h0.8M323.3 167.5h0.8M326.8 175.8h0.8M323.1 169.4h0.8M323.2 179.5h0.8M323.3 173.0h0.8M315.0 171.9h0.8M324.2 169.5h0.8M322.2 164.3h0.8M317.4 171.8h0.8M321.2 170.6h0.8M323.2 168.5h0.8M320.8 180.1h0.8M319.1 168.5h0.8M322.7 165.4h0.8M319.7 175.2h0.8M328.1 171.6h0.8M329.5 167.0h0.8M328.8 179.2h0.8M322.3 179.8h0.8M320.4 165.5h0.8M323.8 167.1h0.8M326.8 165.6h0.8M324.4 161.4h0.8M323.9 176.1h0.8M322.8 172.5h0.8M328.9 165.6h0.8M318.4 171.4h0.8M325.2 169.7h0.8M319.7 176.9h0.8M318.8 169.7h0.8M323.8 174.5h0.8M322.0 167.0h0.8M333.0 166.9h0.8M327.6 170.3h0.8M321.9 170.8h0.8M322.9 172.5h0.8M324.3 166.3h0.8M332.2 174.1h0.8M325.0 169.5h0.8M330.2 168.8h0.8M320.4 174.4h0.8M319.7 167.1h0.8M330.4 163.2h0.8M323.7 171.6h0.8M325.2 163.9h0.8M323.0 169.4h0.8M332.6 175.9h0.8M320.7 175.3h0.8M326.9 170.5h0.8M322.9 169.7h0.8M317.2 167.9h0.8M328.2 178.1h0.8M332.3 169.2h0.8M326.8 159.3h0.8M322.8 164.8h0.8M327.7 162.9h0.8M319.4 165.6h0.8M325.8 175.1h0.8M319.9 179.8h0.8M324.7 166.9h0.8M325.6 170.9h0.8M327.7 172.7h0.8M333.7 176.7h0.8M321.2 174.8h0.8M327.4 166.1h0.8M320.7 167.1h0.8M313.1 174.1h0.8M323.1 177.0h0.8M321.5 171.4h0.8M327.2 175.7h0.8M325.4 165.9h0.8M333.8 175.2h0.8M330.1 178.9h0.8M330.3 173.0h0.8M326.1 174.1h0.8M317.3 175.0h0.8M319.7 173.1h0.8M319.5 174.5h0.8M324.9 173.5h0.8M320.0 169.6h0.8M323.8 169.6h0.8M322.1 166.7h0.8M327.4 169.1h0.8M320.4 172.8h0.8M320.4 170.2h0.8M321.8 166.5h0.8M323.0 167.0h0.8M318.5 172.7h0.8M322.7 163.9h0.8M322.3 171.9h0.8M325.9 172.8h0.8M325.2 173.9h0.8M321.8 167.1h0.8M326.8 169.0h0.8" stroke="#3a7fb8" stroke-width="0.8" stroke-opacity="0.85" fill="none"/>
<path d="M324.1 173.9h0.8M326.8 175.6h0.8M322.0 170.9h0.8M325.7 167.8h0.8M320.3 173.8h0.8M322.2 169.3h0.8M326.4 173.6h0.8M326.7 171.0h0.8M323.2 171.0h0.8M324.9 166.1h0.8M322.0 174.1h0.8M321.7 171.8h0.8M324.4 173.5h0.8M322.6 168.7h0.8M331.4 169.9h0.8M329.1 166.9h0.8M324.4 171.4h0.8M329.6 178.0h0.8M326.9 169.0h0.8M321.7 169.8h0.8M322.5 172.8h0.8M321.7 171.3h0.8M328.4 176.2h0.8M318.5 169.2h0.8M322.9 175.8h0.8M323.1 177.6h0.8M325.1 176.2h0.8M321.5 171.1h0.8M327.0 173.7h0.8M318.5 171.2h0.8M324.6 173.8h0.8M322.2 177.1h0.8M324.5 176.2h0.8M325.2 172.2h0.8M323.1 168.6h0.8M326.6 174.2h0.8M326.8 170.9h0.8M321.1 170.9h0.8M323.1 172.0h0.8M326.9 169.3h0.8M322.6 174.0h0.8M326.7 178.4h0.8M325.6 169.5h0.8M321.0 169.7h0.8M324.2 172.7h0.8M323.8 170.2h0.8M323.5 171.8h0.8M325.8 172.2h0.8M321.6 168.6h0.8M328.4 171.8h0.8M323.5 171.9h0.8M327.4 171.1h0.8M324.6 171.3h0.8M325.7 169.1h0.8M324.6 175.0h0.8M327.5 173.8h0.8M324.9 176.6h0.8M326.1 176.1h0.8M320.5 168.8h0.8M326.4 171.2h0.8M322.8 169.2h0.8M328.4 168.5h0.8M324.3 168.0h0.8M323.5 178.5h0.8M331.2 170.6h0.8M321.1 176.7h0.8M321.5 166.8h0.8M325.1 168.9h0.8M319.8 175.3h0.8M321.9 168.9h0.8M324.5 171.5h0.8M327.3 172.3h0.8M328.7 175.3h0.8M329.3 175.3h0.8M324.3 173.6h0.8M324.1 167.5h0.8M320.6 174.2h0.8M317.1 169.6h0.8M320.3 171.8h0.8M321.0 172.7h0.8M323.5 170.6h0.8M321.6 165.6h0.8M324.3 168.3h0.8M323.2 173.1h0.8M327.1 174.0h0.8M328.4 167.9h0.8M326.0 176.6h0.8M325.2 168.8h0.8M325.2 170.5h0.8M322.2 175.1h0.8M323.5 168.8h0.8M322.1 177.7h0.8M321.6 174.0h0.8M324.6 175.4h0.8M323.2 169.3h0.8M322.2 169.0h0.8M331.7 172.6h0.8M323.1 175.7h0.8M326.0 171.5h0.8M325.9 172.8h0.8" stroke="#3aa8b0" stroke-width="0.8" stroke-opacity="1.0" fill="none"/>
<path d="M337.2 176.4h0.7M340.1 151.3h0.7M338.2 165.8h0.7M337.4 159.5h0.7M343.2 163.8h0.7M337.9 168.5h0.7M336.9 166.1h0.7M341.2 152.8h0.7M340.4 159.6h0.7M342.0 169.1h0.7M343.3 168.8h0.7M337.5 155.8h0.7M341.6 175.1h0.7M336.5 162.9h0.7M338.3 164.5h0.7M343.0 167.4h0.7M342.0 173.7h0.7M338.2 169.2h0.7M339.0 164.7h0.7M340.2 170.7h0.7M337.3 176.0h0.7M337.3 159.7h0.7M342.8 180.5h0.7M338.9 179.5h0.7M336.3 179.6h0.7M337.6 151.1h0.7M342.1 155.0h0.7M342.0 150.2h0.7M337.0 161.1h0.7M336.7 164.6h0.7M338.8 172.9h0.7M339.9 179.9h0.7M342.7 155.3h0.7M343.3 177.7h0.7M340.5 166.3h0.7M337.4 160.0h0.7M337.8 156.1h0.7M340.9 160.1h0.7M342.1 167.8h0.7M342.6 152.7h0.7" stroke="#8890d0" stroke-width="0.7" stroke-opacity="1.0" fill="none"/>
<g filter="url(#b2)"><polygon points="290,185 296,181 303,178.5 306,179 304,182 297,185.5 291,187" fill="#68b068"/>
<ellipse cx="301.5" cy="181.3" rx="3" ry="1.4" fill="#d8d030" transform="rotate(-25 301.5 181.3)"/></g>
<path d="M301.9 180.5h0.9M293.8 184.0h0.9M300.9 181.2h0.9M295.0 184.2h0.9M298.6 181.7h0.9M294.4 184.3h0.9M302.7 181.7h0.9M293.8 184.3h0.9M293.8 187.0h0.9M297.0 183.0h0.9M294.4 184.6h0.9M304.2 179.6h0.9M296.9 182.9h0.9M295.9 183.8h0.9M292.4 184.3h0.9M294.6 182.6h0.9M305.3 181.1h0.9M294.7 183.5h0.9M298.8 182.3h0.9M306.6 179.2h0.9M301.1 180.6h0.9M297.4 183.0h0.9M295.4 183.2h0.9M300.6 180.6h0.9M299.0 182.4h0.9M297.8 183.3h0.9M298.1 183.6h0.9M304.4 181.1h0.9M302.9 180.4h0.9M303.8 180.7h0.9M303.5 179.5h0.9M292.9 185.7h0.9M292.4 185.2h0.9M304.6 179.3h0.9M300.7 182.5h0.9M292.4 184.6h0.9M298.9 181.7h0.9M291.7 186.9h0.9M299.4 183.1h0.9M297.9 183.2h0.9M298.5 184.8h0.9M292.4 184.0h0.9M292.5 183.6h0.9M297.9 183.8h0.9M295.1 184.5h0.9M296.3 184.7h0.9M303.5 179.8h0.9M305.2 178.5h0.9M304.2 181.3h0.9M302.5 179.7h0.9M290.7 186.2h0.9M298.8 182.8h0.9M297.0 181.7h0.9M294.6 185.1h0.9M293.4 184.1h0.9M291.1 187.1h0.9M306.2 180.1h0.9M295.7 184.7h0.9M298.7 183.0h0.9M297.4 182.7h0.9M292.2 186.0h0.9M293.6 186.6h0.9M305.3 180.8h0.9M302.7 180.0h0.9M303.0 180.9h0.9M305.2 181.8h0.9M302.2 181.3h0.9M301.0 183.0h0.9M300.7 182.8h0.9M294.6 184.1h0.9M300.6 181.4h0.9M304.0 179.2h0.9M297.8 182.4h0.9M298.3 183.8h0.9M294.8 185.0h0.9M303.4 179.8h0.9M297.1 182.3h0.9M296.0 183.2h0.9M302.1 180.2h0.9M301.2 182.2h0.9M294.6 185.1h0.9M296.4 184.4h0.9M295.4 182.0h0.9M291.3 183.7h0.9M297.3 182.7h0.9M296.3 185.5h0.9M296.1 184.4h0.9M303.0 180.2h0.9M302.4 181.9h0.9M290.9 187.2h0.9M292.7 185.3h0.9M299.7 182.3h0.9M300.7 181.9h0.9M303.1 178.8h0.9M294.8 185.8h0.9M294.0 185.2h0.9M299.4 182.9h0.9M297.4 183.5h0.9M301.5 183.5h0.9M302.3 179.9h0.9M293.2 185.5h0.9M299.3 182.9h0.9M294.5 184.5h0.9M295.3 184.4h0.9M291.4 186.6h0.9M292.3 184.7h0.9M302.3 181.1h0.9M291.8 184.8h0.9M302.2 181.8h0.9M294.5 183.9h0.9M292.8 185.2h0.9M297.4 184.8h0.9M301.0 180.9h0.9M290.3 185.1h0.9M291.7 184.8h0.9M294.6 183.8h0.9M303.7 179.1h0.9M301.8 181.1h0.9M298.0 183.1h0.9M296.6 184.5h0.9" stroke="#48a878" stroke-width="0.9" stroke-opacity="0.8" fill="none"/>
<line x1="312.5" y1="149.5" x2="344.5" y2="149.5" stroke="#707070" stroke-width="0.8"/>
<polyline points="312.5,149.5 312.5,180.5 344.5,180.5 344.5,149.5" fill="none" stroke="#505050" stroke-width="0.9"/>
<text x="290.4" y="149" font-size="6.3" text-anchor="start" font-weight="normal" fill="#222" textLength="43" lengthAdjust="spacingAndGlyphs">CD34<tspan font-size="4.54" baseline-shift="2.39">+</tspan>/CD117<tspan font-size="4.54" baseline-shift="2.39">+</tspan></text>
<text x="336.8" y="192.8" font-size="6.2" text-anchor="middle" font-weight="normal" fill="#222">40.5</text>
<text x="321.5" y="136.2" font-size="2.9" text-anchor="middle" font-weight="normal" fill="#555" textLength="54" lengthAdjust="spacingAndGlyphs" class="t">Comp-FITC-A, Comp-Qdot 605-A subset</text>
<text x="320.7" y="140.8" font-size="2.9" text-anchor="middle" font-weight="normal" fill="#777" class="t">40.5</text>
<line x1="381.5" y1="138.5" x2="424.5" y2="138.5" stroke="#c8c8c8" stroke-width="0.8"/>
<polyline points="381.5,138.5 381.5,187.5 424.5,187.5 424.5,138.5" fill="none" stroke="#505050" stroke-width="0.9"/>
<path d="M377.3 152.5h0.8M375.6 169.4h0.8M378.1 171.6h0.8M377.2 154.7h0.8M376.9 168.6h0.8M378.5 163.8h0.8M376.8 161.1h0.8M378.2 171.5h0.8M375.7 173.7h0.8M376.5 156.7h0.8M375.9 161.4h0.8M376.2 161.7h0.8M377.4 168.6h0.8M376.9 155.9h0.8M377.0 161.7h0.8M375.8 166.9h0.8M376.0 155.0h0.8M378.6 172.0h0.8M378.6 166.8h0.8M377.0 165.5h0.8M376.1 170.7h0.8M377.5 164.1h0.8M375.7 165.3h0.8M378.7 175.2h0.8M378.1 163.8h0.8M377.4 169.5h0.8M377.5 172.6h0.8M376.1 170.2h0.8M378.2 166.0h0.8M377.8 166.5h0.8M377.5 163.0h0.8M377.0 173.6h0.8M377.1 165.7h0.8M378.3 172.2h0.8M377.0 167.6h0.8M376.4 166.8h0.8M377.6 166.0h0.8M377.5 168.3h0.8M377.4 162.9h0.8M376.5 164.5h0.8M378.7 164.6h0.8M376.8 163.0h0.8M376.3 169.1h0.8M376.5 171.8h0.8M378.1 169.6h0.8M378.2 165.5h0.8M375.8 165.6h0.8M377.9 156.2h0.8M376.3 173.0h0.8M377.7 174.6h0.8M377.9 166.4h0.8M377.7 171.4h0.8M377.3 164.7h0.8M377.6 164.0h0.8M379.4 161.1h0.8M376.0 157.8h0.8M378.2 163.4h0.8M377.4 164.6h0.8M377.6 156.8h0.8M377.4 162.4h0.8M378.2 170.0h0.8M376.2 159.9h0.8M377.8 173.6h0.8M378.0 165.0h0.8M376.8 159.8h0.8M376.4 169.6h0.8M377.6 167.8h0.8M377.2 169.9h0.8M378.0 162.4h0.8M378.1 160.1h0.8M378.8 157.7h0.8M377.1 159.1h0.8M377.3 174.4h0.8M376.7 177.3h0.8M378.5 168.5h0.8M376.8 171.8h0.8M378.1 165.8h0.8M379.5 161.7h0.8M376.2 164.6h0.8M377.8 176.9h0.8M375.8 167.0h0.8M378.4 161.7h0.8M376.9 158.3h0.8M378.0 171.3h0.8M377.8 167.6h0.8M378.2 165.2h0.8M377.9 171.2h0.8M378.4 169.3h0.8M377.4 170.5h0.8M376.0 154.8h0.8M378.7 166.9h0.8M376.4 162.3h0.8M377.2 166.5h0.8M376.6 172.3h0.8M376.4 176.6h0.8M377.9 155.3h0.8M376.2 166.4h0.8M377.5 163.3h0.8M377.3 167.0h0.8M376.3 166.4h0.8M379.3 161.9h0.8M376.4 170.2h0.8M378.5 172.7h0.8M376.8 165.5h0.8M377.5 164.7h0.8M377.7 172.9h0.8M377.8 165.9h0.8M377.1 177.4h0.8M376.2 178.8h0.8M378.0 166.6h0.8M376.7 177.7h0.8M378.4 171.8h0.8M379.1 154.5h0.8M377.4 164.0h0.8M376.7 166.5h0.8M377.8 169.4h0.8M377.2 157.5h0.8M377.8 169.9h0.8M379.2 172.0h0.8M377.3 158.7h0.8M377.5 170.8h0.8M377.8 174.5h0.8M376.4 161.6h0.8M377.5 158.1h0.8M376.8 174.9h0.8M377.6 165.3h0.8M376.8 166.3h0.8M377.3 159.1h0.8M378.0 157.8h0.8M378.4 163.8h0.8M377.6 160.4h0.8M378.9 174.9h0.8M379.2 171.7h0.8M378.5 162.1h0.8M378.5 163.2h0.8M377.3 157.3h0.8M377.4 168.6h0.8M377.3 158.9h0.8M378.1 171.9h0.8M377.2 171.0h0.8M378.2 159.7h0.8M377.3 154.0h0.8M376.4 168.8h0.8M376.5 168.5h0.8M377.6 152.7h0.8M376.9 175.8h0.8M377.3 166.8h0.8M376.7 155.7h0.8M377.1 160.4h0.8M377.4 153.5h0.8M378.6 177.1h0.8M376.6 168.1h0.8M376.5 171.5h0.8M376.6 165.1h0.8M378.5 169.4h0.8M377.0 156.2h0.8M375.9 173.8h0.8M377.8 166.4h0.8M378.4 166.9h0.8M376.7 165.3h0.8" stroke="#7088c8" stroke-width="0.8" stroke-opacity="1.0" fill="none"/>
<text x="370.8" y="150" font-size="6.3" fill="#222" textLength="34.2" lengthAdjust="spacingAndGlyphs">IGSF9<tspan font-size="4.6" baseline-shift="2.3">+</tspan><tspan> 0.34</tspan></text>
<text x="396" y="136" font-size="2.9" text-anchor="middle" font-weight="normal" fill="#555" textLength="52" lengthAdjust="spacingAndGlyphs" class="t">Comp-APC-A, Comp-Qdot 605-A subset</text>
<text x="395.8" y="141.3" font-size="2.9" text-anchor="middle" font-weight="normal" fill="#777" class="t">0.34</text>
<path d="M466.7 148.1h0.7M453.0 180.7h0.7M476.8 150.4h0.7M470.4 165.3h0.7M467.1 176.6h0.7M470.0 180.0h0.7M471.1 179.1h0.7M455.3 176.0h0.7M460.9 179.3h0.7M474.2 180.9h0.7M473.1 161.3h0.7M466.7 174.6h0.7M453.6 166.3h0.7M467.9 172.4h0.7M461.6 168.6h0.7M472.6 161.0h0.7M471.1 178.7h0.7M462.3 165.9h0.7M465.6 176.5h0.7M459.6 157.7h0.7M463.0 170.2h0.7M456.3 181.3h0.7M466.1 172.8h0.7M463.5 148.9h0.7M462.8 167.4h0.7M454.5 181.3h0.7M468.4 163.6h0.7M452.8 156.4h0.7M461.4 170.1h0.7M456.9 164.5h0.7M459.6 167.2h0.7M471.3 165.6h0.7M473.0 169.2h0.7M454.3 170.3h0.7M465.5 173.8h0.7M478.2 160.0h0.7M475.8 155.8h0.7M470.2 148.2h0.7M475.1 163.2h0.7M464.7 164.9h0.7M462.4 155.8h0.7M471.4 169.3h0.7M453.5 157.2h0.7M478.1 157.6h0.7M460.2 167.7h0.7M462.4 180.2h0.7M479.5 152.4h0.7M458.3 153.8h0.7M464.5 157.7h0.7M470.9 178.1h0.7M454.0 148.9h0.7M455.1 158.5h0.7M455.7 162.7h0.7M462.2 172.7h0.7M479.1 181.2h0.7M463.8 169.9h0.7M455.7 168.8h0.7M476.7 178.1h0.7M455.9 153.6h0.7M477.3 171.7h0.7" stroke="#a0a8d8" stroke-width="0.7" stroke-opacity="0.8" fill="none"/>
<path d="M461.1 162.0h0.8M460.3 163.8h0.8M460.3 150.8h0.8M460.9 165.5h0.8M457.9 159.8h0.8M457.1 177.9h0.8M465.2 163.5h0.8M456.6 168.8h0.8M458.3 176.9h0.8M466.0 164.0h0.8M463.8 158.6h0.8M453.9 171.8h0.8M468.4 162.6h0.8M458.6 150.6h0.8M470.7 155.4h0.8M456.6 163.4h0.8M466.5 165.4h0.8M460.9 165.2h0.8M464.9 164.7h0.8M461.7 164.4h0.8M456.0 175.8h0.8M457.9 154.4h0.8M459.0 165.3h0.8M464.7 153.2h0.8M455.3 166.4h0.8M462.7 156.2h0.8M455.9 166.4h0.8M460.4 152.0h0.8M457.0 176.9h0.8M456.2 173.4h0.8M454.1 176.9h0.8M468.3 159.9h0.8M457.9 170.1h0.8M455.4 169.4h0.8M466.5 167.1h0.8M462.5 163.7h0.8M465.5 158.4h0.8M468.2 164.8h0.8M459.5 151.9h0.8M459.0 166.9h0.8M466.6 152.0h0.8M460.4 159.5h0.8M455.6 165.0h0.8M457.6 172.0h0.8M452.4 149.3h0.8M463.4 162.3h0.8M461.6 157.2h0.8M456.3 159.1h0.8M460.8 158.2h0.8M459.1 158.1h0.8M462.1 155.9h0.8M460.9 165.8h0.8M465.4 159.0h0.8M455.9 153.0h0.8M464.4 160.0h0.8M465.5 164.4h0.8M459.8 150.1h0.8M457.9 171.3h0.8M458.2 170.4h0.8M453.6 173.2h0.8M473.6 174.0h0.8M462.5 155.1h0.8M458.6 159.7h0.8M461.8 148.8h0.8M457.1 171.4h0.8M461.7 171.0h0.8M464.9 155.8h0.8M454.9 168.7h0.8M461.2 165.6h0.8M457.3 173.2h0.8M463.2 174.2h0.8M459.4 170.6h0.8M460.7 157.4h0.8M460.6 151.7h0.8M460.2 166.4h0.8M464.1 156.5h0.8M455.0 159.1h0.8M451.6 159.8h0.8M472.8 166.2h0.8M457.6 159.5h0.8M469.0 155.6h0.8M460.5 164.4h0.8M457.7 159.2h0.8M453.4 158.3h0.8M466.9 176.4h0.8M459.7 170.7h0.8M463.1 165.9h0.8M460.4 174.8h0.8M463.6 163.2h0.8M459.9 172.5h0.8M458.3 159.2h0.8M459.8 161.0h0.8M466.7 167.9h0.8M460.6 160.8h0.8M467.4 168.5h0.8M470.4 172.3h0.8M460.0 160.6h0.8M459.7 166.5h0.8M464.6 168.9h0.8M468.1 152.8h0.8M461.1 153.6h0.8M456.4 160.2h0.8M458.1 157.2h0.8M454.1 174.1h0.8M459.6 172.7h0.8M458.3 172.1h0.8M458.5 168.2h0.8M456.1 176.2h0.8M463.0 173.4h0.8M459.7 175.3h0.8M461.3 161.1h0.8M458.1 165.4h0.8M456.9 155.4h0.8M461.6 170.7h0.8M459.7 171.7h0.8M468.2 154.8h0.8M462.2 157.3h0.8M458.1 166.4h0.8M464.8 169.3h0.8M463.9 179.5h0.8M459.3 173.8h0.8M467.5 168.9h0.8M452.9 163.7h0.8M459.7 152.0h0.8M460.7 171.1h0.8M459.8 163.5h0.8M467.6 160.1h0.8M456.7 165.3h0.8M466.1 169.8h0.8M461.3 161.0h0.8M466.6 172.1h0.8M453.2 167.7h0.8M463.8 159.9h0.8M455.2 162.6h0.8M453.1 169.5h0.8M458.7 150.8h0.8M460.9 174.5h0.8M455.3 162.1h0.8M469.2 166.5h0.8M458.5 166.5h0.8M464.5 156.9h0.8M460.6 151.9h0.8M453.8 152.6h0.8M464.8 167.5h0.8M464.3 174.7h0.8M461.2 166.9h0.8M462.8 168.7h0.8M456.2 162.8h0.8M460.3 165.3h0.8M457.6 163.9h0.8M462.3 166.5h0.8M463.7 171.6h0.8M463.5 172.7h0.8M464.8 176.2h0.8M463.8 160.0h0.8M471.5 174.0h0.8M466.6 170.8h0.8M461.2 155.8h0.8M463.0 162.1h0.8M468.0 155.6h0.8M456.0 168.7h0.8M463.6 158.6h0.8M461.0 167.0h0.8M461.7 169.2h0.8M464.5 162.0h0.8M459.3 157.0h0.8M464.4 169.7h0.8M460.8 167.5h0.8M462.4 163.1h0.8M462.4 154.5h0.8M459.2 179.8h0.8M465.0 161.7h0.8M458.4 153.0h0.8M460.5 163.6h0.8M458.1 152.5h0.8M461.7 168.4h0.8M466.1 169.1h0.8M467.9 174.6h0.8M460.5 156.6h0.8M463.0 172.7h0.8M454.0 155.1h0.8M464.1 160.5h0.8M467.6 166.7h0.8M458.5 154.3h0.8M463.7 151.2h0.8M455.1 154.5h0.8M468.7 178.7h0.8M460.0 161.9h0.8M464.2 175.0h0.8M460.1 174.1h0.8M457.8 180.9h0.8M460.0 154.8h0.8M469.8 159.5h0.8M461.0 155.0h0.8M464.1 166.5h0.8M459.7 161.8h0.8M458.4 159.2h0.8M454.6 174.7h0.8M465.0 153.8h0.8M455.7 168.3h0.8M471.2 163.3h0.8M459.6 163.0h0.8M462.1 163.6h0.8M465.9 172.9h0.8M463.5 177.6h0.8M459.9 160.6h0.8M462.6 156.4h0.8M465.8 148.1h0.8M460.4 161.8h0.8M456.1 174.0h0.8M459.2 168.6h0.8M458.6 166.2h0.8M459.0 165.6h0.8M460.5 159.5h0.8M463.0 163.5h0.8M456.6 156.6h0.8M463.0 175.7h0.8M455.1 161.6h0.8M463.0 173.4h0.8M464.2 155.5h0.8M461.2 172.2h0.8M462.1 163.2h0.8M455.7 166.3h0.8M460.7 165.2h0.8M467.8 174.5h0.8M457.4 166.9h0.8M459.6 165.8h0.8M468.4 172.3h0.8M461.2 159.7h0.8M460.3 167.9h0.8M458.7 173.8h0.8M461.1 155.5h0.8M459.8 164.0h0.8M465.5 173.9h0.8M467.6 177.5h0.8M462.4 165.9h0.8M465.6 164.8h0.8M455.3 161.3h0.8M464.0 169.9h0.8M456.0 174.6h0.8M462.4 152.9h0.8M463.1 173.1h0.8M463.4 162.5h0.8M457.4 174.0h0.8M462.0 164.9h0.8M459.2 156.7h0.8M452.5 162.2h0.8M466.0 171.1h0.8M457.9 177.3h0.8M460.0 156.9h0.8M465.4 176.1h0.8M459.2 155.2h0.8M461.2 177.2h0.8M462.2 159.1h0.8M464.2 161.0h0.8M466.7 162.1h0.8M470.2 162.2h0.8M461.9 157.5h0.8M455.2 167.8h0.8M462.6 157.2h0.8M463.5 161.7h0.8M458.5 164.4h0.8M462.8 170.8h0.8M466.6 168.1h0.8M457.7 159.5h0.8M462.7 155.4h0.8M460.2 161.9h0.8M460.6 166.5h0.8M465.7 178.1h0.8M465.0 173.1h0.8M456.2 173.3h0.8M466.9 154.1h0.8M472.4 160.4h0.8M461.3 158.6h0.8M458.4 173.6h0.8M462.2 162.0h0.8M466.2 157.5h0.8M457.2 160.5h0.8M457.6 170.5h0.8M460.0 156.5h0.8M458.9 149.1h0.8M461.7 165.8h0.8M463.8 163.1h0.8M462.8 157.5h0.8M461.1 166.2h0.8M455.5 169.7h0.8M461.6 165.4h0.8M458.8 181.1h0.8M461.0 158.8h0.8M457.2 169.7h0.8M460.1 158.7h0.8M457.7 172.5h0.8M461.4 173.4h0.8M460.9 155.5h0.8M464.9 167.6h0.8M458.0 162.5h0.8M456.6 171.6h0.8M459.1 168.8h0.8M462.2 162.9h0.8M462.7 163.0h0.8M455.7 161.7h0.8M455.7 171.0h0.8M463.9 160.3h0.8M463.8 167.0h0.8M465.4 157.5h0.8M461.1 157.1h0.8M457.9 176.0h0.8M451.9 157.7h0.8M463.2 171.2h0.8M457.5 148.7h0.8M453.3 167.9h0.8M466.0 172.3h0.8M457.7 175.8h0.8M460.2 169.9h0.8M460.1 177.7h0.8M459.6 166.5h0.8M462.2 159.3h0.8M460.0 155.9h0.8M459.9 165.7h0.8M462.1 178.1h0.8M452.0 169.1h0.8M462.9 155.7h0.8M461.3 164.9h0.8M456.5 170.8h0.8M469.6 170.4h0.8M464.5 173.5h0.8M460.4 172.8h0.8M457.4 166.4h0.8M464.2 175.4h0.8M459.7 162.7h0.8M463.1 164.4h0.8M461.6 171.4h0.8M457.6 172.0h0.8M462.7 162.9h0.8M455.4 160.0h0.8M460.8 172.5h0.8M452.2 170.7h0.8M461.9 156.0h0.8M464.8 168.2h0.8M463.0 157.2h0.8M456.0 172.2h0.8M467.3 167.9h0.8M460.1 161.4h0.8M453.3 172.8h0.8M460.6 174.8h0.8M457.8 173.4h0.8M457.8 169.7h0.8M467.2 159.4h0.8M465.1 164.9h0.8M456.8 166.6h0.8M463.9 159.3h0.8M459.8 160.5h0.8M457.6 163.3h0.8M464.7 161.1h0.8M466.6 162.0h0.8M457.9 173.5h0.8M467.3 159.8h0.8M463.6 155.8h0.8M459.2 162.0h0.8M464.2 155.0h0.8M458.7 159.5h0.8M461.4 155.2h0.8M462.0 153.1h0.8M464.7 154.6h0.8M452.6 178.2h0.8M466.6 158.3h0.8M456.1 168.8h0.8M470.1 169.7h0.8M463.9 155.6h0.8M453.1 168.1h0.8M465.5 166.1h0.8M461.0 175.9h0.8M457.3 173.7h0.8M464.7 160.1h0.8M461.5 165.9h0.8M463.6 157.3h0.8M460.0 165.7h0.8M461.1 165.2h0.8M462.1 163.5h0.8M458.8 173.2h0.8M458.1 162.5h0.8M457.1 155.9h0.8M463.0 164.7h0.8M460.4 168.6h0.8M460.2 170.4h0.8M469.0 167.7h0.8M459.8 178.1h0.8M464.1 151.9h0.8M466.9 166.7h0.8M464.8 155.9h0.8M457.2 159.9h0.8M463.4 156.1h0.8M457.9 172.5h0.8M458.1 165.9h0.8M457.0 151.6h0.8M460.6 164.0h0.8M454.7 172.7h0.8M464.6 172.0h0.8M458.7 156.0h0.8M460.6 166.3h0.8M460.2 160.4h0.8M456.6 159.2h0.8M460.6 161.2h0.8M468.4 162.8h0.8M463.0 161.3h0.8M460.2 157.3h0.8M458.9 153.2h0.8M451.8 175.5h0.8M456.3 168.4h0.8M460.4 160.5h0.8M464.2 160.6h0.8M462.9 162.1h0.8M465.3 172.5h0.8M461.3 173.6h0.8M463.2 177.2h0.8M460.5 152.9h0.8M461.9 166.9h0.8M459.4 163.4h0.8M459.8 155.2h0.8M468.6 158.9h0.8M456.3 152.6h0.8M457.3 164.7h0.8M467.5 169.7h0.8M457.8 155.2h0.8M456.1 164.3h0.8M464.8 161.2h0.8M468.1 180.1h0.8M461.7 148.0h0.8M465.8 164.2h0.8M463.9 172.7h0.8M456.6 165.5h0.8M461.8 159.1h0.8M464.1 164.0h0.8M459.2 179.7h0.8M461.7 177.8h0.8M460.3 173.1h0.8M457.7 166.1h0.8M463.4 162.9h0.8M465.8 166.4h0.8M460.7 154.9h0.8M473.9 159.2h0.8M459.6 159.3h0.8M459.7 166.7h0.8M455.1 173.3h0.8M459.8 169.7h0.8M451.7 160.9h0.8M459.7 161.9h0.8M458.0 167.4h0.8M462.8 157.3h0.8M452.4 170.7h0.8" stroke="#5a70c8" stroke-width="0.8" stroke-opacity="0.85" fill="none"/>
<path d="M455.2 176.3h0.8M458.1 169.4h0.8M452.5 167.9h0.8M454.2 177.3h0.8M451.8 175.4h0.8M452.2 166.6h0.8M452.5 165.9h0.8M454.9 172.2h0.8M454.5 174.0h0.8M460.3 170.9h0.8M453.2 168.9h0.8M455.7 167.9h0.8M458.8 176.8h0.8M460.9 173.1h0.8M457.6 165.2h0.8M454.5 175.3h0.8M456.3 163.4h0.8M454.6 151.9h0.8M456.0 162.8h0.8M455.9 163.0h0.8M453.7 167.0h0.8M462.8 163.0h0.8M453.1 166.8h0.8M458.6 174.7h0.8M457.7 168.1h0.8M456.3 165.5h0.8M455.5 165.2h0.8M452.4 164.1h0.8M460.7 172.3h0.8M454.1 169.3h0.8M454.9 177.1h0.8M455.9 166.2h0.8M457.6 171.9h0.8M454.3 165.4h0.8M456.3 160.4h0.8M453.8 175.9h0.8M458.1 176.5h0.8M454.9 166.5h0.8M455.3 167.2h0.8M459.1 168.7h0.8M459.3 165.8h0.8M456.9 179.5h0.8M454.2 166.1h0.8M454.5 160.5h0.8M455.3 166.2h0.8M461.4 167.2h0.8M458.3 169.8h0.8M456.7 174.2h0.8M454.6 170.2h0.8M456.3 179.7h0.8M459.4 171.0h0.8M452.7 175.2h0.8M455.8 176.8h0.8M456.1 171.0h0.8M457.6 165.7h0.8M453.9 175.5h0.8M457.6 174.8h0.8M459.3 162.1h0.8M458.3 157.9h0.8M456.1 172.0h0.8M458.5 176.3h0.8M453.7 168.4h0.8M455.6 165.9h0.8M454.0 166.1h0.8M458.8 178.0h0.8M457.8 179.9h0.8M456.2 163.6h0.8M454.4 171.2h0.8M458.5 177.1h0.8M453.8 175.6h0.8M454.7 173.5h0.8M458.2 178.7h0.8M454.7 171.4h0.8M457.0 167.5h0.8M456.2 173.5h0.8M452.0 166.2h0.8M461.6 172.6h0.8M454.6 159.2h0.8M453.6 173.0h0.8M457.6 172.6h0.8M457.4 166.4h0.8M459.8 163.4h0.8M457.2 168.4h0.8M451.8 175.3h0.8M455.3 174.2h0.8M459.1 171.0h0.8M454.4 168.7h0.8M455.8 178.5h0.8M458.0 179.3h0.8M457.8 165.5h0.8M458.2 175.7h0.8M455.7 172.7h0.8M455.2 162.6h0.8M455.7 174.5h0.8M455.1 156.8h0.8M454.0 176.4h0.8M456.5 176.6h0.8M454.1 167.5h0.8M453.5 165.4h0.8M457.2 170.8h0.8M454.8 171.7h0.8M452.8 167.7h0.8M452.3 161.2h0.8M452.7 163.5h0.8M459.8 178.1h0.8M459.0 166.6h0.8M457.5 163.3h0.8M454.6 171.4h0.8M452.1 171.2h0.8M457.5 157.8h0.8M455.7 170.8h0.8M453.2 173.3h0.8M456.3 165.7h0.8M460.0 171.5h0.8M457.8 180.9h0.8M454.8 168.7h0.8M451.7 168.6h0.8M457.3 171.2h0.8M452.9 165.0h0.8M451.5 161.9h0.8M456.2 171.8h0.8M453.7 168.7h0.8M454.0 173.7h0.8M457.5 166.7h0.8M454.8 162.7h0.8M455.9 175.1h0.8M457.4 178.7h0.8M455.2 164.6h0.8M458.5 175.4h0.8M454.3 176.5h0.8M455.9 169.7h0.8M460.4 173.1h0.8M456.7 168.1h0.8M456.4 176.2h0.8M457.1 165.5h0.8M457.1 169.3h0.8M456.7 168.8h0.8M455.0 156.9h0.8M457.6 167.3h0.8M456.8 156.7h0.8M456.6 175.8h0.8M456.4 162.2h0.8M458.3 166.8h0.8M454.6 171.2h0.8M457.1 162.6h0.8M456.0 170.3h0.8M459.5 177.6h0.8M462.2 166.0h0.8M453.8 172.1h0.8M459.9 164.0h0.8" stroke="#4a90b8" stroke-width="0.8" stroke-opacity="0.85" fill="none"/>
<path d="M453.0 171.0h0.9M454.1 175.6h0.9M453.4 176.6h0.9M452.5 172.5h0.9M453.4 174.2h0.9M455.1 174.3h0.9M455.1 174.9h0.9M454.9 174.7h0.9M452.3 170.6h0.9M455.8 172.7h0.9M456.7 169.6h0.9M452.4 177.7h0.9M451.5 177.6h0.9M454.0 176.5h0.9M451.9 175.5h0.9M454.7 173.8h0.9M454.8 174.1h0.9M453.9 172.7h0.9M451.8 173.4h0.9M454.1 171.0h0.9M455.2 173.1h0.9M452.5 178.9h0.9M453.3 168.0h0.9M452.9 170.5h0.9M453.2 170.4h0.9M453.6 175.8h0.9M452.8 173.2h0.9M453.3 177.3h0.9M452.6 177.0h0.9M455.1 173.2h0.9M452.2 172.8h0.9M451.2 171.8h0.9M452.0 173.3h0.9M453.0 176.1h0.9M453.6 175.7h0.9M453.4 175.1h0.9M452.0 176.6h0.9M455.1 178.4h0.9M451.8 175.7h0.9M451.4 177.0h0.9M453.2 172.2h0.9M452.5 173.1h0.9M453.5 170.2h0.9M453.6 175.0h0.9M454.2 173.8h0.9M454.8 175.3h0.9M451.7 176.5h0.9M454.2 163.4h0.9M453.3 175.5h0.9M453.5 174.4h0.9M453.3 179.5h0.9M454.0 172.9h0.9M452.4 171.9h0.9M453.9 174.6h0.9M453.9 179.4h0.9M454.9 175.7h0.9M453.5 173.8h0.9M453.2 178.0h0.9M451.9 169.8h0.9M452.9 170.2h0.9M452.5 178.8h0.9M451.8 173.0h0.9M452.7 170.0h0.9M451.6 174.3h0.9M453.0 178.4h0.9M455.9 172.8h0.9M452.5 172.9h0.9M454.1 177.7h0.9M452.3 175.9h0.9M453.4 178.6h0.9M453.0 173.2h0.9M452.4 168.7h0.9M453.8 176.8h0.9M454.9 175.1h0.9M452.9 170.3h0.9M452.0 171.1h0.9M453.9 174.4h0.9M453.1 169.8h0.9M453.5 176.1h0.9M452.2 168.6h0.9M453.1 175.1h0.9M453.2 180.2h0.9M453.7 170.0h0.9M454.5 171.4h0.9M454.4 174.4h0.9M455.1 170.0h0.9M454.4 175.7h0.9M452.3 176.8h0.9M456.4 175.4h0.9M452.5 173.4h0.9M455.2 175.0h0.9M455.4 171.4h0.9M455.2 167.7h0.9M453.3 172.8h0.9M452.9 178.9h0.9M452.7 175.4h0.9M455.9 177.3h0.9M453.0 171.1h0.9M454.6 178.4h0.9M454.5 164.8h0.9" stroke="#8cb848" stroke-width="0.9" stroke-opacity="1.0" fill="none"/>
<path d="M452.6 177.4h0.9M453.1 177.5h0.9M456.0 172.7h0.9M455.7 174.8h0.9M452.0 175.3h0.9M454.4 173.3h0.9M455.1 172.4h0.9M453.3 177.8h0.9M453.3 173.3h0.9M453.5 177.0h0.9M455.2 179.1h0.9M455.4 174.9h0.9M451.8 174.9h0.9M453.1 172.0h0.9M453.0 174.8h0.9M453.5 177.8h0.9M452.6 178.4h0.9M453.5 177.2h0.9M454.7 171.3h0.9M455.1 172.8h0.9M453.9 178.3h0.9M454.4 170.3h0.9M453.7 178.4h0.9M453.4 174.8h0.9M453.6 179.9h0.9M453.0 172.2h0.9M452.4 173.4h0.9M453.3 176.0h0.9M453.4 169.8h0.9M451.9 177.0h0.9M454.2 170.9h0.9M454.4 167.7h0.9M455.8 176.8h0.9M451.8 176.5h0.9M453.5 173.6h0.9M453.1 174.3h0.9M453.4 172.3h0.9M452.9 176.7h0.9M454.0 171.0h0.9M453.0 179.7h0.9" stroke="#c8c040" stroke-width="0.9" stroke-opacity="1.0" fill="none"/>
<line x1="456.5" y1="141.5" x2="499.5" y2="141.5" stroke="#c0c0c0" stroke-width="0.8"/>
<polyline points="456.5,141.5 456.5,186.5 499.5,186.5 499.5,141.5" fill="none" stroke="#505050" stroke-width="0.9"/>
<text x="445.5" y="149.3" font-size="6.3" fill="#222" textLength="33.2" lengthAdjust="spacingAndGlyphs">IGSF9<tspan font-size="4.6" baseline-shift="2.3">+</tspan><tspan> 37.7</tspan></text>
<text x="471" y="135.8" font-size="2.9" text-anchor="middle" font-weight="normal" fill="#555" textLength="52" lengthAdjust="spacingAndGlyphs" class="t">Comp-APC-A, Comp-Qdot 605-A subset</text>
<text x="471" y="141" font-size="2.9" text-anchor="middle" font-weight="normal" fill="#777" class="t">37.7</text>
<text x="278.4" y="69.6" font-size="7.2" font-weight="bold" text-anchor="middle" fill="#111" textLength="42" lengthAdjust="spacingAndGlyphs" transform="rotate(-90 278.4 69.6)" dy="2.52">CD13-PercpCy5.5</text>
<text x="278" y="174.9" font-size="7.2" font-weight="bold" text-anchor="middle" fill="#111" textLength="32.6" lengthAdjust="spacingAndGlyphs" transform="rotate(-90 278 174.9)" dy="2.52">CD117-BV605</text>
<text x="263.9" y="123" font-size="6.0" font-weight="normal" text-anchor="middle" fill="#333" textLength="34.3" lengthAdjust="spacingAndGlyphs" transform="rotate(-90 263.9 123)" dy="2.10">AML patients</text>
<line x1="269.2" y1="62" x2="269.2" y2="184" stroke="#333" stroke-width="0.9"/>
<polyline points="277.7,97.6 277.7,113.8 286.2,113.8" fill="none" stroke="#111" stroke-width="0.8"/>
<polygon points="277.7,94.6 279.60,98.60 275.80,98.60" fill="#111"/>
<polygon points="289.2,113.8 285.20,115.70 285.20,111.90" fill="#111"/>
<text x="295.4" y="116.6" font-size="7.6" font-weight="bold" fill="#111" textLength="37.7" lengthAdjust="spacingAndGlyphs">CD33-APC-Cy7</text>
<polyline points="277.6,198.2 277.6,214.8 285.8,214.8" fill="none" stroke="#111" stroke-width="0.8"/>
<polygon points="277.6,195.2 279.50,199.20 275.70,199.20" fill="#111"/>
<polygon points="288.8,214.8 284.80,216.70 284.80,212.90" fill="#111"/>
<text x="293" y="217.60000000000002" font-size="7.6" font-weight="bold" fill="#111" textLength="26" lengthAdjust="spacingAndGlyphs">CD34-FITC</text>
<text x="260.0" y="236.8" font-size="10.5" text-anchor="start" font-weight="bold" fill="#111">C</text>
<rect x="280.5" y="251.5" width="70.0" height="64.0" stroke="#a4a4a4" stroke-width="1.0" fill="none"/>
<line x1="280.5" y1="251.5" x2="280.5" y2="316.0" stroke="#707070" stroke-width="1.0"/>
<line x1="280.0" y1="315.5" x2="351.0" y2="315.5" stroke="#707070" stroke-width="1.0"/>
<line x1="279.2" y1="259.472" x2="281.4" y2="259.472" stroke="#444" stroke-width="0.6"/>
<line x1="279.2" y1="270.83" x2="281.4" y2="270.83" stroke="#444" stroke-width="0.6"/>
<line x1="279.2" y1="281.557" x2="281.4" y2="281.557" stroke="#444" stroke-width="0.6"/>
<line x1="279.2" y1="292.284" x2="281.4" y2="292.284" stroke="#444" stroke-width="0.6"/>
<line x1="279.2" y1="299.856" x2="281.4" y2="299.856" stroke="#444" stroke-width="0.6"/>
<line x1="279.2" y1="307.428" x2="281.4" y2="307.428" stroke="#444" stroke-width="0.6"/>
<line x1="282.2" y1="315" x2="282.2" y2="316.0" stroke="#555" stroke-width="0.4"/>
<line x1="285.3666666666667" y1="315" x2="285.3666666666667" y2="316.0" stroke="#555" stroke-width="0.4"/>
<line x1="288.5333333333333" y1="315" x2="288.5333333333333" y2="316.0" stroke="#555" stroke-width="0.4"/>
<line x1="291.7" y1="315" x2="291.7" y2="316.0" stroke="#555" stroke-width="0.4"/>
<line x1="294.8666666666667" y1="315" x2="294.8666666666667" y2="316.0" stroke="#555" stroke-width="0.4"/>
<line x1="298.0333333333333" y1="315" x2="298.0333333333333" y2="316.0" stroke="#555" stroke-width="0.4"/>
<line x1="301.2" y1="315" x2="301.2" y2="316.0" stroke="#555" stroke-width="0.4"/>
<line x1="304.3666666666667" y1="315" x2="304.3666666666667" y2="316.0" stroke="#555" stroke-width="0.4"/>
<line x1="307.5333333333333" y1="315" x2="307.5333333333333" y2="316.0" stroke="#555" stroke-width="0.4"/>
<line x1="310.7" y1="315" x2="310.7" y2="316.0" stroke="#555" stroke-width="0.4"/>
<line x1="313.8666666666667" y1="315" x2="313.8666666666667" y2="316.0" stroke="#555" stroke-width="0.4"/>
<line x1="317.0333333333333" y1="315" x2="317.0333333333333" y2="316.0" stroke="#555" stroke-width="0.4"/>
<line x1="320.2" y1="315" x2="320.2" y2="316.0" stroke="#555" stroke-width="0.4"/>
<line x1="323.3666666666667" y1="315" x2="323.3666666666667" y2="316.0" stroke="#555" stroke-width="0.4"/>
<line x1="326.5333333333333" y1="315" x2="326.5333333333333" y2="316.0" stroke="#555" stroke-width="0.4"/>
<line x1="329.7" y1="315" x2="329.7" y2="316.0" stroke="#555" stroke-width="0.4"/>
<line x1="332.8666666666667" y1="315" x2="332.8666666666667" y2="316.0" stroke="#555" stroke-width="0.4"/>
<line x1="336.0333333333333" y1="315" x2="336.0333333333333" y2="316.0" stroke="#555" stroke-width="0.4"/>
<line x1="339.2" y1="315" x2="339.2" y2="316.0" stroke="#555" stroke-width="0.4"/>
<line x1="342.3666666666667" y1="315" x2="342.3666666666667" y2="316.0" stroke="#555" stroke-width="0.4"/>
<line x1="345.5333333333333" y1="315" x2="345.5333333333333" y2="316.0" stroke="#555" stroke-width="0.4"/>
<line x1="348.7" y1="315" x2="348.7" y2="316.0" stroke="#555" stroke-width="0.4"/>
<ellipse cx="280.20" cy="309.32" rx="1.1" ry="1.5" fill="#111"/>
<ellipse cx="295.71" cy="315.30" rx="1.9" ry="0.95" fill="#111"/>
<text x="285.13" y="327.8" font-size="6.5" text-anchor="middle" fill="#222" textLength="11" lengthAdjust="spacingAndGlyphs">–10<tspan font-size="4.29" baseline-shift="2.73">3</tspan></text>
<text x="298.25" y="327.8" font-size="6.5" text-anchor="middle" font-weight="normal" fill="#222">0</text>
<text x="308.12" y="327.8" font-size="6.5" text-anchor="middle" fill="#222">10<tspan font-size="4.29" baseline-shift="2.73">3</tspan></text>
<text x="328.84" y="327.8" font-size="6.5" text-anchor="middle" fill="#222">10<tspan font-size="4.29" baseline-shift="2.73">4</tspan></text>
<text x="345.06" y="327.8" font-size="6.5" text-anchor="middle" fill="#222">10<tspan font-size="4.29" baseline-shift="2.73">5</tspan></text>
<rect x="357.5" y="252.5" width="71.0" height="63.0" stroke="#a4a4a4" stroke-width="1.0" fill="none"/>
<line x1="357.5" y1="252.5" x2="357.5" y2="316.0" stroke="#707070" stroke-width="1.0"/>
<line x1="357.0" y1="315.5" x2="429.0" y2="315.5" stroke="#707070" stroke-width="1.0"/>
<line x1="356.3" y1="259.824" x2="358.5" y2="259.824" stroke="#444" stroke-width="0.6"/>
<line x1="356.3" y1="271.11" x2="358.5" y2="271.11" stroke="#444" stroke-width="0.6"/>
<line x1="356.3" y1="281.769" x2="358.5" y2="281.769" stroke="#444" stroke-width="0.6"/>
<line x1="356.3" y1="292.428" x2="358.5" y2="292.428" stroke="#444" stroke-width="0.6"/>
<line x1="356.3" y1="299.952" x2="358.5" y2="299.952" stroke="#444" stroke-width="0.6"/>
<line x1="356.3" y1="307.476" x2="358.5" y2="307.476" stroke="#444" stroke-width="0.6"/>
<line x1="359.3" y1="315" x2="359.3" y2="316.0" stroke="#555" stroke-width="0.4"/>
<line x1="362.50952380952384" y1="315" x2="362.50952380952384" y2="316.0" stroke="#555" stroke-width="0.4"/>
<line x1="365.7190476190476" y1="315" x2="365.7190476190476" y2="316.0" stroke="#555" stroke-width="0.4"/>
<line x1="368.92857142857144" y1="315" x2="368.92857142857144" y2="316.0" stroke="#555" stroke-width="0.4"/>
<line x1="372.1380952380952" y1="315" x2="372.1380952380952" y2="316.0" stroke="#555" stroke-width="0.4"/>
<line x1="375.34761904761905" y1="315" x2="375.34761904761905" y2="316.0" stroke="#555" stroke-width="0.4"/>
<line x1="378.5571428571429" y1="315" x2="378.5571428571429" y2="316.0" stroke="#555" stroke-width="0.4"/>
<line x1="381.76666666666665" y1="315" x2="381.76666666666665" y2="316.0" stroke="#555" stroke-width="0.4"/>
<line x1="384.9761904761905" y1="315" x2="384.9761904761905" y2="316.0" stroke="#555" stroke-width="0.4"/>
<line x1="388.1857142857143" y1="315" x2="388.1857142857143" y2="316.0" stroke="#555" stroke-width="0.4"/>
<line x1="391.3952380952381" y1="315" x2="391.3952380952381" y2="316.0" stroke="#555" stroke-width="0.4"/>
<line x1="394.6047619047619" y1="315" x2="394.6047619047619" y2="316.0" stroke="#555" stroke-width="0.4"/>
<line x1="397.8142857142857" y1="315" x2="397.8142857142857" y2="316.0" stroke="#555" stroke-width="0.4"/>
<line x1="401.0238095238095" y1="315" x2="401.0238095238095" y2="316.0" stroke="#555" stroke-width="0.4"/>
<line x1="404.23333333333335" y1="315" x2="404.23333333333335" y2="316.0" stroke="#555" stroke-width="0.4"/>
<line x1="407.4428571428571" y1="315" x2="407.4428571428571" y2="316.0" stroke="#555" stroke-width="0.4"/>
<line x1="410.65238095238095" y1="315" x2="410.65238095238095" y2="316.0" stroke="#555" stroke-width="0.4"/>
<line x1="413.8619047619048" y1="315" x2="413.8619047619048" y2="316.0" stroke="#555" stroke-width="0.4"/>
<line x1="417.07142857142856" y1="315" x2="417.07142857142856" y2="316.0" stroke="#555" stroke-width="0.4"/>
<line x1="420.2809523809524" y1="315" x2="420.2809523809524" y2="316.0" stroke="#555" stroke-width="0.4"/>
<line x1="423.4904761904762" y1="315" x2="423.4904761904762" y2="316.0" stroke="#555" stroke-width="0.4"/>
<line x1="426.7" y1="315" x2="426.7" y2="316.0" stroke="#555" stroke-width="0.4"/>
<ellipse cx="357.30" cy="309.36" rx="1.1" ry="1.5" fill="#111"/>
<ellipse cx="373.01" cy="315.30" rx="1.9" ry="0.95" fill="#111"/>
<text x="362.30" y="327.8" font-size="6.5" text-anchor="middle" fill="#222" textLength="11" lengthAdjust="spacingAndGlyphs">–10<tspan font-size="4.29" baseline-shift="2.73">3</tspan></text>
<text x="375.58" y="327.8" font-size="6.5" text-anchor="middle" font-weight="normal" fill="#222">0</text>
<text x="385.57" y="327.8" font-size="6.5" text-anchor="middle" fill="#222">10<tspan font-size="4.29" baseline-shift="2.73">3</tspan></text>
<text x="406.57" y="327.8" font-size="6.5" text-anchor="middle" fill="#222">10<tspan font-size="4.29" baseline-shift="2.73">4</tspan></text>
<text x="422.99" y="327.8" font-size="6.5" text-anchor="middle" fill="#222">10<tspan font-size="4.29" baseline-shift="2.73">5</tspan></text>
<rect x="434.5" y="251.5" width="71.0" height="64.0" stroke="#a4a4a4" stroke-width="1.0" fill="none"/>
<line x1="434.5" y1="251.5" x2="434.5" y2="316.0" stroke="#707070" stroke-width="1.0"/>
<line x1="434.0" y1="315.5" x2="506.0" y2="315.5" stroke="#707070" stroke-width="1.0"/>
<line x1="433.3" y1="258.68" x2="435.5" y2="258.68" stroke="#444" stroke-width="0.6"/>
<line x1="433.3" y1="270.2" x2="435.5" y2="270.2" stroke="#444" stroke-width="0.6"/>
<line x1="433.3" y1="281.08" x2="435.5" y2="281.08" stroke="#444" stroke-width="0.6"/>
<line x1="433.3" y1="291.96" x2="435.5" y2="291.96" stroke="#444" stroke-width="0.6"/>
<line x1="433.3" y1="299.64" x2="435.5" y2="299.64" stroke="#444" stroke-width="0.6"/>
<line x1="433.3" y1="307.32" x2="435.5" y2="307.32" stroke="#444" stroke-width="0.6"/>
<line x1="436.3" y1="315" x2="436.3" y2="316.0" stroke="#555" stroke-width="0.4"/>
<line x1="439.5" y1="315" x2="439.5" y2="316.0" stroke="#555" stroke-width="0.4"/>
<line x1="442.7" y1="315" x2="442.7" y2="316.0" stroke="#555" stroke-width="0.4"/>
<line x1="445.90000000000003" y1="315" x2="445.90000000000003" y2="316.0" stroke="#555" stroke-width="0.4"/>
<line x1="449.1" y1="315" x2="449.1" y2="316.0" stroke="#555" stroke-width="0.4"/>
<line x1="452.3" y1="315" x2="452.3" y2="316.0" stroke="#555" stroke-width="0.4"/>
<line x1="455.5" y1="315" x2="455.5" y2="316.0" stroke="#555" stroke-width="0.4"/>
<line x1="458.7" y1="315" x2="458.7" y2="316.0" stroke="#555" stroke-width="0.4"/>
<line x1="461.9" y1="315" x2="461.9" y2="316.0" stroke="#555" stroke-width="0.4"/>
<line x1="465.1" y1="315" x2="465.1" y2="316.0" stroke="#555" stroke-width="0.4"/>
<line x1="468.3" y1="315" x2="468.3" y2="316.0" stroke="#555" stroke-width="0.4"/>
<line x1="471.5" y1="315" x2="471.5" y2="316.0" stroke="#555" stroke-width="0.4"/>
<line x1="474.7" y1="315" x2="474.7" y2="316.0" stroke="#555" stroke-width="0.4"/>
<line x1="477.9" y1="315" x2="477.9" y2="316.0" stroke="#555" stroke-width="0.4"/>
<line x1="481.1" y1="315" x2="481.1" y2="316.0" stroke="#555" stroke-width="0.4"/>
<line x1="484.3" y1="315" x2="484.3" y2="316.0" stroke="#555" stroke-width="0.4"/>
<line x1="487.5" y1="315" x2="487.5" y2="316.0" stroke="#555" stroke-width="0.4"/>
<line x1="490.7" y1="315" x2="490.7" y2="316.0" stroke="#555" stroke-width="0.4"/>
<line x1="493.9" y1="315" x2="493.9" y2="316.0" stroke="#555" stroke-width="0.4"/>
<line x1="497.1" y1="315" x2="497.1" y2="316.0" stroke="#555" stroke-width="0.4"/>
<line x1="500.3" y1="315" x2="500.3" y2="316.0" stroke="#555" stroke-width="0.4"/>
<line x1="503.5" y1="315" x2="503.5" y2="316.0" stroke="#555" stroke-width="0.4"/>
<ellipse cx="434.30" cy="309.24" rx="1.1" ry="1.5" fill="#111"/>
<ellipse cx="449.96" cy="315.30" rx="1.9" ry="0.95" fill="#111"/>
<text x="439.28" y="327.8" font-size="6.5" text-anchor="middle" fill="#222" textLength="11" lengthAdjust="spacingAndGlyphs">–10<tspan font-size="4.29" baseline-shift="2.73">3</tspan></text>
<text x="452.53" y="327.8" font-size="6.5" text-anchor="middle" font-weight="normal" fill="#222">0</text>
<text x="462.50" y="327.8" font-size="6.5" text-anchor="middle" fill="#222">10<tspan font-size="4.29" baseline-shift="2.73">3</tspan></text>
<text x="483.43" y="327.8" font-size="6.5" text-anchor="middle" fill="#222">10<tspan font-size="4.29" baseline-shift="2.73">4</tspan></text>
<text x="499.80" y="327.8" font-size="6.5" text-anchor="middle" fill="#222">10<tspan font-size="4.29" baseline-shift="2.73">5</tspan></text>
<text x="316.8" y="248" font-size="6.3" text-anchor="middle" font-weight="normal" fill="#222" textLength="57" lengthAdjust="spacingAndGlyphs">Cord blood stem cells</text>
<text x="392.4" y="248" font-size="6.3" text-anchor="middle" font-weight="normal" fill="#222" textLength="32" lengthAdjust="spacingAndGlyphs">Isotype-APC</text>
<text x="467.1" y="247.3" font-size="6.3" text-anchor="middle" fill="#222" textLength="41.7" lengthAdjust="spacingAndGlyphs"><tspan font-style="italic">anti</tspan>-IGSF9-APC</text>
<path d="M304.0 303.6h0.7M315.3 302.9h0.7M315.6 307.7h0.7M317.8 296.2h0.7M314.9 298.5h0.7M306.7 292.7h0.7M320.6 304.0h0.7M325.1 301.1h0.7M312.6 294.7h0.7M318.0 300.3h0.7M324.5 302.4h0.7M309.4 292.1h0.7M300.2 303.2h0.7M310.6 294.7h0.7M300.4 296.9h0.7M323.3 292.1h0.7M319.1 302.7h0.7M316.8 299.1h0.7M305.7 300.8h0.7M314.8 307.3h0.7M312.9 293.8h0.7M323.5 299.7h0.7M308.2 300.3h0.7M303.1 290.2h0.7M322.9 296.2h0.7M320.7 290.7h0.7M311.7 291.2h0.7M320.7 299.1h0.7M309.6 294.5h0.7M304.7 290.6h0.7M317.6 292.9h0.7M301.8 294.5h0.7M311.2 307.7h0.7M309.4 294.9h0.7M325.2 301.9h0.7M311.4 294.8h0.7M305.1 289.4h0.7M311.8 300.1h0.7M301.9 296.5h0.7M303.7 299.2h0.7M308.3 300.6h0.7M320.1 294.9h0.7M309.3 287.7h0.7M304.7 299.7h0.7M320.8 289.0h0.7M325.4 306.1h0.7M308.9 297.9h0.7M317.2 293.2h0.7M308.9 301.9h0.7M312.1 295.6h0.7M314.2 288.6h0.7M311.7 292.5h0.7M303.5 297.5h0.7M318.0 297.6h0.7M312.5 300.7h0.7M310.4 307.6h0.7M304.8 286.2h0.7M314.4 301.3h0.7M309.3 294.8h0.7M308.3 291.3h0.7M320.4 305.0h0.7M306.5 298.4h0.7M311.4 288.9h0.7M318.8 297.7h0.7M325.7 306.0h0.7M323.4 291.8h0.7M302.0 303.8h0.7M301.9 301.1h0.7M303.7 301.5h0.7M300.5 287.9h0.7M322.4 297.3h0.7M311.2 307.4h0.7M320.2 291.0h0.7M318.1 294.5h0.7M311.5 292.9h0.7M305.1 292.7h0.7M306.4 290.2h0.7M322.6 294.3h0.7M314.1 303.8h0.7M317.3 289.4h0.7M324.7 306.5h0.7M321.7 293.2h0.7M321.4 300.1h0.7M299.8 294.3h0.7M317.8 298.0h0.7M324.6 303.4h0.7M321.6 307.6h0.7M308.3 306.0h0.7M299.1 303.6h0.7M301.4 297.0h0.7" stroke="#a8b0e0" stroke-width="0.7" stroke-opacity="0.8" fill="none"/>
<path d="M296.3 306.5h0.8M295.8 301.3h0.8M296.7 308.6h0.8M296.7 301.7h0.8M297.2 306.3h0.8M297.1 305.0h0.8M296.4 309.7h0.8M297.6 301.8h0.8M295.8 309.4h0.8M296.9 306.2h0.8M295.9 309.6h0.8M296.7 306.8h0.8M296.9 304.2h0.8M296.9 306.5h0.8M297.1 307.4h0.8M295.7 303.6h0.8M296.4 310.1h0.8M296.1 310.0h0.8M297.4 309.1h0.8M298.2 306.0h0.8M296.8 310.3h0.8M296.9 309.5h0.8M296.5 311.0h0.8M297.4 305.4h0.8M296.0 305.0h0.8M296.4 310.0h0.8M296.8 305.8h0.8M296.6 302.9h0.8M296.2 304.4h0.8M296.4 302.0h0.8M296.3 309.5h0.8M296.9 306.0h0.8M296.8 305.2h0.8M295.8 309.1h0.8M298.2 307.8h0.8M295.7 307.9h0.8M296.4 305.1h0.8M295.4 305.8h0.8M296.9 300.5h0.8M296.4 304.3h0.8" stroke="#6a80c8" stroke-width="0.8" stroke-opacity="1.0" fill="none"/>
<path d="M331.7 273.3h0.7M336.5 272.5h0.7M335.4 273.7h0.7M333.4 273.1h0.7M335.9 269.6h0.7M333.2 266.2h0.7M330.1 268.2h0.7M335.1 272.3h0.7M334.0 275.6h0.7M330.3 275.9h0.7M333.7 273.8h0.7M336.0 268.2h0.7M331.9 272.5h0.7M333.4 269.0h0.7M333.3 268.5h0.7M333.7 269.7h0.7M336.6 267.4h0.7M334.5 271.3h0.7M336.4 267.7h0.7M332.7 277.1h0.7M332.3 269.7h0.7M332.8 267.6h0.7M335.7 276.3h0.7M333.2 268.4h0.7M331.1 273.3h0.7" stroke="#b0b4e0" stroke-width="0.7" stroke-opacity="1.0" fill="none"/>
<path d="M332.3 299.5h0.8M340.4 298.9h0.8M336.9 297.0h0.8M333.6 295.1h0.8M337.0 299.3h0.8M342.5 296.1h0.8M344.6 292.9h0.8M349.4 301.4h0.8M346.1 304.1h0.8M327.6 296.6h0.8M339.3 301.8h0.8M336.5 291.3h0.8M344.6 296.3h0.8M339.1 295.6h0.8M335.2 290.9h0.8M340.7 294.3h0.8M323.5 298.9h0.8M335.8 301.3h0.8M341.8 291.7h0.8M334.8 297.1h0.8M336.6 292.4h0.8M336.5 301.4h0.8M344.7 303.6h0.8M334.1 294.6h0.8M342.4 297.0h0.8M338.5 299.2h0.8M334.5 303.2h0.8M348.8 300.7h0.8M332.1 298.2h0.8M342.9 300.3h0.8M331.2 301.3h0.8M341.1 299.6h0.8M333.1 296.9h0.8M322.6 296.9h0.8M332.9 295.7h0.8M334.0 295.6h0.8M336.6 297.5h0.8M331.7 296.5h0.8M335.4 299.2h0.8M339.1 295.5h0.8M330.2 289.7h0.8M327.2 298.9h0.8M329.5 304.2h0.8M334.9 295.3h0.8M334.9 294.6h0.8M331.6 297.3h0.8M325.8 297.6h0.8M335.4 293.0h0.8M343.2 298.7h0.8M343.6 294.1h0.8M327.3 291.8h0.8M325.0 288.6h0.8M347.0 294.9h0.8M337.4 294.7h0.8M335.0 304.1h0.8M323.8 292.7h0.8M336.9 293.0h0.8M340.9 302.8h0.8M342.3 300.4h0.8M334.9 301.5h0.8M330.4 291.7h0.8M334.2 295.9h0.8M344.6 292.7h0.8M344.0 293.6h0.8M327.1 289.5h0.8M335.8 290.6h0.8M337.5 297.2h0.8M333.2 288.5h0.8M332.4 299.0h0.8M323.5 300.1h0.8M336.1 294.6h0.8M337.4 299.9h0.8M335.8 293.6h0.8M341.5 294.0h0.8M338.5 301.4h0.8M345.2 304.1h0.8M343.2 297.7h0.8M334.6 297.9h0.8M340.6 293.4h0.8M346.7 290.0h0.8M343.0 291.3h0.8M328.4 294.8h0.8M334.0 291.0h0.8M340.3 296.5h0.8M345.4 292.5h0.8M323.3 300.1h0.8M334.4 301.4h0.8M336.6 305.7h0.8M327.3 288.6h0.8M332.8 303.3h0.8M347.1 291.0h0.8M331.7 288.8h0.8M330.1 292.7h0.8M339.0 302.1h0.8M341.7 298.0h0.8M336.9 305.6h0.8M340.9 304.0h0.8M338.1 300.9h0.8M339.6 296.6h0.8M331.1 295.2h0.8M336.1 295.3h0.8M333.6 293.9h0.8M342.0 295.9h0.8M335.2 296.0h0.8M345.2 294.6h0.8M345.9 293.2h0.8M346.7 299.7h0.8M332.6 299.1h0.8M344.0 292.8h0.8M334.4 298.4h0.8M334.5 295.7h0.8M336.1 298.4h0.8M341.5 303.6h0.8M333.7 304.9h0.8M335.1 290.6h0.8M333.0 295.5h0.8M343.5 288.0h0.8M331.6 296.4h0.8M340.6 298.8h0.8M342.0 296.3h0.8M334.4 302.4h0.8M348.1 298.7h0.8M337.1 293.2h0.8M340.3 289.9h0.8M340.3 307.8h0.8M334.9 296.1h0.8M346.8 296.2h0.8M341.9 305.7h0.8M327.8 293.3h0.8M340.8 297.5h0.8M336.3 296.3h0.8M336.9 298.6h0.8M332.7 295.8h0.8M337.6 292.2h0.8M339.1 287.3h0.8M340.5 296.5h0.8M327.8 303.0h0.8M327.8 306.2h0.8M330.9 302.4h0.8M335.6 304.2h0.8M334.5 301.6h0.8M333.8 288.7h0.8M338.7 299.1h0.8M338.8 304.5h0.8M330.9 290.6h0.8M337.8 293.9h0.8M335.3 297.0h0.8M330.3 301.9h0.8M335.2 305.0h0.8M337.8 301.7h0.8M334.0 294.1h0.8M332.3 293.1h0.8M339.2 297.6h0.8M328.5 290.2h0.8M330.0 288.9h0.8M329.9 290.3h0.8M341.0 291.9h0.8M331.9 296.5h0.8M336.3 298.9h0.8M341.3 299.9h0.8M333.6 302.6h0.8M338.6 293.9h0.8M346.5 291.7h0.8M339.3 302.6h0.8M336.8 298.6h0.8M336.9 300.0h0.8M337.6 297.0h0.8M340.9 288.6h0.8M337.8 295.7h0.8M349.7 298.3h0.8M331.5 299.9h0.8M333.4 291.7h0.8M334.1 299.3h0.8M344.3 301.7h0.8M337.6 296.3h0.8M337.4 302.4h0.8M335.2 302.2h0.8M330.5 297.0h0.8M341.4 300.1h0.8M337.4 294.7h0.8M323.6 295.1h0.8M330.2 295.2h0.8M347.0 293.6h0.8M341.9 296.9h0.8M328.4 297.5h0.8M341.2 291.7h0.8M328.0 295.3h0.8M341.1 294.3h0.8M339.0 299.1h0.8M336.1 299.0h0.8M344.8 296.2h0.8M338.3 292.3h0.8M331.0 296.6h0.8M341.7 294.0h0.8M326.4 301.1h0.8M328.7 297.6h0.8M339.4 292.8h0.8M338.3 301.9h0.8M334.1 300.3h0.8M336.9 292.9h0.8M331.8 294.3h0.8M345.2 302.2h0.8M337.7 290.1h0.8M332.7 295.2h0.8M322.8 296.9h0.8M338.0 291.1h0.8M333.1 295.0h0.8M348.7 300.0h0.8M341.3 297.4h0.8M327.2 301.1h0.8M331.4 288.5h0.8M341.0 295.5h0.8M336.0 299.3h0.8M334.4 298.8h0.8M344.9 295.6h0.8M333.6 297.1h0.8M340.5 295.2h0.8M336.6 294.0h0.8M335.5 299.4h0.8M330.4 296.2h0.8M326.0 293.9h0.8M336.6 299.4h0.8M329.0 296.6h0.8M329.7 298.4h0.8M337.8 299.0h0.8M334.6 290.7h0.8M332.2 291.1h0.8M331.4 296.8h0.8M343.4 294.1h0.8M330.7 297.9h0.8M325.5 301.5h0.8M342.7 301.3h0.8M335.3 300.3h0.8M333.7 301.3h0.8M331.6 293.4h0.8M338.6 295.0h0.8M340.6 293.2h0.8M337.9 292.7h0.8M335.3 306.5h0.8M328.7 291.5h0.8M325.1 296.0h0.8M347.1 295.0h0.8M342.4 296.2h0.8M331.7 305.9h0.8M343.4 288.9h0.8M329.4 298.8h0.8M340.5 296.0h0.8M338.2 299.4h0.8M333.6 301.4h0.8M330.2 300.4h0.8M342.2 297.9h0.8M333.7 296.9h0.8M326.3 288.1h0.8M341.2 293.0h0.8M338.4 297.2h0.8M324.1 293.0h0.8M334.2 299.1h0.8M336.5 291.4h0.8M332.4 297.5h0.8M327.4 295.1h0.8M332.3 287.6h0.8M347.7 300.9h0.8M332.9 301.2h0.8M328.9 303.8h0.8M333.5 297.6h0.8M332.1 297.4h0.8M338.3 297.1h0.8M330.4 300.4h0.8M339.8 297.0h0.8M343.2 293.7h0.8M344.7 296.3h0.8M346.3 295.0h0.8M334.3 297.9h0.8M343.4 303.4h0.8M332.9 293.8h0.8M341.2 302.5h0.8M340.8 295.5h0.8M344.7 296.9h0.8M337.2 299.8h0.8M332.2 287.0h0.8M337.5 300.2h0.8M339.0 299.4h0.8M337.1 301.6h0.8M336.8 303.6h0.8M336.4 300.5h0.8M332.3 298.3h0.8M338.9 297.6h0.8M346.5 297.2h0.8M343.6 298.6h0.8M343.4 293.0h0.8M333.5 301.3h0.8M330.5 298.7h0.8M339.9 297.9h0.8M339.0 299.4h0.8M334.4 298.8h0.8M332.5 295.0h0.8M325.3 296.5h0.8M324.5 297.1h0.8M337.4 292.2h0.8M336.5 298.3h0.8" stroke="#5060c8" stroke-width="0.8" stroke-opacity="0.7" fill="none"/>
<path d="M328.7 301.3h0.8M329.6 305.2h0.8M333.6 309.7h0.8M322.4 305.0h0.8M331.7 302.1h0.8M331.3 310.2h0.8M330.4 308.0h0.8M334.1 302.7h0.8M321.1 307.4h0.8M336.0 298.8h0.8M329.2 301.9h0.8M330.8 304.2h0.8M334.4 302.3h0.8M337.5 298.9h0.8M330.8 311.9h0.8M329.6 305.9h0.8M333.5 303.0h0.8M322.6 304.6h0.8M332.8 298.0h0.8M328.1 305.7h0.8M323.9 300.0h0.8M331.6 307.4h0.8M334.5 302.1h0.8M332.0 298.8h0.8M324.3 305.6h0.8M328.5 301.0h0.8M322.8 303.3h0.8M338.7 298.0h0.8M326.0 307.3h0.8M322.6 302.2h0.8M330.3 307.4h0.8M329.7 309.4h0.8M329.9 303.7h0.8M331.7 305.0h0.8M324.2 301.2h0.8M329.1 305.0h0.8M325.3 301.9h0.8M327.1 305.0h0.8M328.3 305.8h0.8M331.5 301.3h0.8M328.9 300.3h0.8M330.4 306.4h0.8M326.2 298.7h0.8M332.0 303.1h0.8M329.9 305.4h0.8M331.5 306.8h0.8M328.2 297.5h0.8M328.1 303.1h0.8M328.4 305.2h0.8M329.0 307.9h0.8M327.5 304.0h0.8M328.6 310.3h0.8M326.3 301.0h0.8M328.5 306.3h0.8M330.1 303.5h0.8M324.3 297.8h0.8M329.2 303.3h0.8M336.9 305.1h0.8M331.7 306.9h0.8M326.5 300.3h0.8M328.6 308.4h0.8M333.9 302.3h0.8M325.2 306.8h0.8M334.3 300.7h0.8M336.3 301.7h0.8M332.9 303.4h0.8M328.7 302.2h0.8M332.7 305.8h0.8M333.1 303.2h0.8M326.7 310.4h0.8M336.7 303.4h0.8M325.5 308.5h0.8M330.5 304.2h0.8M333.3 305.0h0.8M330.4 309.9h0.8M322.6 305.9h0.8M326.2 304.2h0.8M329.3 304.8h0.8M339.1 302.8h0.8M333.5 305.9h0.8M331.2 302.5h0.8M332.5 304.8h0.8M335.7 306.5h0.8M335.9 305.5h0.8M330.7 302.2h0.8M339.8 308.0h0.8M330.4 302.9h0.8M332.3 308.1h0.8M332.0 306.8h0.8M331.0 305.1h0.8M325.0 304.4h0.8M330.2 303.8h0.8M329.1 304.9h0.8M327.7 303.4h0.8M324.8 310.9h0.8M326.5 300.4h0.8M327.9 302.8h0.8M325.8 296.7h0.8M336.5 307.1h0.8M328.5 305.7h0.8M325.6 299.2h0.8M331.3 305.7h0.8M327.3 304.0h0.8M334.2 304.5h0.8M330.7 305.7h0.8M321.8 300.1h0.8M325.0 304.7h0.8M327.5 298.4h0.8M333.5 303.4h0.8M333.9 310.0h0.8M323.5 300.2h0.8M334.3 308.2h0.8M331.6 305.1h0.8M332.7 306.0h0.8M325.0 306.2h0.8M333.9 302.8h0.8M326.4 302.5h0.8M327.7 305.6h0.8M333.1 304.1h0.8M328.8 298.7h0.8M328.3 301.0h0.8M327.8 305.0h0.8M326.5 302.4h0.8M325.5 303.2h0.8M328.9 307.0h0.8M322.3 306.7h0.8M332.6 302.4h0.8M327.3 304.6h0.8M332.1 303.5h0.8M329.4 304.1h0.8M325.7 304.8h0.8M332.3 304.2h0.8M325.5 304.0h0.8M329.6 304.9h0.8M328.3 306.5h0.8M334.3 306.5h0.8M330.9 307.6h0.8M329.8 303.5h0.8M324.3 304.1h0.8M334.8 301.2h0.8M333.1 300.2h0.8M331.2 309.4h0.8M330.2 300.5h0.8M331.1 303.6h0.8M333.1 302.5h0.8M323.1 302.6h0.8M332.3 307.0h0.8M331.1 304.1h0.8M332.7 303.4h0.8M328.2 304.7h0.8M334.3 302.5h0.8M332.0 302.1h0.8M327.1 304.5h0.8M324.7 301.5h0.8M325.3 302.2h0.8M326.4 310.9h0.8M332.4 304.2h0.8M324.7 297.0h0.8M331.7 302.2h0.8M334.1 302.8h0.8M324.8 302.1h0.8M323.9 299.8h0.8M332.8 302.4h0.8M332.7 302.4h0.8M329.1 302.4h0.8M327.8 302.1h0.8M335.9 303.8h0.8M322.2 309.0h0.8M335.0 307.3h0.8M329.6 303.6h0.8M328.1 304.4h0.8M331.8 304.0h0.8M326.7 301.2h0.8M336.6 309.0h0.8M325.0 302.1h0.8M329.8 305.7h0.8M329.5 304.7h0.8M331.4 307.3h0.8M324.8 307.2h0.8M331.7 305.6h0.8M324.0 303.3h0.8M328.9 305.9h0.8M332.7 306.0h0.8M324.8 307.7h0.8M330.2 306.7h0.8M329.9 302.0h0.8M340.4 305.9h0.8M333.0 302.7h0.8M329.1 307.3h0.8M331.7 309.1h0.8M334.7 300.9h0.8M323.8 307.4h0.8M332.3 303.3h0.8M328.8 302.4h0.8M337.1 303.5h0.8M324.5 306.7h0.8M329.6 305.0h0.8M328.4 303.9h0.8M322.5 305.6h0.8M327.2 302.9h0.8" stroke="#5868c8" stroke-width="0.8" stroke-opacity="0.7" fill="none"/>
<g filter="url(#b1)">
<path d="M326,296 Q328,289 337,288.5 Q345,288 349,292 Q350,298 347,302 Q341,305 333,304.5 Q326,303 326,296 Z" fill="#2a3aa8" fill-opacity="0.9"/>
<ellipse cx="344" cy="296" rx="3.5" ry="5" fill="#5a48b8" fill-opacity="0.7"/>
</g>
<path d="M338.1 302.6h0.8M339.7 301.4h0.8M329.6 298.4h0.8M338.7 301.1h0.8M331.6 296.2h0.8M332.3 302.0h0.8M343.5 295.1h0.8M334.9 298.0h0.8M329.6 296.5h0.8M341.9 300.4h0.8M331.1 294.2h0.8M335.1 290.7h0.8M338.1 297.5h0.8M326.6 296.0h0.8M331.3 295.9h0.8M329.8 302.9h0.8M329.2 300.3h0.8M337.3 303.3h0.8M335.5 297.0h0.8M336.4 288.9h0.8M333.7 292.2h0.8M334.9 304.0h0.8M330.6 298.9h0.8M343.1 301.1h0.8M333.1 289.5h0.8M338.7 299.5h0.8M333.6 295.2h0.8M348.1 290.2h0.8M332.3 294.4h0.8M325.0 294.1h0.8M330.3 302.4h0.8M323.7 291.1h0.8M337.7 290.4h0.8M327.4 292.9h0.8M334.8 299.0h0.8M331.4 295.9h0.8M340.9 296.4h0.8M341.0 294.5h0.8M339.3 302.5h0.8M333.6 295.6h0.8M334.7 299.0h0.8M327.4 297.2h0.8M331.8 303.2h0.8M323.8 299.8h0.8M333.7 293.9h0.8M336.8 296.0h0.8M336.2 298.1h0.8M344.3 295.3h0.8M348.6 302.2h0.8M346.8 297.9h0.8M337.8 292.7h0.8M345.2 292.1h0.8M330.3 297.1h0.8M337.5 298.5h0.8M327.7 295.6h0.8M339.3 302.1h0.8M341.2 298.8h0.8M334.0 294.7h0.8M332.3 296.7h0.8M339.6 294.9h0.8" stroke="#3040b0" stroke-width="0.8" stroke-opacity="0.5" fill="none"/>
<g filter="url(#b2)">
<ellipse cx="336.3" cy="296.6" rx="6.0" ry="4.2" fill="#2fa8d8"/>
<ellipse cx="346.6" cy="296.5" rx="1.8" ry="3.8" fill="#40c8d8"/>
<ellipse cx="336.3" cy="296.6" rx="4.3" ry="3.0" fill="#6cc060"/>
<ellipse cx="336.3" cy="296.6" rx="2.7" ry="1.9" fill="#e0d040"/>
<ellipse cx="336.4" cy="296.7" rx="1.3" ry="1.0" fill="#e04a2a"/>
</g>
<ellipse cx="335.1" cy="269" rx="13.6" ry="12.5" fill="none" stroke="#333" stroke-width="0.8"/>
<text x="309" y="265" font-size="6.2" text-anchor="middle" font-weight="normal" fill="#222" textLength="22.4" lengthAdjust="spacingAndGlyphs">stem cell</text>
<text x="308.9" y="273.3" font-size="6.2" text-anchor="middle" font-weight="normal" fill="#222">0.11</text>
<text x="272.5" y="289" font-size="7.2" font-weight="bold" text-anchor="middle" fill="#111" textLength="25.7" lengthAdjust="spacingAndGlyphs" transform="rotate(-90 272.5 289)" dy="2.52">CD34-FITC</text>
<text x="263.2" y="287.6" font-size="6.0" font-weight="normal" text-anchor="middle" fill="#333" textLength="53.9" lengthAdjust="spacingAndGlyphs" transform="rotate(-90 263.2 287.6)" dy="2.10">Umbilical Cord Blood</text>
<line x1="268.5" y1="255.5" x2="268.5" y2="321.6" stroke="#333" stroke-width="0.9"/>
<rect x="378.5" y="257.5" width="48.0" height="28.0" stroke="#555" stroke-width="1.0" fill="none"/>
<line x1="426" y1="257" x2="426" y2="285.5" stroke="#999" stroke-width="1.0"/>
<line x1="372.8" y1="268.7" x2="372.8" y2="280.8" stroke="#c0c4d8" stroke-width="0.9"/>
<text x="404.7" y="270.9" font-size="6.2" text-anchor="middle" font-weight="normal" fill="#222">IGSF9</text>
<text x="404" y="276.2" font-size="6.2" text-anchor="middle" font-weight="normal" fill="#222">0</text>
<text x="390.1" y="283.4" font-size="6.2" text-anchor="middle" font-weight="normal" fill="#222">0</text>
<rect x="456.5" y="255.5" width="47.0" height="29.0" stroke="#555" stroke-width="1.0" fill="none"/>
<line x1="450" y1="266" x2="450" y2="280" stroke="#c0c4d8" stroke-width="0.9"/>
<text x="480.8" y="269.3" font-size="6.2" text-anchor="middle" font-weight="normal" fill="#222">IGSF9</text>
<text x="481.8" y="274.7" font-size="6.2" text-anchor="middle" font-weight="normal" fill="#222">0</text>
<text x="463.8" y="283" font-size="6.2" text-anchor="middle" font-weight="normal" fill="#222">0</text>
<text x="12.1" y="345.4" font-size="10.5" text-anchor="start" font-weight="bold" fill="#111">D</text>
<line x1="40.2" y1="355.8" x2="40.2" y2="490.6" stroke="#333" stroke-width="1.2"/>
<line x1="39.6" y1="490.6" x2="356" y2="490.6" stroke="#555" stroke-width="1.2"/>
<line x1="37" y1="490.2" x2="40.2" y2="490.2" stroke="#333" stroke-width="0.8"/>
<text x="34.2" y="492.5" font-size="6.0" text-anchor="end" font-weight="normal" fill="#333">0</text>
<line x1="37" y1="463.9" x2="40.2" y2="463.9" stroke="#333" stroke-width="0.8"/>
<text x="34.2" y="466.2" font-size="6.0" text-anchor="end" font-weight="normal" fill="#333">20</text>
<line x1="37" y1="437.59999999999997" x2="40.2" y2="437.59999999999997" stroke="#333" stroke-width="0.8"/>
<text x="34.2" y="439.9" font-size="6.0" text-anchor="end" font-weight="normal" fill="#333">40</text>
<line x1="37" y1="411.29999999999995" x2="40.2" y2="411.29999999999995" stroke="#333" stroke-width="0.8"/>
<text x="34.2" y="413.59999999999997" font-size="6.0" text-anchor="end" font-weight="normal" fill="#333">60</text>
<line x1="37" y1="385.0" x2="40.2" y2="385.0" stroke="#333" stroke-width="0.8"/>
<text x="34.2" y="387.3" font-size="6.0" text-anchor="end" font-weight="normal" fill="#333">80</text>
<line x1="37" y1="358.7" x2="40.2" y2="358.7" stroke="#333" stroke-width="0.8"/>
<text x="34.2" y="361.0" font-size="6.0" text-anchor="end" font-weight="normal" fill="#333">100</text>
<text x="16.6" y="423.3" font-size="6.4" font-weight="normal" text-anchor="middle" fill="#333" textLength="43.5" lengthAdjust="spacingAndGlyphs" transform="rotate(-90 16.6 423.3)" dy="2.24">IGSF9+ cells (%)</text>
<rect x="47.5" y="489.10" width="12.5" height="2.8" rx="1.40" fill="#1f4f8f"/>
<ellipse cx="49.43" cy="491.00" rx="2.6" ry="1.3" fill="none" stroke="#16427e" stroke-width="0.5"/>
<ellipse cx="51.84" cy="490.24" rx="2.6" ry="1.3" fill="none" stroke="#16427e" stroke-width="0.5"/>
<ellipse cx="53.93" cy="489.98" rx="2.6" ry="1.3" fill="none" stroke="#16427e" stroke-width="0.5"/>
<ellipse cx="56.60" cy="490.73" rx="2.6" ry="1.3" fill="none" stroke="#16427e" stroke-width="0.5"/>
<ellipse cx="58.04" cy="490.07" rx="2.6" ry="1.3" fill="none" stroke="#16427e" stroke-width="0.5"/>
<rect x="66.7" y="489.10" width="13.5" height="2.8" rx="1.40" fill="#1f4f8f"/>
<ellipse cx="67.81" cy="490.32" rx="2.6" ry="1.3" fill="none" stroke="#16427e" stroke-width="0.5"/>
<ellipse cx="71.26" cy="490.85" rx="2.6" ry="1.3" fill="none" stroke="#16427e" stroke-width="0.5"/>
<ellipse cx="73.28" cy="490.87" rx="2.6" ry="1.3" fill="none" stroke="#16427e" stroke-width="0.5"/>
<ellipse cx="75.59" cy="490.55" rx="2.6" ry="1.3" fill="none" stroke="#16427e" stroke-width="0.5"/>
<ellipse cx="78.59" cy="489.99" rx="2.6" ry="1.3" fill="none" stroke="#16427e" stroke-width="0.5"/>
<rect x="101.3" y="488.25" width="12.5" height="4.5" rx="2.25" fill="#1f4f8f"/>
<ellipse cx="103.22" cy="490.69" rx="2.6" ry="1.3" fill="none" stroke="#16427e" stroke-width="0.5"/>
<ellipse cx="105.67" cy="490.67" rx="2.6" ry="1.3" fill="none" stroke="#16427e" stroke-width="0.5"/>
<ellipse cx="107.67" cy="490.05" rx="2.6" ry="1.3" fill="none" stroke="#16427e" stroke-width="0.5"/>
<ellipse cx="109.90" cy="490.98" rx="2.6" ry="1.3" fill="none" stroke="#16427e" stroke-width="0.5"/>
<ellipse cx="112.36" cy="490.67" rx="2.6" ry="1.3" fill="none" stroke="#16427e" stroke-width="0.5"/>
<rect x="120.6" y="488.25" width="14.400000000000006" height="4.5" rx="2.25" fill="#1f4f8f"/>
<ellipse cx="122.06" cy="490.33" rx="2.6" ry="1.3" fill="none" stroke="#16427e" stroke-width="0.5"/>
<ellipse cx="124.46" cy="490.16" rx="2.6" ry="1.3" fill="none" stroke="#16427e" stroke-width="0.5"/>
<ellipse cx="127.49" cy="490.01" rx="2.6" ry="1.3" fill="none" stroke="#16427e" stroke-width="0.5"/>
<ellipse cx="130.20" cy="490.81" rx="2.6" ry="1.3" fill="none" stroke="#16427e" stroke-width="0.5"/>
<ellipse cx="134.00" cy="490.74" rx="2.6" ry="1.3" fill="none" stroke="#16427e" stroke-width="0.5"/>
<rect x="154.2" y="489.00" width="12.800000000000011" height="2.6" rx="1.30" fill="#1f4f8f"/>
<ellipse cx="156.03" cy="489.95" rx="2.6" ry="1.3" fill="none" stroke="#16427e" stroke-width="0.5"/>
<ellipse cx="158.50" cy="490.16" rx="2.6" ry="1.3" fill="none" stroke="#16427e" stroke-width="0.5"/>
<ellipse cx="160.95" cy="489.99" rx="2.6" ry="1.3" fill="none" stroke="#16427e" stroke-width="0.5"/>
<ellipse cx="162.85" cy="490.33" rx="2.6" ry="1.3" fill="none" stroke="#16427e" stroke-width="0.5"/>
<ellipse cx="165.22" cy="490.01" rx="2.6" ry="1.3" fill="none" stroke="#16427e" stroke-width="0.5"/>
<rect x="176.2" y="489.00" width="11.5" height="2.6" rx="1.30" fill="#1f4f8f"/>
<ellipse cx="177.93" cy="490.65" rx="2.6" ry="1.3" fill="none" stroke="#16427e" stroke-width="0.5"/>
<ellipse cx="181.02" cy="490.49" rx="2.6" ry="1.3" fill="none" stroke="#16427e" stroke-width="0.5"/>
<ellipse cx="183.22" cy="490.26" rx="2.6" ry="1.3" fill="none" stroke="#16427e" stroke-width="0.5"/>
<ellipse cx="186.29" cy="490.41" rx="2.6" ry="1.3" fill="none" stroke="#16427e" stroke-width="0.5"/>
<rect x="208.5" y="489.00" width="12.699999999999989" height="2.6" rx="1.30" fill="#1f4f8f"/>
<ellipse cx="210.42" cy="490.38" rx="2.6" ry="1.3" fill="none" stroke="#16427e" stroke-width="0.5"/>
<ellipse cx="212.89" cy="490.27" rx="2.6" ry="1.3" fill="none" stroke="#16427e" stroke-width="0.5"/>
<ellipse cx="214.80" cy="489.73" rx="2.6" ry="1.3" fill="none" stroke="#16427e" stroke-width="0.5"/>
<ellipse cx="217.10" cy="490.28" rx="2.6" ry="1.3" fill="none" stroke="#16427e" stroke-width="0.5"/>
<ellipse cx="219.21" cy="490.23" rx="2.6" ry="1.3" fill="none" stroke="#16427e" stroke-width="0.5"/>
<rect x="228.2" y="489.00" width="11.5" height="2.6" rx="1.30" fill="#1f4f8f"/>
<ellipse cx="229.32" cy="490.02" rx="2.6" ry="1.3" fill="none" stroke="#16427e" stroke-width="0.5"/>
<ellipse cx="232.92" cy="490.80" rx="2.6" ry="1.3" fill="none" stroke="#16427e" stroke-width="0.5"/>
<ellipse cx="234.98" cy="490.41" rx="2.6" ry="1.3" fill="none" stroke="#16427e" stroke-width="0.5"/>
<ellipse cx="238.19" cy="489.76" rx="2.6" ry="1.3" fill="none" stroke="#16427e" stroke-width="0.5"/>
<rect x="262.5" y="486.55" width="13.0" height="5.5" rx="2.75" fill="#1f4f8f"/>
<ellipse cx="263.80" cy="489.34" rx="2.6" ry="1.3" fill="none" stroke="#16427e" stroke-width="0.5"/>
<ellipse cx="266.43" cy="489.38" rx="2.6" ry="1.3" fill="none" stroke="#16427e" stroke-width="0.5"/>
<ellipse cx="268.57" cy="489.44" rx="2.6" ry="1.3" fill="none" stroke="#16427e" stroke-width="0.5"/>
<ellipse cx="271.61" cy="488.93" rx="2.6" ry="1.3" fill="none" stroke="#16427e" stroke-width="0.5"/>
<ellipse cx="274.07" cy="489.82" rx="2.6" ry="1.3" fill="none" stroke="#16427e" stroke-width="0.5"/>
<rect x="315.5" y="488.20" width="15.0" height="4.0" rx="2.00" fill="#1f4f8f"/>
<ellipse cx="317.39" cy="490.34" rx="2.6" ry="1.3" fill="none" stroke="#16427e" stroke-width="0.5"/>
<ellipse cx="319.42" cy="490.50" rx="2.6" ry="1.3" fill="none" stroke="#16427e" stroke-width="0.5"/>
<ellipse cx="321.75" cy="490.45" rx="2.6" ry="1.3" fill="none" stroke="#16427e" stroke-width="0.5"/>
<ellipse cx="324.07" cy="490.27" rx="2.6" ry="1.3" fill="none" stroke="#16427e" stroke-width="0.5"/>
<ellipse cx="326.83" cy="490.30" rx="2.6" ry="1.3" fill="none" stroke="#16427e" stroke-width="0.5"/>
<ellipse cx="329.10" cy="490.06" rx="2.6" ry="1.3" fill="none" stroke="#16427e" stroke-width="0.5"/>
<rect x="283.2" y="434" width="11.6" height="56.6" fill="#9ca6d6"/>
<line x1="289" y1="430.5" x2="289" y2="437.5" stroke="#333" stroke-width="0.6"/>
<line x1="287.3" y1="430.5" x2="290.7" y2="430.5" stroke="#333" stroke-width="0.6"/>
<ellipse cx="289" cy="367.2" rx="3.6" ry="2.0" fill="#b4c8ec" fill-opacity="0.45" stroke="#24528f" stroke-width="0.9"/>
<ellipse cx="289" cy="374.8" rx="3.6" ry="2.0" fill="#b4c8ec" fill-opacity="0.45" stroke="#24528f" stroke-width="0.9"/>
<ellipse cx="289" cy="390" rx="3.6" ry="2.0" fill="#b4c8ec" fill-opacity="0.45" stroke="#24528f" stroke-width="0.9"/>
<ellipse cx="289" cy="395.6" rx="3.6" ry="2.0" fill="#b4c8ec" fill-opacity="0.45" stroke="#24528f" stroke-width="0.9"/>
<ellipse cx="286.5" cy="407" rx="3.6" ry="2.0" fill="#b4c8ec" fill-opacity="0.45" stroke="#24528f" stroke-width="0.9"/>
<ellipse cx="290" cy="409.6" rx="3.6" ry="2.0" fill="#b4c8ec" fill-opacity="0.45" stroke="#24528f" stroke-width="0.9"/>
<ellipse cx="288.5" cy="411.5" rx="3.6" ry="2.0" fill="#b4c8ec" fill-opacity="0.45" stroke="#24528f" stroke-width="0.9"/>
<ellipse cx="287.5" cy="416" rx="3.6" ry="2.0" fill="#b4c8ec" fill-opacity="0.45" stroke="#24528f" stroke-width="0.9"/>
<ellipse cx="290" cy="418" rx="3.6" ry="2.0" fill="#b4c8ec" fill-opacity="0.45" stroke="#24528f" stroke-width="0.9"/>
<ellipse cx="289" cy="420.5" rx="3.6" ry="2.0" fill="#b4c8ec" fill-opacity="0.45" stroke="#24528f" stroke-width="0.9"/>
<ellipse cx="289" cy="425.7" rx="3.6" ry="2.0" fill="#b4c8ec" fill-opacity="0.45" stroke="#24528f" stroke-width="0.9"/>
<ellipse cx="287.9" cy="430.9" rx="3.6" ry="2.0" fill="#b4c8ec" fill-opacity="0.45" stroke="#24528f" stroke-width="0.9"/>
<ellipse cx="290.6" cy="432.5" rx="3.6" ry="2.0" fill="#b4c8ec" fill-opacity="0.45" stroke="#24528f" stroke-width="0.9"/>
<ellipse cx="287.2" cy="434.7" rx="3.6" ry="2.0" fill="#b4c8ec" fill-opacity="0.45" stroke="#24528f" stroke-width="0.9"/>
<ellipse cx="292.7" cy="434.7" rx="3.6" ry="2.0" fill="#b4c8ec" fill-opacity="0.45" stroke="#24528f" stroke-width="0.9"/>
<ellipse cx="289.3" cy="439" rx="3.6" ry="2.0" fill="#b4c8ec" fill-opacity="0.45" stroke="#24528f" stroke-width="0.9"/>
<ellipse cx="289" cy="443.8" rx="3.6" ry="2.0" fill="#b4c8ec" fill-opacity="0.45" stroke="#24528f" stroke-width="0.9"/>
<ellipse cx="287.9" cy="447.2" rx="3.6" ry="2.0" fill="#b4c8ec" fill-opacity="0.45" stroke="#24528f" stroke-width="0.9"/>
<ellipse cx="288.6" cy="450.6" rx="3.6" ry="2.0" fill="#b4c8ec" fill-opacity="0.45" stroke="#24528f" stroke-width="0.9"/>
<ellipse cx="287.9" cy="453.3" rx="3.6" ry="2.0" fill="#b4c8ec" fill-opacity="0.45" stroke="#24528f" stroke-width="0.9"/>
<ellipse cx="286.5" cy="458.7" rx="3.6" ry="2.0" fill="#b4c8ec" fill-opacity="0.45" stroke="#24528f" stroke-width="0.9"/>
<ellipse cx="290" cy="458.7" rx="3.6" ry="2.0" fill="#b4c8ec" fill-opacity="0.45" stroke="#24528f" stroke-width="0.9"/>
<ellipse cx="292.4" cy="460.8" rx="3.6" ry="2.0" fill="#b4c8ec" fill-opacity="0.45" stroke="#24528f" stroke-width="0.9"/>
<ellipse cx="287.2" cy="464.2" rx="3.6" ry="2.0" fill="#b4c8ec" fill-opacity="0.45" stroke="#24528f" stroke-width="0.9"/>
<ellipse cx="288.6" cy="471" rx="3.6" ry="2.0" fill="#b4c8ec" fill-opacity="0.45" stroke="#24528f" stroke-width="0.9"/>
<ellipse cx="286.5" cy="480.5" rx="3.6" ry="2.0" fill="#b4c8ec" fill-opacity="0.45" stroke="#24528f" stroke-width="0.9"/>
<ellipse cx="291.3" cy="480.5" rx="3.6" ry="2.0" fill="#b4c8ec" fill-opacity="0.45" stroke="#24528f" stroke-width="0.9"/>
<ellipse cx="288.6" cy="483.2" rx="3.6" ry="2.0" fill="#b4c8ec" fill-opacity="0.45" stroke="#24528f" stroke-width="0.9"/>
<rect x="337" y="464.4" width="11.4" height="26.2" fill="#9ca6d6"/>
<line x1="343" y1="454" x2="343" y2="466" stroke="#333" stroke-width="0.7"/>
<line x1="340.5" y1="454" x2="345.5" y2="454" stroke="#333" stroke-width="0.7"/>
<rect x="339.80" y="374.20" width="6.2" height="4.2" rx="0.6" fill="none" stroke="#24528f" stroke-width="0.9"/>
<rect x="339.80" y="395.30" width="6.2" height="4.2" rx="0.6" fill="none" stroke="#24528f" stroke-width="0.9"/>
<rect x="339.80" y="425.50" width="6.2" height="4.2" rx="0.6" fill="none" stroke="#24528f" stroke-width="0.9"/>
<rect x="339.80" y="432.60" width="6.2" height="4.2" rx="0.6" fill="none" stroke="#24528f" stroke-width="0.9"/>
<rect x="339.90" y="467.90" width="6.2" height="4.2" rx="0.6" fill="none" stroke="#24528f" stroke-width="0.9"/>
<rect x="339.90" y="469.90" width="6.2" height="4.2" rx="0.6" fill="none" stroke="#24528f" stroke-width="0.9"/>
<rect x="339.90" y="480.90" width="6.2" height="4.2" rx="0.6" fill="none" stroke="#24528f" stroke-width="0.9"/>
<rect x="336.90" y="485.90" width="6.2" height="4.2" rx="0.6" fill="none" stroke="#24528f" stroke-width="0.9"/>
<rect x="342.90" y="485.90" width="6.2" height="4.2" rx="0.6" fill="none" stroke="#24528f" stroke-width="0.9"/>
<rect x="339.90" y="487.40" width="6.2" height="4.2" rx="0.6" fill="none" stroke="#24528f" stroke-width="0.9"/>
<rect x="335.90" y="487.90" width="6.2" height="4.2" rx="0.6" fill="none" stroke="#24528f" stroke-width="0.9"/>
<rect x="343.90" y="487.90" width="6.2" height="4.2" rx="0.6" fill="none" stroke="#24528f" stroke-width="0.9"/>
<rect x="338" y="486.5" width="10" height="4" fill="#1f4f8f"/>
<rect x="339.5" y="468.5" width="7" height="4" fill="#2a5b9c" fill-opacity="0.7"/>
<text x="278.1" y="355.7" font-size="6.3" text-anchor="middle" fill="#444" textLength="25" lengthAdjust="spacingAndGlyphs"><tspan font-style="italic">P</tspan> &lt; .0001</text>
<polyline points="269.5,363.8 269.5,359.5 287.5,359.5 287.5,363.8" fill="none" stroke="#333" stroke-width="0.7"/>
<text x="335.8" y="356" font-size="6.3" text-anchor="middle" fill="#444" textLength="25" lengthAdjust="spacingAndGlyphs"><tspan font-style="italic">P</tspan> &lt; .0001</text>
<polyline points="327.2,364.2 327.2,360.3 344.3,360.3 344.3,364.2" fill="none" stroke="#333" stroke-width="0.7"/>
<text x="53.55" y="502.2" font-size="6.4" text-anchor="middle" font-weight="normal" fill="#333" textLength="18.699999999999996" lengthAdjust="spacingAndGlyphs">Isotype</text>
<text x="74.44999999999999" y="502.2" font-size="6.4" text-anchor="middle" font-weight="normal" fill="#333" textLength="17.299999999999997" lengthAdjust="spacingAndGlyphs">IGSF9</text>
<text x="107.25" y="502.2" font-size="6.4" text-anchor="middle" font-weight="normal" fill="#333" textLength="18.5" lengthAdjust="spacingAndGlyphs">Isotype</text>
<text x="127.75" y="502.2" font-size="6.4" text-anchor="middle" font-weight="normal" fill="#333" textLength="17.5" lengthAdjust="spacingAndGlyphs">IGSF9</text>
<text x="161.2" y="502.2" font-size="6.4" text-anchor="middle" font-weight="normal" fill="#333" textLength="18.400000000000006" lengthAdjust="spacingAndGlyphs">Isotype</text>
<text x="181.95" y="502.2" font-size="6.4" text-anchor="middle" font-weight="normal" fill="#333" textLength="18.5" lengthAdjust="spacingAndGlyphs">IGSF9</text>
<text x="215.25" y="502.2" font-size="6.4" text-anchor="middle" font-weight="normal" fill="#333" textLength="18.899999999999977" lengthAdjust="spacingAndGlyphs">Isotype</text>
<text x="235.65" y="502.2" font-size="6.4" text-anchor="middle" font-weight="normal" fill="#333" textLength="17.30000000000001" lengthAdjust="spacingAndGlyphs">IGSF9</text>
<text x="268.125" y="502.2" font-size="6.4" text-anchor="middle" font-weight="normal" fill="#333" textLength="18.75" lengthAdjust="spacingAndGlyphs">Isotype</text>
<text x="288.75" y="502.2" font-size="6.4" text-anchor="middle" font-weight="normal" fill="#333" textLength="17.5" lengthAdjust="spacingAndGlyphs">IGSF9</text>
<text x="321.875" y="502.2" font-size="6.4" text-anchor="middle" font-weight="normal" fill="#333" textLength="18.75" lengthAdjust="spacingAndGlyphs">Isotype</text>
<text x="342.5" y="502.2" font-size="6.4" text-anchor="middle" font-weight="normal" fill="#333" textLength="17.5" lengthAdjust="spacingAndGlyphs">IGSF9</text>
<line x1="42.7" y1="506" x2="85.4" y2="506" stroke="#444" stroke-width="0.7"/>
<line x1="96.2" y1="506" x2="139" y2="506" stroke="#444" stroke-width="0.7"/>
<line x1="150.8" y1="506" x2="192.8" y2="506" stroke="#444" stroke-width="0.7"/>
<line x1="203.4" y1="506" x2="246.6" y2="506" stroke="#444" stroke-width="0.7"/>
<line x1="257" y1="506" x2="300" y2="506" stroke="#444" stroke-width="0.7"/>
<line x1="307.5" y1="506" x2="357" y2="506" stroke="#444" stroke-width="0.7"/>
<text x="63.9" y="514.6" font-size="6.4" text-anchor="middle" font-weight="normal" fill="#333" textLength="16.1" lengthAdjust="spacingAndGlyphs">T cells</text>
<text x="118" y="514.6" font-size="6.4" text-anchor="middle" font-weight="normal" fill="#333" textLength="15" lengthAdjust="spacingAndGlyphs">B cells</text>
<text x="171.6" y="514.6" font-size="6.4" text-anchor="middle" font-weight="normal" fill="#333" textLength="33.2" lengthAdjust="spacingAndGlyphs">Myeloid cells</text>
<text x="225" y="514.6" font-size="6.4" text-anchor="middle" font-weight="normal" fill="#333" textLength="26" lengthAdjust="spacingAndGlyphs">stem cells</text>
<text x="278.75" y="514.6" font-size="6.4" text-anchor="middle" font-weight="normal" fill="#333" textLength="25" lengthAdjust="spacingAndGlyphs">AML cells</text>
<text x="332.25" y="514.6" font-size="6.4" text-anchor="middle" font-weight="normal" fill="#333" textLength="50.5" lengthAdjust="spacingAndGlyphs">Leukemia stem cells</text>
<line x1="53.3" y1="518.3" x2="190.5" y2="518.3" stroke="#444" stroke-width="0.7"/>
<line x1="203.4" y1="518.3" x2="243.2" y2="518.3" stroke="#444" stroke-width="0.7"/>
<line x1="257" y1="518.3" x2="354.5" y2="518.3" stroke="#444" stroke-width="0.7"/>
<text x="121" y="526.9" font-size="6.4" text-anchor="middle" font-weight="normal" fill="#333" textLength="38.5" lengthAdjust="spacingAndGlyphs">Healthy donors</text>
<text x="224" y="526.6" font-size="6.4" text-anchor="middle" font-weight="normal" fill="#333" textLength="53.5" lengthAdjust="spacingAndGlyphs">Umbilical Cord Blood</text>
<text x="305.4" y="526.9" font-size="6.4" text-anchor="middle" font-weight="normal" fill="#333" textLength="34.3" lengthAdjust="spacingAndGlyphs">AML patients</text>
<text x="367.1" y="345.4" font-size="10.5" text-anchor="start" font-weight="bold" fill="#111">E</text>
<rect x="369.5" y="359.5" width="70.0" height="66.0" stroke="#c4c4c4" stroke-width="1.0" fill="none"/>
<line x1="368.0" y1="362.2" x2="370.7" y2="362.2" stroke="#444" stroke-width="0.9"/>
<line x1="368.7" y1="365.3914893617021" x2="370.3" y2="365.3914893617021" stroke="#888" stroke-width="0.5"/>
<line x1="368.7" y1="368.58297872340427" x2="370.3" y2="368.58297872340427" stroke="#888" stroke-width="0.5"/>
<line x1="368.7" y1="371.7744680851064" x2="370.3" y2="371.7744680851064" stroke="#888" stroke-width="0.5"/>
<line x1="368.0" y1="374.9659574468085" x2="370.7" y2="374.9659574468085" stroke="#444" stroke-width="0.9"/>
<line x1="368.7" y1="378.1574468085106" x2="370.3" y2="378.1574468085106" stroke="#888" stroke-width="0.5"/>
<line x1="368.7" y1="381.34893617021277" x2="370.3" y2="381.34893617021277" stroke="#888" stroke-width="0.5"/>
<line x1="368.7" y1="384.5404255319149" x2="370.3" y2="384.5404255319149" stroke="#888" stroke-width="0.5"/>
<line x1="368.0" y1="387.731914893617" x2="370.7" y2="387.731914893617" stroke="#444" stroke-width="0.9"/>
<line x1="368.7" y1="390.9234042553191" x2="370.3" y2="390.9234042553191" stroke="#888" stroke-width="0.5"/>
<line x1="368.7" y1="394.11489361702127" x2="370.3" y2="394.11489361702127" stroke="#888" stroke-width="0.5"/>
<line x1="368.7" y1="397.3063829787234" x2="370.3" y2="397.3063829787234" stroke="#888" stroke-width="0.5"/>
<line x1="368.0" y1="400.4978723404255" x2="370.7" y2="400.4978723404255" stroke="#444" stroke-width="0.9"/>
<line x1="368.7" y1="403.6893617021276" x2="370.3" y2="403.6893617021276" stroke="#888" stroke-width="0.5"/>
<line x1="368.7" y1="406.88085106382977" x2="370.3" y2="406.88085106382977" stroke="#888" stroke-width="0.5"/>
<line x1="368.7" y1="410.0723404255319" x2="370.3" y2="410.0723404255319" stroke="#888" stroke-width="0.5"/>
<line x1="368.0" y1="413.26382978723404" x2="370.7" y2="413.26382978723404" stroke="#444" stroke-width="0.9"/>
<line x1="368.7" y1="416.45531914893616" x2="370.3" y2="416.45531914893616" stroke="#888" stroke-width="0.5"/>
<line x1="368.7" y1="419.6468085106383" x2="370.3" y2="419.6468085106383" stroke="#888" stroke-width="0.5"/>
<line x1="368.7" y1="422.83829787234043" x2="370.3" y2="422.83829787234043" stroke="#888" stroke-width="0.5"/>
<line x1="371.8" y1="425.2" x2="371.8" y2="426.4" stroke="#555" stroke-width="0.5"/>
<line x1="376.18666666666667" y1="425.2" x2="376.18666666666667" y2="426.4" stroke="#555" stroke-width="0.5"/>
<line x1="380.5733333333333" y1="425.2" x2="380.5733333333333" y2="426.4" stroke="#555" stroke-width="0.5"/>
<line x1="384.96000000000004" y1="425.2" x2="384.96000000000004" y2="426.4" stroke="#555" stroke-width="0.5"/>
<line x1="389.3466666666667" y1="425.2" x2="389.3466666666667" y2="426.4" stroke="#555" stroke-width="0.5"/>
<line x1="393.73333333333335" y1="425.2" x2="393.73333333333335" y2="426.4" stroke="#555" stroke-width="0.5"/>
<line x1="398.12" y1="425.2" x2="398.12" y2="426.4" stroke="#555" stroke-width="0.5"/>
<line x1="402.50666666666666" y1="425.2" x2="402.50666666666666" y2="426.4" stroke="#555" stroke-width="0.5"/>
<line x1="406.8933333333334" y1="425.2" x2="406.8933333333334" y2="426.4" stroke="#555" stroke-width="0.5"/>
<line x1="411.28000000000003" y1="425.2" x2="411.28000000000003" y2="426.4" stroke="#555" stroke-width="0.5"/>
<line x1="415.6666666666667" y1="425.2" x2="415.6666666666667" y2="426.4" stroke="#555" stroke-width="0.5"/>
<line x1="420.05333333333334" y1="425.2" x2="420.05333333333334" y2="426.4" stroke="#555" stroke-width="0.5"/>
<line x1="424.44" y1="425.2" x2="424.44" y2="426.4" stroke="#555" stroke-width="0.5"/>
<line x1="428.8266666666667" y1="425.2" x2="428.8266666666667" y2="426.4" stroke="#555" stroke-width="0.5"/>
<line x1="433.21333333333337" y1="425.2" x2="433.21333333333337" y2="426.4" stroke="#555" stroke-width="0.5"/>
<line x1="437.6" y1="425.2" x2="437.6" y2="426.4" stroke="#555" stroke-width="0.5"/>
<rect x="443.5" y="359.5" width="70.0" height="66.0" stroke="#c4c4c4" stroke-width="1.0" fill="none"/>
<rect x="443.5" y="359.5" width="70.0" height="66.0" stroke="#8a8a8a" stroke-width="1.0" fill="none"/>
<line x1="443.5" y1="359.5" x2="443.5" y2="425.5" stroke="#505050" stroke-width="1.0"/>
<line x1="442.0" y1="362.6" x2="444.7" y2="362.6" stroke="#444" stroke-width="0.9"/>
<line x1="442.7" y1="365.77021276595747" x2="444.3" y2="365.77021276595747" stroke="#888" stroke-width="0.5"/>
<line x1="442.7" y1="368.9404255319149" x2="444.3" y2="368.9404255319149" stroke="#888" stroke-width="0.5"/>
<line x1="442.7" y1="372.11063829787236" x2="444.3" y2="372.11063829787236" stroke="#888" stroke-width="0.5"/>
<line x1="442.0" y1="375.2808510638298" x2="444.7" y2="375.2808510638298" stroke="#444" stroke-width="0.9"/>
<line x1="442.7" y1="378.45106382978724" x2="444.3" y2="378.45106382978724" stroke="#888" stroke-width="0.5"/>
<line x1="442.7" y1="381.6212765957447" x2="444.3" y2="381.6212765957447" stroke="#888" stroke-width="0.5"/>
<line x1="442.7" y1="384.79148936170213" x2="444.3" y2="384.79148936170213" stroke="#888" stroke-width="0.5"/>
<line x1="442.0" y1="387.9617021276596" x2="444.7" y2="387.9617021276596" stroke="#444" stroke-width="0.9"/>
<line x1="442.7" y1="391.131914893617" x2="444.3" y2="391.131914893617" stroke="#888" stroke-width="0.5"/>
<line x1="442.7" y1="394.30212765957447" x2="444.3" y2="394.30212765957447" stroke="#888" stroke-width="0.5"/>
<line x1="442.7" y1="397.4723404255319" x2="444.3" y2="397.4723404255319" stroke="#888" stroke-width="0.5"/>
<line x1="442.0" y1="400.64255319148936" x2="444.7" y2="400.64255319148936" stroke="#444" stroke-width="0.9"/>
<line x1="442.7" y1="403.8127659574468" x2="444.3" y2="403.8127659574468" stroke="#888" stroke-width="0.5"/>
<line x1="442.7" y1="406.98297872340424" x2="444.3" y2="406.98297872340424" stroke="#888" stroke-width="0.5"/>
<line x1="442.7" y1="410.1531914893617" x2="444.3" y2="410.1531914893617" stroke="#888" stroke-width="0.5"/>
<line x1="442.0" y1="413.32340425531913" x2="444.7" y2="413.32340425531913" stroke="#444" stroke-width="0.9"/>
<line x1="442.7" y1="416.4936170212766" x2="444.3" y2="416.4936170212766" stroke="#888" stroke-width="0.5"/>
<line x1="442.7" y1="419.663829787234" x2="444.3" y2="419.663829787234" stroke="#888" stroke-width="0.5"/>
<line x1="442.7" y1="422.83404255319147" x2="444.3" y2="422.83404255319147" stroke="#888" stroke-width="0.5"/>
<line x1="445.4" y1="425.2" x2="445.4" y2="426.4" stroke="#555" stroke-width="0.5"/>
<line x1="449.81333333333333" y1="425.2" x2="449.81333333333333" y2="426.4" stroke="#555" stroke-width="0.5"/>
<line x1="454.22666666666663" y1="425.2" x2="454.22666666666663" y2="426.4" stroke="#555" stroke-width="0.5"/>
<line x1="458.64" y1="425.2" x2="458.64" y2="426.4" stroke="#555" stroke-width="0.5"/>
<line x1="463.05333333333334" y1="425.2" x2="463.05333333333334" y2="426.4" stroke="#555" stroke-width="0.5"/>
<line x1="467.46666666666664" y1="425.2" x2="467.46666666666664" y2="426.4" stroke="#555" stroke-width="0.5"/>
<line x1="471.88" y1="425.2" x2="471.88" y2="426.4" stroke="#555" stroke-width="0.5"/>
<line x1="476.29333333333335" y1="425.2" x2="476.29333333333335" y2="426.4" stroke="#555" stroke-width="0.5"/>
<line x1="480.70666666666665" y1="425.2" x2="480.70666666666665" y2="426.4" stroke="#555" stroke-width="0.5"/>
<line x1="485.12" y1="425.2" x2="485.12" y2="426.4" stroke="#555" stroke-width="0.5"/>
<line x1="489.53333333333336" y1="425.2" x2="489.53333333333336" y2="426.4" stroke="#555" stroke-width="0.5"/>
<line x1="493.94666666666666" y1="425.2" x2="493.94666666666666" y2="426.4" stroke="#555" stroke-width="0.5"/>
<line x1="498.36" y1="425.2" x2="498.36" y2="426.4" stroke="#555" stroke-width="0.5"/>
<line x1="502.77333333333337" y1="425.2" x2="502.77333333333337" y2="426.4" stroke="#555" stroke-width="0.5"/>
<line x1="507.18666666666667" y1="425.2" x2="507.18666666666667" y2="426.4" stroke="#555" stroke-width="0.5"/>
<line x1="511.6" y1="425.2" x2="511.6" y2="426.4" stroke="#555" stroke-width="0.5"/>
<rect x="369.5" y="455.5" width="70.0" height="67.0" stroke="#c4c4c4" stroke-width="1.0" fill="none"/>
<line x1="368.0" y1="458.8" x2="370.7" y2="458.8" stroke="#444" stroke-width="0.9"/>
<line x1="368.7" y1="462.0074468085106" x2="370.3" y2="462.0074468085106" stroke="#888" stroke-width="0.5"/>
<line x1="368.7" y1="465.2148936170213" x2="370.3" y2="465.2148936170213" stroke="#888" stroke-width="0.5"/>
<line x1="368.7" y1="468.42234042553196" x2="370.3" y2="468.42234042553196" stroke="#888" stroke-width="0.5"/>
<line x1="368.0" y1="471.62978723404257" x2="370.7" y2="471.62978723404257" stroke="#444" stroke-width="0.9"/>
<line x1="368.7" y1="474.8372340425532" x2="370.3" y2="474.8372340425532" stroke="#888" stroke-width="0.5"/>
<line x1="368.7" y1="478.04468085106384" x2="370.3" y2="478.04468085106384" stroke="#888" stroke-width="0.5"/>
<line x1="368.7" y1="481.2521276595745" x2="370.3" y2="481.2521276595745" stroke="#888" stroke-width="0.5"/>
<line x1="368.0" y1="484.4595744680851" x2="370.7" y2="484.4595744680851" stroke="#444" stroke-width="0.9"/>
<line x1="368.7" y1="487.66702127659573" x2="370.3" y2="487.66702127659573" stroke="#888" stroke-width="0.5"/>
<line x1="368.7" y1="490.8744680851064" x2="370.3" y2="490.8744680851064" stroke="#888" stroke-width="0.5"/>
<line x1="368.7" y1="494.08191489361707" x2="370.3" y2="494.08191489361707" stroke="#888" stroke-width="0.5"/>
<line x1="368.0" y1="497.2893617021277" x2="370.7" y2="497.2893617021277" stroke="#444" stroke-width="0.9"/>
<line x1="368.7" y1="500.4968085106383" x2="370.3" y2="500.4968085106383" stroke="#888" stroke-width="0.5"/>
<line x1="368.7" y1="503.70425531914896" x2="370.3" y2="503.70425531914896" stroke="#888" stroke-width="0.5"/>
<line x1="368.7" y1="506.9117021276596" x2="370.3" y2="506.9117021276596" stroke="#888" stroke-width="0.5"/>
<line x1="368.0" y1="510.11914893617023" x2="370.7" y2="510.11914893617023" stroke="#444" stroke-width="0.9"/>
<line x1="368.7" y1="513.3265957446808" x2="370.3" y2="513.3265957446808" stroke="#888" stroke-width="0.5"/>
<line x1="368.7" y1="516.5340425531915" x2="370.3" y2="516.5340425531915" stroke="#888" stroke-width="0.5"/>
<line x1="368.7" y1="519.7414893617022" x2="370.3" y2="519.7414893617022" stroke="#888" stroke-width="0.5"/>
<line x1="371.8" y1="522.1" x2="371.8" y2="523.3000000000001" stroke="#555" stroke-width="0.5"/>
<line x1="376.18666666666667" y1="522.1" x2="376.18666666666667" y2="523.3000000000001" stroke="#555" stroke-width="0.5"/>
<line x1="380.5733333333333" y1="522.1" x2="380.5733333333333" y2="523.3000000000001" stroke="#555" stroke-width="0.5"/>
<line x1="384.96000000000004" y1="522.1" x2="384.96000000000004" y2="523.3000000000001" stroke="#555" stroke-width="0.5"/>
<line x1="389.3466666666667" y1="522.1" x2="389.3466666666667" y2="523.3000000000001" stroke="#555" stroke-width="0.5"/>
<line x1="393.73333333333335" y1="522.1" x2="393.73333333333335" y2="523.3000000000001" stroke="#555" stroke-width="0.5"/>
<line x1="398.12" y1="522.1" x2="398.12" y2="523.3000000000001" stroke="#555" stroke-width="0.5"/>
<line x1="402.50666666666666" y1="522.1" x2="402.50666666666666" y2="523.3000000000001" stroke="#555" stroke-width="0.5"/>
<line x1="406.8933333333334" y1="522.1" x2="406.8933333333334" y2="523.3000000000001" stroke="#555" stroke-width="0.5"/>
<line x1="411.28000000000003" y1="522.1" x2="411.28000000000003" y2="523.3000000000001" stroke="#555" stroke-width="0.5"/>
<line x1="415.6666666666667" y1="522.1" x2="415.6666666666667" y2="523.3000000000001" stroke="#555" stroke-width="0.5"/>
<line x1="420.05333333333334" y1="522.1" x2="420.05333333333334" y2="523.3000000000001" stroke="#555" stroke-width="0.5"/>
<line x1="424.44" y1="522.1" x2="424.44" y2="523.3000000000001" stroke="#555" stroke-width="0.5"/>
<line x1="428.8266666666667" y1="522.1" x2="428.8266666666667" y2="523.3000000000001" stroke="#555" stroke-width="0.5"/>
<line x1="433.21333333333337" y1="522.1" x2="433.21333333333337" y2="523.3000000000001" stroke="#555" stroke-width="0.5"/>
<line x1="437.6" y1="522.1" x2="437.6" y2="523.3000000000001" stroke="#555" stroke-width="0.5"/>
<rect x="444.5" y="456.5" width="69.0" height="66.0" stroke="#c4c4c4" stroke-width="1.0" fill="none"/>
<rect x="444.5" y="456.5" width="69.0" height="66.0" stroke="#8a8a8a" stroke-width="1.0" fill="none"/>
<line x1="444.5" y1="456.5" x2="444.5" y2="522.5" stroke="#505050" stroke-width="1.0"/>
<line x1="443.0" y1="459.2" x2="445.7" y2="459.2" stroke="#444" stroke-width="0.9"/>
<line x1="443.7" y1="462.38617021276593" x2="445.3" y2="462.38617021276593" stroke="#888" stroke-width="0.5"/>
<line x1="443.7" y1="465.57234042553193" x2="445.3" y2="465.57234042553193" stroke="#888" stroke-width="0.5"/>
<line x1="443.7" y1="468.7585106382979" x2="445.3" y2="468.7585106382979" stroke="#888" stroke-width="0.5"/>
<line x1="443.0" y1="471.9446808510638" x2="445.7" y2="471.9446808510638" stroke="#444" stroke-width="0.9"/>
<line x1="443.7" y1="475.13085106382977" x2="445.3" y2="475.13085106382977" stroke="#888" stroke-width="0.5"/>
<line x1="443.7" y1="478.31702127659577" x2="445.3" y2="478.31702127659577" stroke="#888" stroke-width="0.5"/>
<line x1="443.7" y1="481.5031914893617" x2="445.3" y2="481.5031914893617" stroke="#888" stroke-width="0.5"/>
<line x1="443.0" y1="484.68936170212766" x2="445.7" y2="484.68936170212766" stroke="#444" stroke-width="0.9"/>
<line x1="443.7" y1="487.8755319148936" x2="445.3" y2="487.8755319148936" stroke="#888" stroke-width="0.5"/>
<line x1="443.7" y1="491.0617021276596" x2="445.3" y2="491.0617021276596" stroke="#888" stroke-width="0.5"/>
<line x1="443.7" y1="494.24787234042554" x2="445.3" y2="494.24787234042554" stroke="#888" stroke-width="0.5"/>
<line x1="443.0" y1="497.4340425531915" x2="445.7" y2="497.4340425531915" stroke="#444" stroke-width="0.9"/>
<line x1="443.7" y1="500.62021276595743" x2="445.3" y2="500.62021276595743" stroke="#888" stroke-width="0.5"/>
<line x1="443.7" y1="503.80638297872343" x2="445.3" y2="503.80638297872343" stroke="#888" stroke-width="0.5"/>
<line x1="443.7" y1="506.9925531914894" x2="445.3" y2="506.9925531914894" stroke="#888" stroke-width="0.5"/>
<line x1="443.0" y1="510.1787234042553" x2="445.7" y2="510.1787234042553" stroke="#444" stroke-width="0.9"/>
<line x1="443.7" y1="513.3648936170213" x2="445.3" y2="513.3648936170213" stroke="#888" stroke-width="0.5"/>
<line x1="443.7" y1="516.5510638297873" x2="445.3" y2="516.5510638297873" stroke="#888" stroke-width="0.5"/>
<line x1="443.7" y1="519.7372340425532" x2="445.3" y2="519.7372340425532" stroke="#888" stroke-width="0.5"/>
<line x1="446.4" y1="522.1" x2="446.4" y2="523.3000000000001" stroke="#555" stroke-width="0.5"/>
<line x1="450.74666666666667" y1="522.1" x2="450.74666666666667" y2="523.3000000000001" stroke="#555" stroke-width="0.5"/>
<line x1="455.0933333333333" y1="522.1" x2="455.0933333333333" y2="523.3000000000001" stroke="#555" stroke-width="0.5"/>
<line x1="459.44" y1="522.1" x2="459.44" y2="523.3000000000001" stroke="#555" stroke-width="0.5"/>
<line x1="463.78666666666663" y1="522.1" x2="463.78666666666663" y2="523.3000000000001" stroke="#555" stroke-width="0.5"/>
<line x1="468.1333333333333" y1="522.1" x2="468.1333333333333" y2="523.3000000000001" stroke="#555" stroke-width="0.5"/>
<line x1="472.48" y1="522.1" x2="472.48" y2="523.3000000000001" stroke="#555" stroke-width="0.5"/>
<line x1="476.82666666666665" y1="522.1" x2="476.82666666666665" y2="523.3000000000001" stroke="#555" stroke-width="0.5"/>
<line x1="481.17333333333335" y1="522.1" x2="481.17333333333335" y2="523.3000000000001" stroke="#555" stroke-width="0.5"/>
<line x1="485.52" y1="522.1" x2="485.52" y2="523.3000000000001" stroke="#555" stroke-width="0.5"/>
<line x1="489.8666666666667" y1="522.1" x2="489.8666666666667" y2="523.3000000000001" stroke="#555" stroke-width="0.5"/>
<line x1="494.21333333333337" y1="522.1" x2="494.21333333333337" y2="523.3000000000001" stroke="#555" stroke-width="0.5"/>
<line x1="498.56" y1="522.1" x2="498.56" y2="523.3000000000001" stroke="#555" stroke-width="0.5"/>
<line x1="502.9066666666667" y1="522.1" x2="502.9066666666667" y2="523.3000000000001" stroke="#555" stroke-width="0.5"/>
<line x1="507.25333333333333" y1="522.1" x2="507.25333333333333" y2="523.3000000000001" stroke="#555" stroke-width="0.5"/>
<line x1="511.6" y1="522.1" x2="511.6" y2="523.3000000000001" stroke="#555" stroke-width="0.5"/>
<clipPath id="hc1"><polygon points="377,425.5 379.5,423.6 382.9,418.9 386.3,409.3 389,395.8 390.1,390.3 390.8,379.5 391.7,368.6 393.1,364.2 394.5,368.6 395.5,382.2 396.5,395.8 397.2,409.3 398.1,418.9 399.2,423 401.3,424.8 439,425 439,425.5"/></clipPath>
<polygon points="374.8,425.5 378.2,420.2 380.9,413.4 382.9,403.9 384.3,393 385.2,382.2 386.6,371.3 387.4,365.9 388.8,371.3 389.7,379.5 390.6,392 391.6,404 392.8,414 394.5,421 396.5,424.5 398,425.5" fill="rgb(218,100,85)"/>
<polygon points="377,425.5 379.5,423.6 382.9,418.9 386.3,409.3 389,395.8 390.1,390.3 390.8,379.5 391.7,368.6 393.1,364.2 394.5,368.6 395.5,382.2 396.5,395.8 397.2,409.3 398.1,418.9 399.2,423 401.3,424.8 439,425 439,425.5" fill="rgb(140,193,238)"/>
<polygon points="374.8,425.5 378.2,420.2 380.9,413.4 382.9,403.9 384.3,393 385.2,382.2 386.6,371.3 387.4,365.9 388.8,371.3 389.7,379.5 390.6,392 391.6,404 392.8,414 394.5,421 396.5,424.5 398,425.5" fill="rgb(154,174,210)" clip-path="url(#hc1)"/>
<text x="403.1" y="356" font-size="6.6" text-anchor="middle" font-weight="normal" fill="#222" textLength="15.6" lengthAdjust="spacingAndGlyphs">THP-1</text>
<text x="381.2" y="437.2" font-size="6.6" text-anchor="middle" font-weight="normal" fill="#222">0</text>
<text x="401.3" y="437.2" font-size="6.6" text-anchor="middle" fill="#222">10<tspan font-size="4.36" baseline-shift="2.77">4</tspan></text>
<text x="412.4" y="437.2" font-size="6.6" text-anchor="middle" fill="#222">10<tspan font-size="4.36" baseline-shift="2.77">5</tspan></text>
<text x="423.6" y="437.2" font-size="6.6" text-anchor="middle" fill="#222">10<tspan font-size="4.36" baseline-shift="2.77">6</tspan></text>
<text x="434.2" y="437.2" font-size="6.6" text-anchor="middle" fill="#222">10<tspan font-size="4.36" baseline-shift="2.77">7</tspan></text>
<clipPath id="hc2"><polygon points="458.8,425.5 460.6,418.9 462.2,409.3 463.6,395.8 465,382.2 466.3,365.9 467.5,363.2 468.8,362.3 470.2,363.5 471,366.5 472.3,375 473.6,389 475,399 476.3,408 478.3,415 480.5,419.5 483.5,422.3 487,423.8 491,424.6 513,425.2 513,425.5"/></clipPath>
<polygon points="457.5,425.5 458.8,418.9 460.2,409.3 461.5,395.8 462.9,382.2 464.3,368.6 465.2,362.9 466.5,366 468.5,375 469.8,389 471.3,402.6 472.8,412 475,419 479,423 483,425.5" fill="rgb(218,100,85)"/>
<polygon points="458.8,425.5 460.6,418.9 462.2,409.3 463.6,395.8 465,382.2 466.3,365.9 467.5,363.2 468.8,362.3 470.2,363.5 471,366.5 472.3,375 473.6,389 475,399 476.3,408 478.3,415 480.5,419.5 483.5,422.3 487,423.8 491,424.6 513,425.2 513,425.5" fill="rgb(140,193,238)"/>
<polygon points="457.5,425.5 458.8,418.9 460.2,409.3 461.5,395.8 462.9,382.2 464.3,368.6 465.2,362.9 466.5,366 468.5,375 469.8,389 471.3,402.6 472.8,412 475,419 479,423 483,425.5" fill="rgb(154,174,210)" clip-path="url(#hc2)"/>
<text x="479.6" y="356.2" font-size="6.6" text-anchor="middle" font-weight="normal" fill="#222" textLength="20" lengthAdjust="spacingAndGlyphs">MV4-11</text>
<text x="447.7" y="437.2" font-size="6.6" text-anchor="middle" fill="#222">-10<tspan font-size="4.36" baseline-shift="2.77">3</tspan></text>
<text x="462.3" y="437.2" font-size="6.6" text-anchor="middle" font-weight="normal" fill="#222">0</text>
<text x="473.1" y="437.2" font-size="6.6" text-anchor="middle" fill="#222">10<tspan font-size="4.36" baseline-shift="2.77">3</tspan></text>
<text x="491.2" y="437.2" font-size="6.6" text-anchor="middle" fill="#222">10<tspan font-size="4.36" baseline-shift="2.77">4</tspan></text>
<text x="507.6" y="437.2" font-size="6.6" text-anchor="middle" fill="#222">10<tspan font-size="4.36" baseline-shift="2.77">5</tspan></text>
<clipPath id="hc3"><polygon points="386,522 388.6,515.9 390.6,506.3 392.7,492.8 394,479.2 395.4,465.6 396.3,463.5 397.2,466 398.4,458.8 399.5,465.6 400.5,479.2 401.5,492.8 402.9,506.3 404.2,515.9 406,520.6 410.3,521.8 439,521.9 439,522"/></clipPath>
<polygon points="384.5,522 386.5,515.9 388.6,506.3 389.9,492.8 391.3,479.2 392.7,468.3 393.5,462 394.8,461.5 396.1,465.6 397.5,475 398.6,490 399.8,503 401.2,513 403,519 405,522" fill="rgb(218,100,85)"/>
<polygon points="386,522 388.6,515.9 390.6,506.3 392.7,492.8 394,479.2 395.4,465.6 396.3,463.5 397.2,466 398.4,458.8 399.5,465.6 400.5,479.2 401.5,492.8 402.9,506.3 404.2,515.9 406,520.6 410.3,521.8 439,521.9 439,522" fill="rgb(140,193,238)"/>
<polygon points="384.5,522 386.5,515.9 388.6,506.3 389.9,492.8 391.3,479.2 392.7,468.3 393.5,462 394.8,461.5 396.1,465.6 397.5,475 398.6,490 399.8,503 401.2,513 403,519 405,522" fill="rgb(154,174,210)" clip-path="url(#hc3)"/>
<text x="401.5" y="454.2" font-size="6.6" text-anchor="middle" font-weight="normal" fill="#222" textLength="20.5" lengthAdjust="spacingAndGlyphs">Molm13</text>
<text x="374.6" y="532.8" font-size="6.6" text-anchor="middle" fill="#222">-10<tspan font-size="4.36" baseline-shift="2.77">3</tspan></text>
<text x="385.8" y="532.8" font-size="6.6" text-anchor="middle" font-weight="normal" fill="#222">0</text>
<text x="398.9" y="532.8" font-size="6.6" text-anchor="middle" fill="#222">10<tspan font-size="4.36" baseline-shift="2.77">3</tspan></text>
<text x="417.6" y="532.8" font-size="6.6" text-anchor="middle" fill="#222">10<tspan font-size="4.36" baseline-shift="2.77">4</tspan></text>
<text x="433.4" y="532.8" font-size="6.6" text-anchor="middle" fill="#222">10<tspan font-size="4.36" baseline-shift="2.77">5</tspan></text>
<clipPath id="hc4"><polygon points="458.8,522 460.2,517.2 462,506.3 463.3,492.8 464.7,479.2 466,465.6 467,459.5 468.3,465.6 469.7,479.2 471.1,492.8 472.4,503.6 474.5,513.1 477.2,518.6 481.3,520.6 486.7,521.3 490.8,521.9 512.5,521.9 512.5,522"/></clipPath>
<polygon points="457.8,522 458.4,519.3 460.2,510.4 461.5,499.6 462.9,486 464.3,472.4 465.4,458.8 466.5,463 467.8,474 469.2,488 470.5,500 472,510 474,516 477,519.5 481,521 486,522" fill="rgb(218,100,85)"/>
<polygon points="458.8,522 460.2,517.2 462,506.3 463.3,492.8 464.7,479.2 466,465.6 467,459.5 468.3,465.6 469.7,479.2 471.1,492.8 472.4,503.6 474.5,513.1 477.2,518.6 481.3,520.6 486.7,521.3 490.8,521.9 512.5,521.9 512.5,522" fill="rgb(140,193,238)"/>
<polygon points="457.8,522 458.4,519.3 460.2,510.4 461.5,499.6 462.9,486 464.3,472.4 465.4,458.8 466.5,463 467.8,474 469.2,488 470.5,500 472,510 474,516 477,519.5 481,521 486,522" fill="rgb(154,174,210)" clip-path="url(#hc4)"/>
<polyline points="458.2,521.5 458.4,519.3 460.2,510.4 461.5,499.6 462.9,486 464.3,472.4 465.4,458.8 466.2,461" fill="none" stroke="#c04848" stroke-width="0.6"/>
<text x="479.4" y="453.4" font-size="6.6" text-anchor="middle" font-weight="normal" fill="#222" textLength="14.4" lengthAdjust="spacingAndGlyphs">U937</text>
<text x="448" y="532.8" font-size="6.6" text-anchor="middle" fill="#222">-10<tspan font-size="4.36" baseline-shift="2.77">3</tspan></text>
<text x="462" y="532.8" font-size="6.6" text-anchor="middle" font-weight="normal" fill="#222">0</text>
<text x="471.6" y="532.8" font-size="6.6" text-anchor="middle" fill="#222">10<tspan font-size="4.36" baseline-shift="2.77">3</tspan></text>
<text x="491" y="532.8" font-size="6.6" text-anchor="middle" fill="#222">10<tspan font-size="4.36" baseline-shift="2.77">4</tspan></text>
<text x="507.5" y="532.8" font-size="6.6" text-anchor="middle" fill="#222">10<tspan font-size="4.36" baseline-shift="2.77">5</tspan></text>
<ellipse cx="381.2" cy="425.4" rx="1.5" ry="0.9" fill="#111"/>
<ellipse cx="459.4" cy="425.4" rx="1.5" ry="0.9" fill="#111"/>
<ellipse cx="385.3" cy="522" rx="1.5" ry="0.9" fill="#111"/>
<ellipse cx="459.2" cy="522" rx="1.5" ry="0.9" fill="#111"/>
<rect x="375.4" y="538.8" width="5.6" height="5.8" fill="#d87860"/>
<text x="385.9" y="543.6" font-size="6.6" text-anchor="start" font-weight="normal" fill="#333" textLength="17.9" lengthAdjust="spacingAndGlyphs">Isotype</text>
<rect x="430" y="538.8" width="5.6" height="5.8" fill="#9ccaec"/>
<text x="440.7" y="543.8" font-size="6.6" text-anchor="start" font-weight="normal" fill="#333" textLength="29" lengthAdjust="spacingAndGlyphs">Anti-IGSF9</text>
</svg>
</body></html>
